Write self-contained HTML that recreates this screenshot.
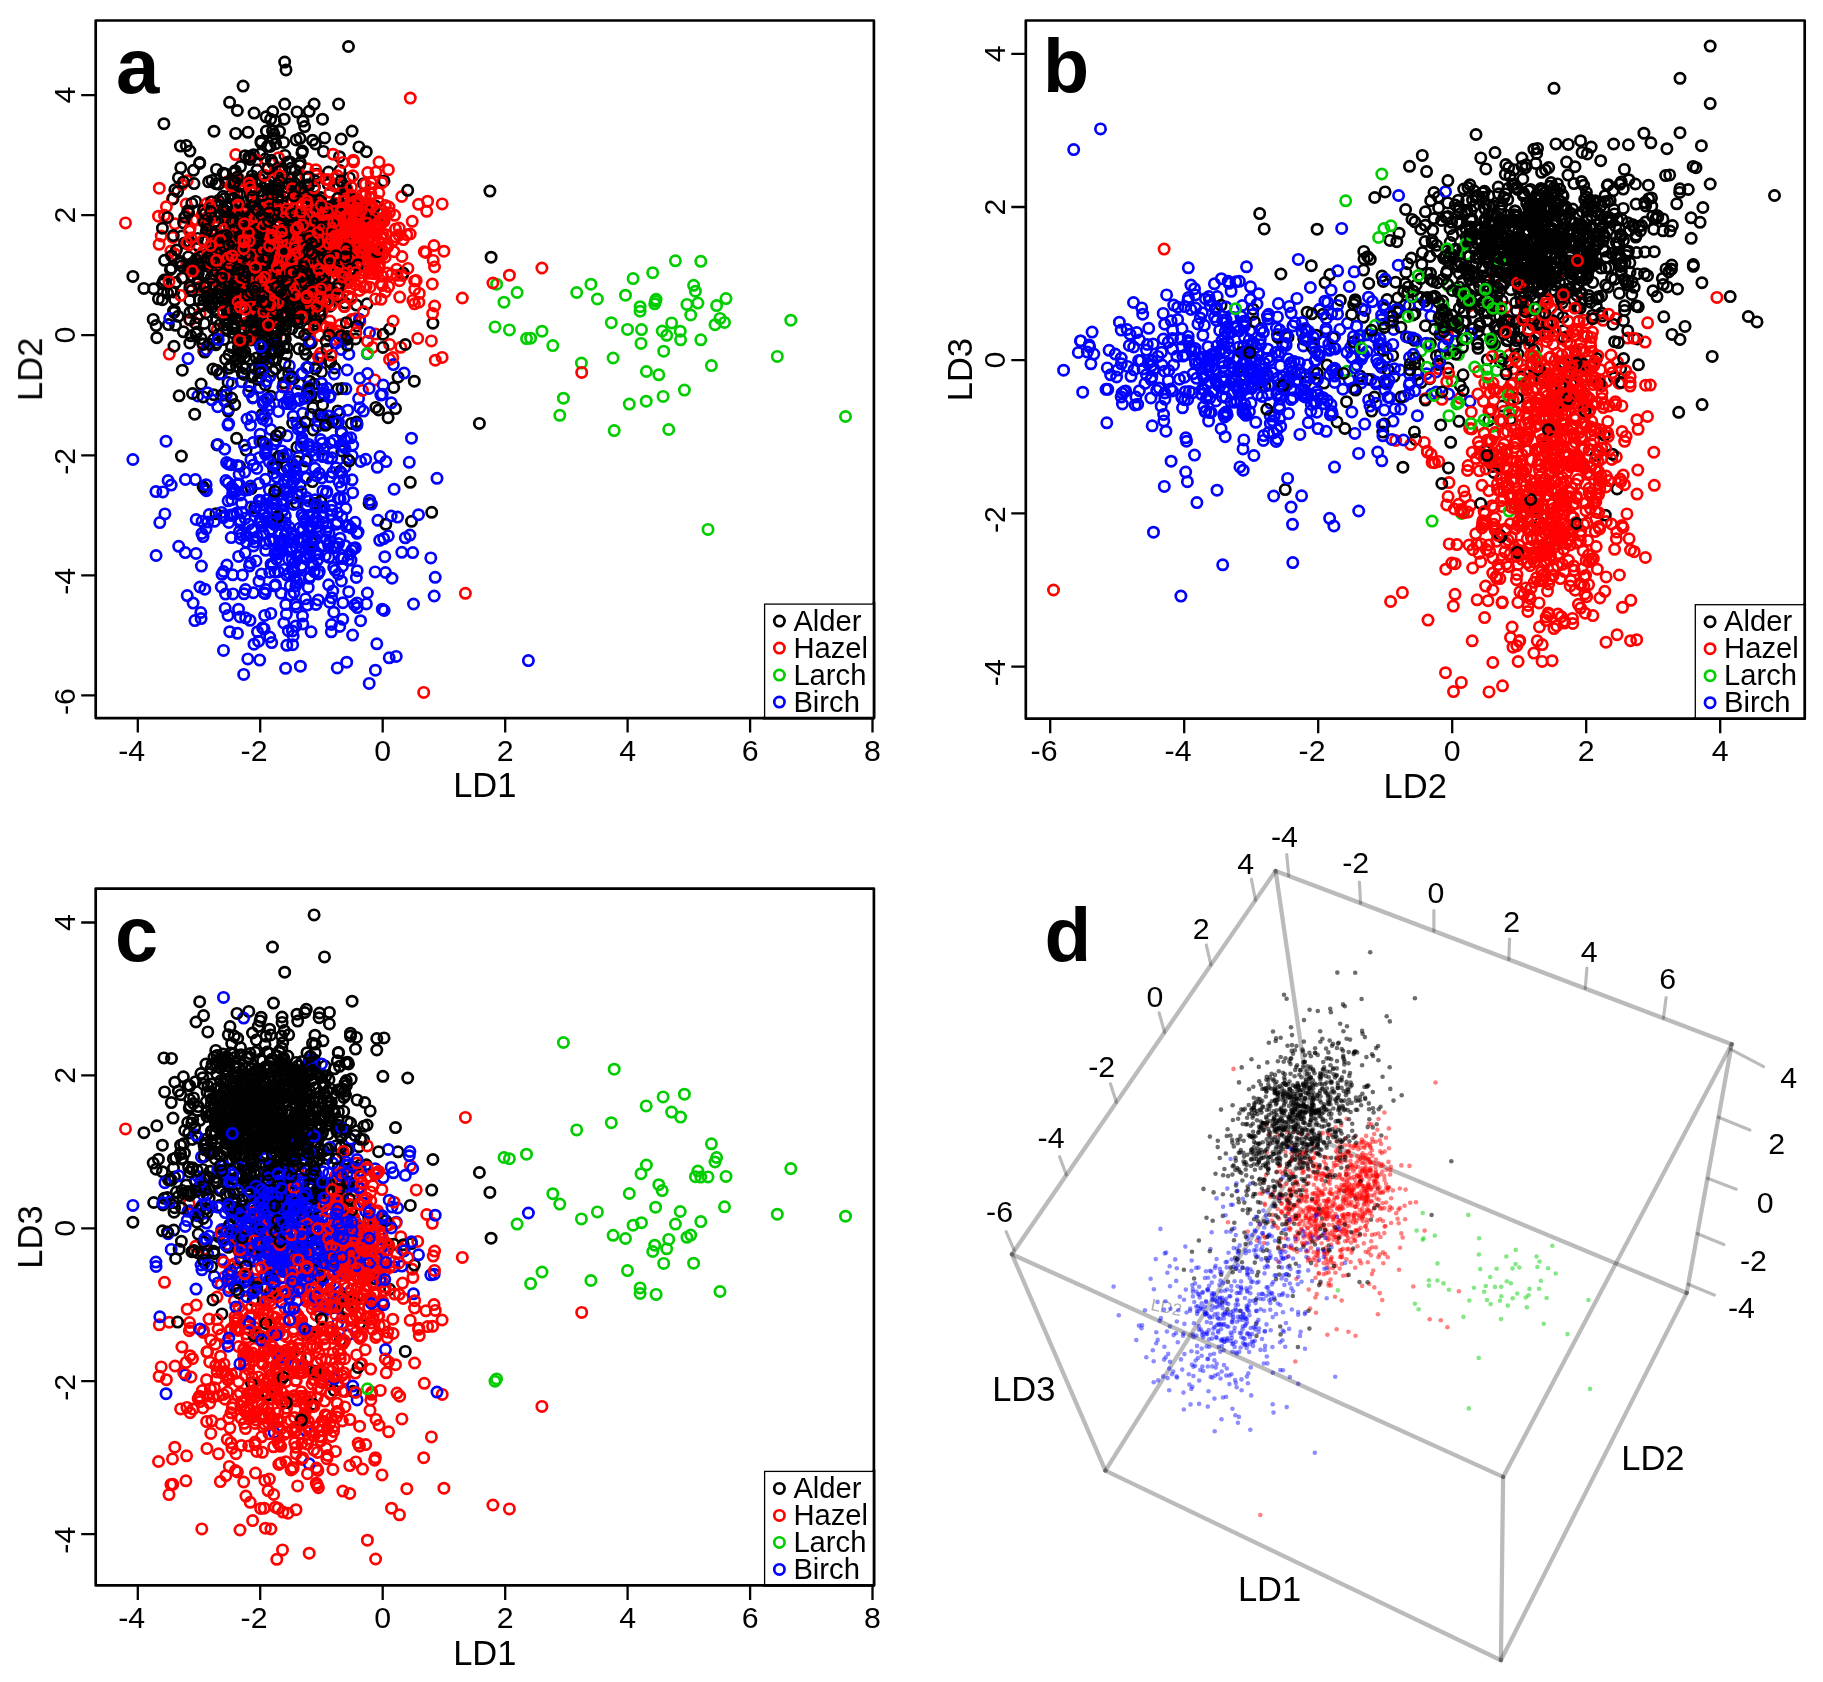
<!DOCTYPE html><html><head><meta charset="utf-8"><title>LDA</title><style>
html,body{margin:0;padding:0;background:#fff}svg{display:block}
text{font-family:"Liberation Sans",sans-serif;fill:#000}
.t{font-size:30.3px;text-anchor:middle}.l{font-size:34.5px;text-anchor:middle}.g{font-size:29.2px}.p{font-size:79px;font-weight:bold}
.d{font-size:30.3px;text-anchor:middle}
path[class^=m]{fill:none;stroke:none}
.m0{marker-start:url(#k0);marker-mid:url(#k0);marker-end:url(#k0)}
.s0{marker-start:url(#d0);marker-mid:url(#d0);marker-end:url(#d0)}
.m1{marker-start:url(#k1);marker-mid:url(#k1);marker-end:url(#k1)}
.s1{marker-start:url(#d1);marker-mid:url(#d1);marker-end:url(#d1)}
.m2{marker-start:url(#k2);marker-mid:url(#k2);marker-end:url(#k2)}
.s2{marker-start:url(#d2);marker-mid:url(#d2);marker-end:url(#d2)}
.m3{marker-start:url(#k3);marker-mid:url(#k3);marker-end:url(#k3)}
.s3{marker-start:url(#d3);marker-mid:url(#d3);marker-end:url(#d3)}
</style></head><body>
<svg width="1823" height="1682" viewBox="0 0 1823 1682">
<defs>
<marker id="k0" markerUnits="userSpaceOnUse" markerWidth="16" markerHeight="16" refX="8" refY="8" viewBox="0 0 16 16" overflow="visible"><circle cx="8" cy="8" r="5.15" fill="none" stroke="#000000" stroke-width="2.7"/></marker>
<marker id="d0" markerUnits="userSpaceOnUse" markerWidth="8" markerHeight="8" refX="4" refY="4" viewBox="0 0 8 8" overflow="visible"><circle cx="4" cy="4" r="2.3" fill="#000000" fill-opacity="0.58"/></marker>
<marker id="k1" markerUnits="userSpaceOnUse" markerWidth="16" markerHeight="16" refX="8" refY="8" viewBox="0 0 16 16" overflow="visible"><circle cx="8" cy="8" r="5.15" fill="none" stroke="#ff0000" stroke-width="2.7"/></marker>
<marker id="d1" markerUnits="userSpaceOnUse" markerWidth="8" markerHeight="8" refX="4" refY="4" viewBox="0 0 8 8" overflow="visible"><circle cx="4" cy="4" r="2.3" fill="#ff0000" fill-opacity="0.5"/></marker>
<marker id="k2" markerUnits="userSpaceOnUse" markerWidth="16" markerHeight="16" refX="8" refY="8" viewBox="0 0 16 16" overflow="visible"><circle cx="8" cy="8" r="5.15" fill="none" stroke="#00cd00" stroke-width="2.7"/></marker>
<marker id="d2" markerUnits="userSpaceOnUse" markerWidth="8" markerHeight="8" refX="4" refY="4" viewBox="0 0 8 8" overflow="visible"><circle cx="4" cy="4" r="2.3" fill="#00cd00" fill-opacity="0.48"/></marker>
<marker id="k3" markerUnits="userSpaceOnUse" markerWidth="16" markerHeight="16" refX="8" refY="8" viewBox="0 0 16 16" overflow="visible"><circle cx="8" cy="8" r="5.15" fill="none" stroke="#0000ff" stroke-width="2.7"/></marker>
<marker id="d3" markerUnits="userSpaceOnUse" markerWidth="8" markerHeight="8" refX="4" refY="4" viewBox="0 0 8 8" overflow="visible"><circle cx="4" cy="4" r="2.3" fill="#0000ff" fill-opacity="0.45"/></marker>
</defs>
<rect width="1823" height="1682" fill="#fff"/>
<g opacity="0.999">
<g><path class="m0" d="M206.2 231.5L242.3 247.6L205.6 222L238.5 355.3L287.1 187.5L339.9 471.4L207.8 260.3L254.9 209.3L259.6 222.8L272.7 111.5L225.9 391L248.9 391.4L270.1 258.8L247.8 294.9L290.9 168.3L241.8 300.8L249.2 303.7L237.3 193.5L228.2 259.2L262 414.6L313.4 264.5L230.3 245.8L179.1 395.8L250.2 239.8L251.8 258.9L263.9 301.3L242.8 220.9L267 284.1L228.2 203.9L218.1 252.1L327.2 300.8"/><path class="m1" d="M242.7 278.1L215.3 269.8L327.7 269.3L225.9 220.2L170.9 251L228.9 224.7L266.5 271.4L264.9 271L317.6 271.4L342.3 272.3L330.9 228.1L337.9 331L278.5 299.4L375.7 269.1L250.1 246.2L240.7 233.5L294 220.1L175 223.7L295.4 278.3L305.9 176.7L325.7 246.1L284.9 313.1L303.4 258.2L276.2 206.6L229.3 265.3"/><path class="m0" d="M299.1 383.8L263.3 250.1L266.9 256.1L232.2 327.8L252 217.6L190 312.3L289.9 275.8L303 211.6L270.7 291L304.2 285.3L269.4 199.3L288.7 373.5L411.5 521.3L321.5 371.9L272.5 131.1L261.8 275.3L388.1 417.7L363.6 183.7L304.7 306.6L257.5 257.8L329.8 306.2L195.6 201.4L323.8 449.2L215.5 286.7L251.4 228.8L339.5 156.7L217 444.9L280 210.7L306.8 298.9L242.8 366L248.8 157.2"/><path class="m0" d="M264.4 327L234.9 172.6L254.8 209.6L209.2 304.1L267.9 244L313.9 199.8L272.4 352.7L258 261.6L261.9 309L260 218.9L410.3 482.3L315.4 229.8L369.1 503.4L317.7 212L299.7 226.8L296 246.9L261.1 142.9L309.2 111.3L234.8 248L293.7 274.1L304.6 349.3L272.1 290.5L306.3 220.3L304.3 240.9L227.3 318.2L266 254.9L325 288.9L248.6 243L322.8 325.7L398 377.2L343.8 185.4"/><path class="m1" d="M244.5 212.6L324.8 256.5L186.6 264.6L185.9 216.1L329.8 321.1L370.8 256.9L277.3 207L207.6 224.4L276.1 338L285.3 385.9L257.7 237.1L221.7 271.1L224.6 239.1L278.8 214.7L328.7 242.8L232.3 285.1L264.2 175.4L336.6 252.9L228.6 252.2L238.7 298.8L207.2 227.7L424.3 251.7L318.1 224.6L240.9 264L236.3 286.9"/><path class="m3" d="M311.1 631.8L285.6 522.8L275.5 584.8L255.1 510.7L365.7 459.3L248.7 524.2L257.2 536.8L291.5 404.1L253.1 538.4L289.4 365.8L245.6 617.8L316.8 366.4L274.1 540.8L301.6 373.5L338.6 543.5L348.3 525.4"/><path class="m0" d="M343.5 263.8L358.9 146.9L227 330.4L328.1 290.4L283.8 259.8L247.1 326L302.4 151L297.8 213.8L260.6 206.6L239.4 267.2L238.5 348L253.2 336.8L223.7 242.6L274.7 465.2L268.4 287.4L272.9 303L280.4 261.7L270.1 181.8L253.5 154.7L234.2 259.6L246.9 223.4L334.3 256.2L255.4 327.9L268.4 290.6L292.5 315.6L162.4 299.7L265.3 159.1L264 224.6L235.5 263.1L277.7 208.5L173.5 311"/><path class="m1" d="M352 320.1L286.6 213.7L301.8 245.1L277.4 225.9L302.3 217.8L320.2 305.8L301.1 308.1L247.3 183.1L262.3 206.8L278.1 317.3L262.4 213L276.8 197.1L189.5 290.4L252.1 255.3L376 172.1L351.7 239.9L378.6 266.5L330.4 328L274 215.4L340.5 252.8L351.5 319.6L281.8 297.9L330.2 247L331.3 244.5L218.5 217.3"/><path class="m3" d="M312.5 537.8L367.3 353.7L293.6 569.3L273.7 473.2L331.6 597.7L276.6 488.7L311.7 564L281.1 593.2L360.6 461.4L263 514.7L396.2 656.4L306.4 508L308.2 546.9L254.2 529.7L284.3 481.3L265.9 448.3"/><path class="m0" d="M216.4 319.4L286 69.9L255.5 258.7L258.2 309.6L260.9 363.3L338.4 270.4L243.1 86.1L296.3 309L263.5 218.7L189.7 300.5L296.2 287.5L212.1 239.5L267.1 305.6L236.7 325.9L202.7 343.7L241.1 301.1L316.8 174.3L263.8 345.8L253.5 229.9L231.3 273.6L156.1 325.6L367.1 303.8L314.7 285.6L360.2 204.3L273.5 313.9L276.5 212.8L210.3 207.8L292.7 423L174.7 299.8L260.3 235.6L344.5 269.6"/><path class="m1" d="M308.3 234.9L293.8 280.4L373 207.6L255.5 221.2L254.3 288.9L284.1 243.2L292.9 312.9L276.8 302.2L359.6 290.5L338.2 228.2L303.2 290L304.6 249.5L325.2 286.1L227.3 255.2L308.4 244.8L406.8 234.7L282.9 254.6L198.1 265.2L295.8 277.7L370.8 187.8L229.9 215.2L200.1 286.8L195.6 262.7L317.5 255.8L380.3 224.5"/><path class="m0" d="M255.8 208.3L309.6 222.3L252.5 287.2L261 219.7L250.9 339.9L314.1 104.1L284.9 155.4L153.7 288.7L254.5 265.3L342 388.5L230.4 225.1L252.3 337.4L234.4 250.6L256.6 252L265.6 183.3L227.7 222.4L273.9 134L315.7 307.9L269 225.1L206.8 297.1L255.6 217.1L294.2 282.6L299.7 165.5L295.3 271L389.6 329.1L293.6 263.7L262.3 220.5L300.1 246.5L203.5 210.5L259.2 281.4L344.8 271.2"/><path class="m1" d="M320.7 353.2L238.6 178.7L325.1 279.6L310.4 227L284.9 246.2L272.4 291.1L375.4 298.9L315.8 169.7L401.9 256.5L265.7 251.8L159.1 244.3L210.8 265.5L174.8 253.9L288 277.3L308.1 297.4L264.7 267.2L292.9 275L292 265.1L235.4 299.8L442.2 203.9L255.1 253.9L235.2 272.6L267.1 215.1L396.6 269.3L324.4 251.8"/><path class="m3" d="M355.1 522.3L237.3 484.3L223.8 515.8L266.6 448.2L358.1 532.1L319.3 571.6L273.2 466.6L528.4 660.6L238.5 609.2L300.9 446.8L296.7 607.1L344.1 498.3L318.9 533L239.8 522.2L345.2 545.7L323.3 393.3"/><path class="m3" d="M287.8 481.1L297.1 391L252.1 529.7L273.9 443.8L350.8 437.8L260.3 520.1L233 593.9L250.5 486.1L329.6 602.2L299.5 528.3L347.5 459L303.1 529L295.8 585.9L271.8 507.7L335.2 570.3L282.6 543.6"/><path class="m0" d="M262.7 362.6L289.6 285L286.5 354.5L299.4 278.1L266.7 223.2L272.9 371.2L249.3 255.8L311.3 342.9L239.6 466.3L271.2 256.8L248.3 289.8L338.2 185L281.1 337.7L341.8 450.9L262.8 176L235.7 133.4L275.4 263.4L192.7 262.9L265.6 271.3L351.2 244L282 286.3L233.6 217.4L244.6 357.6L284.4 248.7L295.6 270.3L384 180.9L197.5 273.5L220.8 283L216.6 320.1L234.4 329.1L215.9 513.7"/><path class="m1" d="M227 182L277.9 239.3L302.7 245.6L283.4 288.2L305 242.8L294 268.6L310.6 260.4L384 251.9L234.7 239L190.1 320.1L231.5 259.8L423.7 692.4L312.1 243.1L276.5 267.2L278.5 157.7L298.2 272.9L209 287.3L253 189.7L271.7 253.6L419.3 293.4L410.3 98.1L373.1 212.5L272 267.9L327 301.1L206.6 283.2"/><path class="m0" d="M292.5 282.7L278.1 201.1L143.9 288.4L311.1 542.3L256.7 226.8L324.7 137.9L248 322.2L264.1 243.7L226.8 274.5L206.9 297.2L271.2 304.1L164.2 280.1L252.5 200L267.2 305.5L279.9 456.3L319.4 396.7L263.6 206.6L266.8 265.9L271.3 268.2L273.7 285.4L251.4 292.7L215.6 205.9L309.2 278.3L234.3 284.6L307.3 397L249.3 385.9L306.8 315.8L345.1 303L230 272.8L174.8 189.8L254.5 236.6"/><path class="m0" d="M283.1 294.3L174.5 310.7L308.3 261.1L258.9 248.2L271.8 289.1L308.3 289.8L260.6 377.4L285.9 302L228.1 382.4L298.9 318.8L314 198.2L221.6 395.3L340.2 297.9L267.7 194.7L243.1 270.2L289.9 161.9L282.7 286.4L291.8 294.9L217 292.9L223.2 173.2L244 374.5L359.7 206.4L237.9 288.9L308.5 266L275.7 359.8L258.5 363.1L230.6 195.6L237.5 215.6L231.8 308.4L253.9 280.2L234.5 218"/><path class="m3" d="M322.9 389.2L329 532.7L335.7 422.4L327.7 527L256.8 468.5L259.9 441.2L330.2 442.7L318 554L303.9 557.9L272.6 565L329.9 541.4L352.7 492.7L221.6 512.4L224.9 401.3L337.6 512.9L268.1 398.4"/><path class="m1" d="M220.5 212.4L247.7 275.8L412.2 221.3L333.9 208.7L337.6 274.9L343.7 340.2L273.2 247.8L244.4 323.5L282.9 210.9L301.7 274.5L306.7 226.2L265.4 245.7L230.9 254.1L277 189L206.5 262.8L340.3 324.8L316.9 211.7L265 246.9L196.2 219.9L316.2 227.8L284.2 284.8L291 276.4L249.8 301.4L199.5 255.5L263.2 272.7"/><path class="m0" d="M221.9 251L199.7 163.5L356.4 305.1L297.9 268.6L241.3 343.3L274.7 308.4L229.8 229L273.9 176.2L249 229.1L224.7 324.9L248.4 254.9L271.8 243.4L277.7 330.3L223.8 265L322.5 119.2L203.9 300L246.2 337L263.9 262.7L218.3 334.6L328.2 184.3L341.2 431.4L219.4 373.9L253.5 375L312.6 359.5L283.8 382.8L276.2 216.2L171.4 268.2L244 233.6L183.4 331.8L249.1 278.4L272.7 299.5"/><path class="m3" d="M292.7 644.7L308.7 444.4L430.8 557.9L274.8 571.9L271.7 642.6L331.3 505.7L221.3 587L279.7 551.8L392 578.2L322.8 490.9L434.2 596L226.6 462.6L226.2 395L285.3 515.9L311.8 547.5L260.1 387.7"/><path class="m1" d="M322.4 240.6L221.1 276.6L227.2 301.1L412.9 300.4L288.2 290.6L227.2 274L223.4 242.8L355.3 318.8L280.4 197.5L400.8 347.3L169.3 354.1L365.7 252L319.5 292.9L274.1 257.8L263.9 248.2L410.2 234L367.3 241.4L181.9 184.7L442.1 357.4L238.7 279.8L279.4 197.3L245.5 251L256.7 248.7L301.2 298.9L285.9 271.1"/><path class="m3" d="M359.8 407.7L230.5 515.1L178.7 546.3L320.4 358.1L298 429L326.4 492.9L356.9 425.2L375.4 670.2L377.9 520.3L296.8 581.9L327 388.3L264.2 628.9L301.7 427.4L313.6 565.4L207.7 522.1L343.9 338.5"/><path class="m0" d="M348.5 46.5L281 321.7L246.1 244.5L254.1 113.1L312.4 481.6L283.4 290.7L332 258L233.2 184.4L244 280.2L206.9 274.1L281.4 214.1L267.4 146.3L225 293.6L256.3 322.8L259.4 368.6L321.2 305.2L318 298.7L265.2 248.7L239.7 245.5L256.7 302.4L224 252.7L237 210.6L279.1 246.6L227.8 276.6L271.7 260.4L273.7 468.2L294.2 258L323.5 151.4L311 414.4L260.3 257.2L366.3 151.7"/><path class="m3" d="M409.9 535.1L291.4 539.1L329.8 476.8L333.7 567.5L290.7 551.3L239.1 474.3L328.1 422.7L267.8 410.1L306.6 497.6L341.1 486.7L292.1 569.3L299 541.7L231.7 487L343.5 558.1L318.6 414.4L195.4 479.6"/><path class="m1" d="M359.9 321.5L264 267.6L287.5 203.1L322.2 273.6L375.6 334.1L312.2 300.3L282.5 327L237.7 182.1L322.1 267.7L317.8 290.5L277.4 254.3L331.7 304.6L389.5 359.4L333.5 332.5L316 227.9L240.6 258.7L217 232.1L294.1 308.6L331 229.3L164.5 215.3L253.7 210.4L344.6 254.4L349.9 288L273.8 279.2L243.6 260.7"/><path class="m1" d="M331.1 208.3L280.7 240.7L272.4 297.5L298.9 219.2L541.9 268L278.4 245.7L256.8 241.1L393.1 321L318.4 356.9L228.6 215.2L432.3 284L402.5 275.5L286.1 180.8L258.4 296.6L416.2 280.6L298 233L243.6 239.3L210.7 232.4L333 291.2L370.1 270.1L279 220.9L342.5 219.5L381.9 221.6L346.8 188.7L263.7 264.7"/><path class="m0" d="M282.2 169.2L334.5 239.6L246.4 263.5L236.9 206.3L356.5 422.1L278.2 189.9L322.5 233.6L304.6 126.6L246.1 450.1L297.7 296.9L272.5 162.9L240.1 194L198.1 261.4L247.7 292.3L300.6 269.3L275.7 240.8L405.3 344.5L273.1 138.9L298.2 223.3L300.2 484.8L267.9 189.6L403.3 273L204.1 275.9L247.7 285.1L225.6 320.7L241.3 228.5L217.7 250.9L180.3 263.3L273.4 300L271.3 354.7L189.9 151.1"/><path class="m3" d="M344.3 479.5L286.5 454L266 454.2L269.7 637L321.8 478L240 617L275.2 585.8L206 529L202.1 521.4L346.2 526.6L294.3 576.8L274.4 494.7L324.1 395.5L214.4 521.3L262.4 526.2L295 577.3"/><path class="m2" d="M495 326.9L496.6 284.2"/><path class="m3" d="M265.3 454.1L317.1 448.2L276.7 521.9L243.7 674.4L393.4 364.6L302.1 437.9L289.2 492.1L250.9 459.5L287.1 403.6L376.8 643.8L254.9 368.7L278.5 411.4L239.3 531.8L201.9 533.5L187.2 595.6L288.4 399.4"/><path class="m1" d="M256.6 160.2L374.9 251.5L235.9 305.3L323 292.6L392.8 357.5L426.7 211.3L190.1 228.2L336.6 234.4L248.7 255.6L377 229.3L235.5 257.4L360.8 257.5L333.1 154.2L317.3 222.5L284.3 228.2L309.2 290.2L344.4 213.8L200 314.1L301.8 265.7L382.5 276.3L159.3 188.2L292.3 203.6L381.4 283.4L298.8 257.5L358.2 242.8"/><path class="m0" d="M270 248.8L233.8 240.5L241.7 353L234.8 285.7L247.9 260L246.5 223.5L195.5 323.5L303.5 197.8L220.2 285.4L260.1 330.6L235.4 318.8L283.1 338.3L315.4 144L267.2 226.2L174 312.4L270.6 229.4L304.2 215L262.6 351.5L262.5 294.3L314.4 187.1L171.5 256L276.8 248L291.3 179.1L253.3 272.5L227.8 318.7L265.7 324.6L265.3 384.9L281.6 274L284.5 242.7L237.7 279.9L234.5 314.1"/><path class="m3" d="M304.5 522.7L293.2 635.9L294.9 562.3L359.5 319.3L326.9 424.1L348.7 591.7L355.3 547.8L265.4 479.3L283.3 457L320.8 546.3L316.6 475.8L259 581.2L277.2 554.1L282.5 550.9L318.5 521L348 560"/><path class="m0" d="M319.9 300.6L250.7 292.2L248.1 250.9L338.9 186.6L307 279.4L270 302.3L267.5 243.7L334 249.6L313.9 384L201.1 384.1L255.7 189.7L263.6 267.8L236.1 296.6L276.2 342.7L260.1 252.3L292.9 284.3L291.6 266.3L218.7 184.2L301.6 218.9L188.2 268.1L226.9 252.5L270.5 265L273.3 178L329.4 242.3L284.2 325.6L314.2 306.2L210.2 295.1L345.5 236.6L225 256.9L299.1 213.2L335.8 222.2"/><path class="m1" d="M369.1 232.5L363.3 241L231.4 258.8L359.5 238.3L379.3 224.7L348.7 250.3L275.3 169.9L330.3 262.8L284.4 240.9L246.3 217.6L361.6 211.5L268.2 290.2L371.4 249.6L376.3 224.7L394 240.1L360.2 232.1L220.9 263.1L302.1 306.6L325.1 224.3L276.7 224L414.5 303.8L293.2 250.6L316.7 222.6L344.8 214.3L356.1 243.3"/><path class="m2" d="M504 302.2L509.4 329.9"/><path class="m1" d="M340 250.1L379 162.1L387.7 246.8L286.1 259.1L262 282.4L342.2 246.1L265.1 204.2L320.9 298.9L335.4 203.2L385.2 257.2L270 245.4L161.2 236L333.7 185.7L239.2 281.3L356.2 257.8L275.9 226.5L371.7 217.3L360.8 219.3L382 182.6L349.7 202.9L358.5 240.1L326.8 249.8L190.5 286.4L335.7 225.9L375.8 260.2"/><path class="m2" d="M517.1 292.5L526.5 338.6"/><path class="m3" d="M317.6 559.8L401.8 552.3L267.4 517.7L259.3 500.2L305.1 520L345.9 388.8L336.2 524.3L283.5 539.7L296.8 556L290.3 585.8L281.9 450.9L352.3 455.9L300.1 427.5L209.2 514.5L384.2 610.5L287.1 435.8"/><path class="m0" d="M307.9 272.2L235.6 276.5L256.9 282.9L298.3 310.6L216 254.6L223.9 339.4L224.6 285.5L228.2 411.1L343.8 257.8L271.5 337.2L265.5 222.2L173.7 292L178.4 177.8L328.5 172.1L241.6 235.3L237.4 110.5L199.7 162.5L238.1 236.5L326.3 292.5L305.6 460.9L257.6 233.7L197.4 245.1L218.6 213.7L228.3 272.6L211.9 180.4L231.5 398.1L337.8 389L346.4 195.9L284 346.8L393.7 387.5L238.9 250.7"/><path class="m2" d="M530.6 338.2L542 331.2"/><path class="m1" d="M241.4 259.8L305 277.5L261.6 246.5L234.9 259.5L372.5 347.4L316.9 258.5L326.1 327.3L370.9 193.8L334.4 339.4L307.4 206.4L342.5 229.3L375.3 252.2L365 223.8L342.2 279.1L235.7 154.6L462.3 298L232.8 264.4L389 207.1L418.5 204.3L331.9 210.1L351.9 278.3L205 218.5L286.6 304.9L305.4 231.1L370.8 248.1"/><path class="m0" d="M256.7 210L308.6 392.7L294.1 312.1L309.7 343L339.9 170.5L292.4 185.5L174 346.2L255.7 235.9L215.3 303.4L271.8 203.3L244.9 368.5L250.1 159.4L296.8 319.6L198.3 273.3L294.8 248.7L308.9 307.2L239.3 298.6L208.6 181.8L280.2 235.3L325.2 301.7L310.4 276.7L304.8 190.6L251.7 201.4L243.7 246.3L287.2 243.2L334.5 204.8L314.1 220.7L237.8 340.1L273.2 262.1L309.4 254.4L309 228.2"/><path class="m3" d="M263.4 403.4L336.9 547.1L308.9 553.7L309.2 578.3L257.5 631.7L241.4 381.7L334.2 418.9L281.4 471.6L274.3 345.2L221.5 373.7L185.4 479.5L315.7 538.9L211.8 399.8L301.4 565.4L266 357.7L292.4 631"/><path class="m1" d="M367.5 219L349.7 217.8L338.9 236L381 299.3L357.3 241.9L307.5 334.2L187.2 180.8L206.8 203.5L292.2 289.2L304.9 274.8L225.1 229.2L300.7 195L245.5 215.7L261.5 246.4L330.3 232.9L263.3 256.9L218.9 267.4L425.9 252.4L373.9 273.7L382.3 285.5L317.1 215.2L367 241.3L378.7 256L268.1 168.9"/><path class="m0" d="M314.9 180.7L284.9 302.9L243.3 252.9L269.6 219L287 347.6L243.9 306L285.4 338.9L319.5 231.2L226.6 305.4L243.6 229.2L192.2 269.1L334.6 368L245 235L236.5 366.3L250.1 156.4L251.2 488.7L257 170L217.4 239.4L268.2 210.6L285.6 317.1L220.1 266.2L180.8 167.8L212.9 369.1L368.7 262.2L303 121.1L280.9 304.5L266 116.8L240.7 239.6L265.6 353.5L308.8 276.7L284.7 62.1"/><path class="m2" d="M552.8 345.6L559.8 415.3"/><path class="m0" d="M188.4 256.9L280.1 233.1L263.1 221.9L207.5 292.1L214 131.2L237.1 305.1L253.1 321.9L233.6 332.9L231.5 297.8L309.5 256.6L254.1 257L315.6 284.8L254.7 309.9L212 262.4L310.9 316.7L383.1 334.3L274.8 238.6L288.7 184.3L360.6 251.2L213.6 394.7L281.4 279.1L198.3 263.7L351.8 205.8L376.8 219.3L204.3 323.4L345.5 188.7L251 255.6L215.3 234.3L246.5 271L281.3 239.3L317.3 258.9"/><path class="m3" d="M323 516.9L260.2 434.2L292.1 533.1L308.6 515.7L292.9 498.1L306.7 477.7L323.7 418L318.1 573.9L197.9 396L238.6 556.4L314.9 468.3L193.1 603.1L397.6 517.1L299.3 400.5L251 507.1L171.2 485.1"/><path class="m1" d="M217.2 329.5L361 217.1L374.7 379.9L331.3 222.9L220.1 283L297.2 230.3L328 302.4L340.3 244.5L378 201.3L382.4 255.2L304.2 255.6L316.7 244.1L252.1 333.4L247.1 206.9L379.4 255.9L265.4 295.8L333.6 257L363.6 242.8L395.8 237L322.1 311.2L343.2 224.4L323.7 236.5L395.5 229.1L324.8 246"/><path class="m3" d="M236.7 513.1L285.8 604.6L366.4 603.9L275.9 440.4L203.1 536.6L341.2 558.6L229.7 631.7L286.8 645.3L310.8 526L315.1 499.8L316 518.2L317.3 507.3L234.1 489.8L251.8 416.7L201.4 566.1L225.5 594.1"/><path class="m2" d="M563.4 398.2L576.7 292.5"/><path class="m1" d="M394 251.7L258.3 254.3L278.8 286.9L386.4 215.1L221.1 240.1L317.4 220L287.3 234.6L234.4 195.9L321.1 202.5L347.2 258L327.1 227.9L382.1 210.4L371.6 223.2L382.7 233.9L434.5 267L433.2 260.4L273.1 286.2L240 298.9L255.8 248.4L345.5 229.2L287.1 294.1L363.4 311.6L322.5 242.2L268 234.8"/><path class="m3" d="M341.8 516.4L245.5 589.6L326.1 531.2L288.8 496.4L394.1 489.2L338.3 498.3L319.2 473.3L367.4 593L272.8 465.1L159.8 522.6L224.7 449.2L305.5 478L379.7 540.3L343.4 445.8L297.1 423L302.8 623.9"/><path class="m2" d="M581.4 363.1L590.9 284.2"/><path class="m0" d="M306.1 261.1L250.1 244.7L291.6 201.4L287.7 162.2L253.2 397.4L272.3 194.1L275.2 121.1L285.4 216.5L222.9 250.4L209.6 304.2L260.1 154.1L281.5 248.8L364.7 215.6L249.6 359.2L370.2 212.7L311.3 273.6L164.6 260.3L311.5 213.7L296.9 447.3L247.4 285.4L269.5 239.5L270.6 282L338.3 237.8L193.6 309.9L232.7 266L282.4 262.3L277.1 277L300 138.3L320.7 501.3L336.9 206.9L301.9 152.8"/><path class="m0" d="M227.4 267.4L254.7 507.6L214.6 215.1L230.8 365.3L255.4 339.9L319.6 310.7L270.6 119.3L305.7 259.6L323 255.1L246 268.6L216.7 298.3L249.9 278.1L337.8 410.9L299.8 239.8L254.9 232.7L280.2 255.7L239.3 222.3L226.1 255.2L298.8 332.4L294.2 192.1L341.2 139L268.6 362.5L339.5 296.5L395.5 408.6L305.9 300.5L284.7 266.3L249.5 304.5L308.5 328.8L242.5 186L246.7 296.7L235.7 223.1"/><path class="m1" d="M283.7 210.9L183.8 277.7L201.8 254.6L325.6 265.5L269 240.9L372.7 256.9L254.6 266L246.7 255.8L358.5 200L256.4 307.2L319.6 335.6L374.3 216.6L296 252.2L353.3 160.2L379.4 265.3L355.4 284.7L203.6 351L189.1 245L313.3 242.1L388.4 169.7L308 231L352.5 207.8L371.4 255.3L302.3 270.6"/><path class="m3" d="M273.1 500.4L332.9 546.1L320.3 506.8L265.9 589.6L255 511.2L223.5 571.5L303.4 540L279.4 524.4L297.9 554.8L352.6 635.1L303 443.1L276.4 503.4L269.3 530.4L271.1 564.2L269.4 490L310.3 556.9"/><path class="m2" d="M597.4 299L611.3 322.7"/><path class="m3" d="M312.9 521.7L349.8 554.1L237.5 633.3L302.7 413.3L313.1 546.9L344.9 447.9L359.7 378.3L294.3 475.7L276.8 477.1L288.3 630.7L244.4 445.3L309.2 341.2L254.6 542L380.8 395.1L335.2 547.6L339.7 626.5"/><path class="m1" d="M269.3 275.3L293.5 244.4L372 230.5L342.2 274.2L342.8 227.1L337.1 232.9L286 279.8L345.5 210.9L350.6 202.5L347.2 250.7L334.2 293.4L306.6 285.6L280.4 309.7L344.9 265.7L303.3 234.9L358.3 249L262 275L229.2 262.5L252.4 308.5L431.4 340.9L275.6 249.5L272.9 270.7L284.7 230.9L287.5 302.4"/><path class="m2" d="M613.1 358L614.2 430.6"/><path class="m0" d="M309.6 271L283.9 315.7L244.9 266L281.8 176.9L313.1 219.2L265.4 205.7L249.7 180.8L255.1 203.5L234.3 278.6L231.7 231.5L293.8 378.5L212.1 299.2L229.1 368.2L331.4 291.2L274.3 340.3L282.7 240.5L184.7 217.2L163.9 123.7L236.2 359.2L297.8 221.7L258.7 334.8L272.5 268.5L225.5 319L248 132.3L309.5 381.2L177.6 191.7L181.4 456.1L298 312.3L344.6 253L243.1 353.3L201.3 338.6"/><path class="m0" d="M167.5 293.1L296.3 502.9L297.4 252.4L259 254.9L261.5 280.8L319 243L132.9 276.4L294.1 315.7L315 225.2L227.4 314L204.8 241.4L231.2 277.7L272.9 275.6L282.1 254.4L329.4 362L269.7 311.4L272.9 246.7L320 251.8L352.8 223.7L205.9 312.7L211.3 277.7L264.6 218.6L342.2 258.5L246.6 244.7L192.5 393.5L282.4 375.1L278.1 457.1L244.9 351.5L162.5 284L217.1 293.9L251.2 322.2"/><path class="m1" d="M389.4 212.7L329.7 216.4L324.7 247.1L172.5 198.5L278.1 215.7L298.1 279.3L260.1 307.7L357.1 266.1L353.8 220.3L394.6 215.3L370 287.2L251.1 301.6L293.5 208.7L229.8 233.7L236.2 282L342.8 201.9L357.9 226.3L343.6 218L359.3 273.2L363.2 265.1L202.3 214.4L254.7 224.7L294.7 276.4L336.5 251.3"/><path class="m2" d="M625.5 295.2L627.5 329.4"/><path class="m3" d="M201.1 618.6L342.7 619.3L311.5 540L333.9 440.6L168.1 480.5L409.3 462.3L270.9 429.5L250 620.3L358.6 398.6L347.8 410.2L244.9 490.1L278.4 571.7L217.7 406.7L265.9 543.7L264.5 415.9"/><path class="m0" d="M279.8 324.6L289.9 299.5L242.1 286.7L273.3 327.2L263.9 305.3L297.4 257.6L277.3 328.7L347.2 339.2L197.7 238.4L375.8 407.4L216.5 169.4L299.3 280.7L318.6 247.3L168.4 324.6L250.3 239.8L223.9 250.5L252.1 175.9L357.1 326.1L308.4 187L173 198.9L327 246L249 256.1L240.5 272L251.4 198L251.2 329.6L267.1 250.1L286.4 466.6L204.7 352.1L258.7 258.6L220.5 256.5L275.7 143.7"/><path class="m1" d="M362.5 248.7L403.2 239.6L378.8 192.9L355.2 199.9L296.1 252.6L244.1 253.1L336.6 222.8L387.3 273L273 305.7L309.7 302.5L373.7 253.4L230.8 228.7L353.6 161.9L308.8 294.6L328.8 209.6L353.6 243.7L387.8 245.4L352.6 269.2L249.3 233.1L252 235.8L385.9 248.3L350.4 280.7L242.5 280.7L268.1 263.2"/><path class="m2" d="M629.3 404.1L633.1 278.6"/><path class="m1" d="M193 220.4L434.6 306L341.7 210.5L348.6 226.3L335.5 270.8L245.4 266.2L218.1 273.9L397 275.3L305.2 229.5L370.5 260.1L221.2 235.9L268.7 216.4L306.5 255L254.6 282.2L348.3 251.4L285.6 237.3L343.1 191.8L303.3 242.7L335.7 237.5L257.4 310.5L314.3 316.9L253.7 255L338.5 257.4L317 212.6"/><path class="m3" d="M413.5 604L383.2 385L316 523.2L348.6 525.8L307.3 459.1L305.5 598.8L261.5 370.3L222 574.3L292.4 482.8L380 456.5L256.8 505.9L295.6 478.7L291.8 547.4L228.2 482.7L242 512.4"/><path class="m0" d="M288.2 229.9L293.4 252.3L268 341.3L233.7 198.5L184.5 242.9L235.9 220L350.5 255.8L279.6 131.3L262.8 357.8L343.7 262L278.7 255.7L291.8 263L264.6 257.6L198.2 278.9L240.1 256.9L254.7 270.9L240.5 166.6L305.8 265.4L252.8 266.7L307.7 290.7L258.2 281.5L352.1 131.1L248.8 256.7L385.8 524.3L284.1 291.6L261.1 217.7L320.7 197.6L153.2 319.4L225.5 321.6L226.8 328.8L267.4 329.8"/><path class="m3" d="M330.2 395.3L244 593.8L281.6 500.5L271.9 529.2L317.4 426.3L286.4 530.1L288.5 469.6L253.1 442.6L274.5 524.6L240.4 538.4L284.8 492.4L294.9 470.2L289 573.2L283.9 623L340.1 538.2"/><path class="m1" d="M271.7 261.3L274.7 306.6L291.9 237.9L357.3 219.9L252.6 229.1L348.4 259.5L276.9 258.6L360 245.1L338.8 337.9L237.4 222.1L245.7 282.7L383.3 219.1L180.6 295.4L366 245L297.6 266.5L384.3 217.6L371.5 256L351.1 252L343.6 221.2L335.1 178L257.4 203L300.5 226.3L265.3 268L308.4 240.2"/><path class="m2" d="M640.1 306.7L640.1 311.2"/><path class="m2" d="M641 343.4L641.5 329.6"/><path class="m3" d="M297.7 539.2L259.3 457.7L323 522.6L245.2 552.8L269.8 540.9L322.6 456.6L206.4 490.7L196 553.5L388.3 535.9L260.1 509.5L369.5 332.4L412.7 552.6L348.8 354.2L391.2 516L287 488.9"/><path class="m0" d="M479.4 423.4L245.9 230L315.4 369.1L295.2 257.8L259.9 179.2L315.3 281.2L295.3 170.4L204.1 222.1L273.2 359.3L209.3 252.6L432.9 323.2L267.9 249L288.5 162.1L266 317.2L258.3 379.4L269.6 202.2L181.8 236L266.2 258.8L199.4 299.7L243.2 285.2L271.7 188.2L260.8 291.3L218.4 200.6L346.4 276.4L189.3 241.4L194 183.6L234.6 311.9L224.6 198.6L313.2 429.9L312.5 140.3L245.4 340.8"/><path class="m1" d="M337.3 175.8L337.9 236.7L311.4 281.6L382.1 236.9L321.3 281.7L359.1 225.2L277.5 275.4L324.3 271.7L391.5 274.6L293.1 303.1L298.6 197.3L249.6 217.1L356.4 214.8L263.9 269.4L313.5 244L313 246.2L330 192.3L338.3 260.4L349.6 209.6L339 265L345.8 259.2L370.3 227.9L261.6 219L318.9 298.7"/><path class="m0" d="M284.9 210L265.5 241.9L313.2 291.5L375.7 206.1L235.4 310.7L294.8 183.3L296.1 139.9L254 338.6L491.1 257.2L211.2 211.9L298.1 177.5L265 283.4L306.2 254.1L215.7 344.8L324.9 277L238.7 201.9L322.6 404.9L278.8 271.3L283.3 229.3L274.4 329.8L271.4 300.8L216.7 370.2L287.8 278.1L175.6 325.3L272.9 285.7L200.6 263.8L271.9 266.7L231.6 347.4L214.6 274.5L188.7 265.3L260.5 316.5"/><path class="m3" d="M320.6 439.6L296.3 547.4L367.5 373.5L318.2 420.7L337.4 521.9L303.4 517.2L357.3 607.6L273.8 503.8L308.2 587.4L247 419L322.9 416.4L200.8 612.5L329.5 397.2L315.1 538.5L223.5 650.4"/><path class="m2" d="M646.2 401.2L646.4 371.5"/><path class="m0" d="M183.6 223L252.1 302.6L232.6 221.5L489.9 191.1L318.5 261.9L305.9 354.3L231.7 293.1L205.9 286.2L225.8 307.8L320.4 289.2L245.1 155.7L329 206.7L274.5 193.6L248.5 217.5L314.7 278L234.8 296.2L256.3 358.1L350.5 269.4L259.1 239L340.3 260.9L315 309.7L262.9 294.8L236.6 438.3L354.3 198.7L260.6 372.7L266.4 131.1L289.2 305L277.6 239.6L252 256.6L221.7 296.8L277 188"/><path class="m1" d="M374 232.2L294.5 262.8L278 317.6L213 249.5L399.2 228.1L399.5 280.7L352.6 225.7L465.4 593.3L296.6 196.7L331.3 269.7L333.9 211.4L296 197.4L293.7 266.9L340.4 253.9L363.2 237.1L294.5 254L373.3 257L290.7 260.9L305.5 226.3L375.8 235.2L277.3 243.1L342.1 251.7L355.8 258.7L230.9 185.4"/><path class="m2" d="M652.7 272.7L654.7 303.8"/><path class="m3" d="M228.1 500.8L217.9 444.4L239.9 520L269.8 376.3L231.2 515.5L253.5 464.9L247.8 658.9L344.9 467.2L301.2 491.7L206.5 349.7L375.1 571.9L294 592.6L341.2 349.5L357.2 570.7L269.9 540.2"/><path class="m1" d="M203.2 251.6L186.9 242.8L303.3 227.2L253.3 234.6L317.4 267.5L248.7 295.4L277.7 257.1L368.7 238.1L332.9 290.3L251.5 296.6L311.2 310.8L336.1 286.9L364.5 195.9L309.6 236.3L322.1 215.6L321 276.1L366.1 286.4L389.6 344.4L271.8 263.7L308.8 263.3L264.7 243.9L316.5 175.2L367.4 341.2L186.1 204"/><path class="m2" d="M655.6 301.1L656.1 299.3"/><path class="m3" d="M237.5 465.6L357.1 602.9L164.9 513.9L225.2 608.4L383.7 538.6L293.9 470.8L345 439.9L331.4 624.5L169.7 318.3L310.1 576.5L256 560.9L285.6 668.3L297.2 495.4L289.3 527.4L308 536.4"/><path class="m0" d="M292.8 304.2L163 282.5L252.1 179.6L378.6 410L283.6 299L284.7 104.1L297.7 273.8L158.4 298.8L241.9 289.4L224.8 238.3L237.6 264.7L214.1 328L238.1 214.4L191.9 290.4L308.5 281.2L241.1 355.1L282.1 214.2L280.1 259.1L209.9 255.5L229 354.7L283 260.9L259.9 264.2L297.2 461.4L187.7 210.8L311.6 201.9L270.8 396.2L219.8 324.8L235 229.5L189.7 319.4L284.9 316.7"/><path class="m1" d="M215.8 240.3L342.3 249.6L351.4 271.9L252.1 192.5L341.5 230.6L239 235L252.6 262L344.1 245.2L443.9 251.2L278.7 268.7L385.4 205.6L273.6 247.8L367.2 246.7L313 318.1L348.2 235.6L363.3 245.9L377.4 271.8L262.7 253.9L307.6 168.7L268.8 245.6L268 258.1L342.9 221.2L189.3 231.1L248.2 250.3"/><path class="m3" d="M274.7 585.8L293.6 536.1L309 447L267.2 521.3L266.4 381.3L309.3 548.3L132.9 459.5L254 644.2L328.1 458L235.8 491.6L354.5 605L307 505.5L265.7 550.3L340.7 445L288.5 559.1"/><path class="m2" d="M658.8 374.8L662.2 331"/><path class="m0" d="M225.7 211.4L268.6 210.4L281.1 274.8L235.5 313.6L298.7 348.8L303 229.1L272.8 283.3L221.6 288.3L337.3 214.9L182.3 370.2L251.9 377L347.3 336.6L283 205.8L259.2 262.9L209.1 344.1L277.4 244L288.8 321.3L288.4 299.3L171.3 291.4L175.7 282.6L235.5 277.1L285.5 329.4L236.2 282.4L259.6 264.1L319.1 262L328.6 256.6L340.8 181.1L304.6 335L259.9 343.7L178.2 316.3"/><path class="m0" d="M245 236.7L288.7 250.8L326 341.1L227.3 297.1L291.8 376.7L202.8 305.6L281.5 315.5L248.6 242.6L431.7 512.3L282.7 287.6L316 320.7L314.4 324.3L216.8 342.9L349.2 460.9L303.5 317.5L286.6 295L282 258.8L314.8 503.6L224.4 282.7L273.4 313.8L305.3 315.2L297.4 219.3L284.1 192.5L162.4 228.2L355.1 243.5L286.3 292.9L275.1 231.4L251.2 243.4L264.7 302.2L255.7 304.6"/><path class="m2" d="M663.1 396.4L663.7 351.2"/><path class="m1" d="M581.7 372.4L327.4 301.3L202.9 240.6L261.2 216.8L250.1 254.9L492.9 283L354.2 268.7L296.3 204L358.2 244.8L282.2 230.6L378.5 240.9L270.9 276.1L225 245.1L352.3 231.2L263.5 230.9L256.2 218.9L268 310.8L381.3 238.4L361.7 276.8L277.9 210.7L268.7 201.2L191 238.1L318.6 224.4L358.6 244"/><path class="m0" d="M252.7 313.3L310.3 244L182.1 278L295.7 265.8L207.2 225.6L327 349.2L279.3 348.5L248.5 282.6L342.1 214.3L278.4 233.2L347.5 265.7L267.1 254.4L235 257.5L271.2 216.4L241.9 256.1L232.8 251L237 177.3L328.4 287.5L280.5 247L271.7 350.1L282.4 326L225.6 359.2L351.4 423.4L328.4 240L203.6 210.6L243.6 209.2L269.1 319.4L268.8 221.3L317.4 227.5L249 256.5"/><path class="m3" d="M273.3 539.6L363.4 411.1L341.4 581L156.1 555.5L284.2 569.4L300.4 666.2L341.6 473.1L228 615.4L269.4 405.1L298.8 496L228.4 408.9L295.7 626.1L285.3 535L270.8 613.4L233.5 514.7"/><path class="m2" d="M666.7 335.3L668.7 429.5"/><path class="m1" d="M272.6 251.4L261.4 218L270.7 258.6L172.8 237.4L324.2 271.6L427.6 201.2L211.8 263.5L255 277.1L327.2 244.6L365.6 194.6L241.4 241.1L358.4 249.6L370.7 247.3L284.1 269.9L251.3 296.3L348.5 282.7L369.3 241L248.7 284.4L358 201L509.4 275.2L303.8 217.9L369.6 273.3L280.6 266.5L353.9 218.7"/><path class="m1" d="M367.1 250.3L362 223.3L263.8 235.1L350.2 239.1L255.2 216.9L362 239.8L358.7 252.4L374.3 228.5L356.3 243.8L249.1 338.9L262.4 236L344.4 199.2L351 231.1L320.3 231.7L375.1 233.3L339.6 224.5L277.6 207.4L336.2 254.6L364.7 243.6L344.9 229.5L269.4 267.5L348.2 296.1L271.7 263.2L245.9 244.1"/><path class="m3" d="M371.4 504.1L315.8 505L286.9 575.1L289.8 378.8L295.6 604.3L308.5 386.7L253.3 592.7L240.5 522.4L223.3 517.6L307.4 605.1L196.2 519.5L308.1 526.5L264.7 615.4L273.4 509.7L336.1 467.7"/><path class="m2" d="M671.6 322.9L675.4 260.8"/><path class="m0" d="M231.4 236.8L236.5 262.5L298.2 307.5L176.4 250L203.2 396.9L180.6 261.4L347.3 345.3L282.2 305.5L245.7 317.1L279.5 171.1L376.8 251.6L256.7 229.6L292.1 188L241 247.6L285.6 234.9L297.7 275.7L320.4 414.9L210.3 304L233.1 277.6L382.9 347.4L313 223.2L304.5 192.4L319.3 275.4L203.8 286.9L260.3 191L235.5 278.9L190 287.2L200.9 257.1L188.6 212.5L317.5 238"/><path class="m1" d="M323.9 260.8L254.3 242.4L241.1 277.5L230 244.4L269.9 273.8L301.6 317.2L313.3 238.7L279.3 274L294.7 254.2L217.1 203.2L325.9 179.4L361.1 251.7L345.1 282.9L244.2 260.3L350.2 217.5L361.2 236.7L283.8 251.2L298.7 234.7L326.3 223.5L317.1 250.4L280.7 292.5L158.5 216.2L344.5 306.6L386.2 234.7"/><path class="m3" d="M269.3 461.8L288.1 476L274.9 553.2L385.5 572.5L261.5 574L303.6 541.4L339.7 413.6L328.6 545.3L231.7 499.7L204.7 488.9L356.9 424.1L290.4 595.1L331.3 631.8L278.8 545.9L286.6 489.8"/><path class="m0" d="M311 395.9L213.8 339.4L236 250.5L223.5 209.1L196 333.9L216.6 271.6L252.7 279.2L308.5 273.9L313.8 204.5L306.7 246.8L327.3 241.4L234.8 404.6L293.2 289.4L274.7 351.1L324.5 244L263.4 205.3L272.5 138.5L262.8 441.9L248.3 273.3L302.1 229.8L263.5 224.5L338.6 104.1L275.6 336.4L312.8 292.6L214.9 221.4L245.7 244L308.6 177.3L309.3 388.8L211.5 201.7L273.6 332.6"/><path class="m3" d="M266.7 499.7L261.1 501.2L377.3 467.3L342.4 566.2L265.4 443.8L326.3 539.7L283.2 510.1L228 425.1L326.9 491.6L252.6 397.9L295 467.1L331.8 457.8L302.3 373.6L276.1 440.6L328.9 557.3"/><path class="m1" d="M401.7 196.5L292 261.8L370.4 246.9L272 291.9L355.7 249.5L363.3 252.6L324.7 234.7L289.8 287.1L432.6 313.6L346.4 238.7L293.9 272L341.7 234.6L314 188.1L435.3 360.2L359.1 279.2L306.8 204.6L273.7 257.1L279.9 175.7L417.7 338.4L351.2 298.6L237.1 207L376.6 229.1L206.9 255.8L313.7 261.7"/><path class="m2" d="M680.2 331.2L680.6 339.8"/><path class="m0" d="M284.2 119.2L292 328.7L289.7 225.7L330.8 361.9L300.6 273.9L212.2 302.3L261.9 215.4L258.8 319.2L346.3 322.7L255.3 240.8L211.6 231.1L217.5 312.4L191.8 203.4L324.2 257.4L262.4 341.5L194.7 414.2L227.3 257.5L270.2 146.5L196 259.5L223.4 300L337.8 198.4L220.4 237.1L279.9 224.3L265.2 236.6L190.8 335.8L325.6 241.1L233.7 326.1L286.6 324.1L356 250.5L229.6 102.3"/><circle cx="684.4" cy="390.1" r="5.15" fill="none" stroke="#00cd00" stroke-width="2.7"/><path class="m3" d="M248 489.8L352.7 445.1L437 478.3L328.4 416.1L302.2 440.4L321.5 383.2L315.2 455.4L316.6 553.1L298.2 398.4L323.1 455.6L259.7 660.1L199.9 587L351 560.2L302 440.6L282.5 511.2"/><path class="m1" d="M356.6 265.1L292.3 188.7L290.8 212.3L317.9 236.5L209.7 220.3L326.2 228.8L333.1 252.7L295.4 288.8L223.5 312.1L351.7 224.1L337.1 233.7L333.8 252.1L346.9 218.3L301.4 316.7L333 229L236 259.8L335.4 221L362.2 257.6L166.4 206.7L300.5 278.4L282.2 240.7L350.6 241.5L363.7 248.1L269 206.2"/><path class="m3" d="M228.7 464.1L405.3 537.8L239.1 484L280.9 521.2L265.9 451.2L293.2 416.2L188 358.6L218.2 339.4L333.8 612.2L284.6 489.1L272.8 565.3L245.2 518.3L314.2 571.7L266.5 399L283.9 403.5"/><circle cx="686.9" cy="304.4" r="5.15" fill="none" stroke="#00cd00" stroke-width="2.7"/><path class="m0" d="M257.7 236.3L301.3 276.9L312.9 407.5L266.1 239.2L283.5 238.8L285 363.4L254 294.6L181.6 266L264.8 262.2L167.5 217.5L266.4 263.5L349.4 177.9L277.3 321L347.5 243.6L264.1 275.8L337.8 288.4L223.4 245.9L414.3 381.2L268.5 252.3L300.5 188.3L221.5 275.3L225.7 248.4L244.3 211.3L279.1 347L261.8 329.6L283.6 215L296.2 261.5L355.5 339L407.7 190.3L277.6 204.9"/><path class="m1" d="M343.2 230.1L169 281.5L273.4 301.7L367.7 172.5L347 262.5L399.7 297.1L344.7 242.8L366.5 266.9L346.6 215.6L307.8 248.3L335.4 243.8L228 258.1L311.1 236.9L297.7 206.3L371.1 182.9L385.3 291.9L349.9 260.3L270.4 290.8L285.8 270.7L334 244.9L339.3 222.3L282 241.1L414.7 289.3L280.8 237.3"/><path class="m0" d="M246.6 254.9L293.7 196L271.3 160.2L232.3 212.1L298.2 295.8L277 184.7L205.3 213.9L275.6 368.9L189.8 343L338.7 284.1L223.2 235.9L245.9 276.9L324.9 209.5L207.1 299.8L290.9 220.5L256.6 209.4L236.4 202.4L263.6 305.9L242 225.4L307.8 184.8L217.5 243.9L277.8 197.1L239.4 186.3L256.2 330.2L262.3 195.6L323 279.8L288.2 303.2L238.8 345.5L312.1 253.6L301.8 271.4"/><path class="m3" d="M389.2 657.8L299.9 579.6L360.6 620.7L282.3 504.3L324 507.3L289.2 396.9L248.8 391.8L231.3 464.7L262.5 627.8L280.9 395.9L249.5 566.1L246.3 535.1L308.6 501L339 482.1L241.7 503.3"/><circle cx="690.7" cy="315" r="5.15" fill="none" stroke="#00cd00" stroke-width="2.7"/><path class="m1" d="M321.1 288.9L264.9 175.5L264.8 249.2L268.4 325L290.7 212.5L272.2 230.7L377.5 211.4L250.2 187.5L286.7 208.9L263.3 226.6L371.2 205.5L366.7 207.5L336.8 227.3L327.7 212.4L370.6 208.4L339.9 224.3L245.4 309.3L349.5 245.4L214.4 259.2L268.1 213L277.5 243.1L318.3 242.7L349.8 241.6L263.6 311.7"/><path class="m0" d="M193.5 170.3L211.4 254L225.6 174.1L211.6 307.7L253.2 234.2L286.7 280.7L300 227L345.8 249.1L277.7 272.6L308.6 237.3L284.3 232.7L262.7 264.3L180.4 146.1L214.1 262.3L320.1 259.8L262.9 296.3L303.5 278.6L279.3 351L197.2 317.6L305.8 298.8L293 226L308.1 367.5L276.3 435.5L211.3 260.6L274 282.9L358 264.8L238 269.2L258.2 210.8L350.5 268.9L308.1 224.2"/><circle cx="693.6" cy="285.3" r="5.15" fill="none" stroke="#00cd00" stroke-width="2.7"/><path class="m3" d="M411.5 438.2L265.1 593.6L166 441.2L331.7 510.3L384.8 556.7L298.7 457L369.6 500.2L332.7 472.5L353.5 548.2L404.1 373.1L317.6 526.6L288 542.1L194.9 620.6L301.4 567.8L418.5 514.7"/><path class="m1" d="M245.2 297.6L434 245.5L209.7 206.1L297.6 227.4L374.5 228.4L300.7 279.3L318.9 269.3L298.2 252.6L224 276L363.8 287.3L365.5 249.9L270.7 286.7L344.2 306.5L351.8 224.6L365.2 184.2L316.3 209.1L351.4 187.2L257.1 278.6L310.4 236.4L227.4 235.3L334.3 247.1L315.1 220.8L260.6 259.1L344.3 273.2"/><path class="m0" d="M283.6 142.4L363.8 216.4L215.8 183.7L242.7 339.1L242.5 342.9L229.4 266.3L332.3 421.7L226.5 235.5L173.3 235.6L300.2 162.6L295 213.7L325.3 425.3L234.3 183.1L286.7 314L329 335.2L279.7 181.6L305 283.8L326.8 226.8L254.8 290.9L239.7 236.6L251 292.7L203.1 486.8L311.7 243.6L257.9 236.8L332.9 225.5L329.9 259.2L274.7 491.3L341.1 335.7L269.7 272.6L305.3 422.1"/><circle cx="695.4" cy="291.2" r="5.15" fill="none" stroke="#00cd00" stroke-width="2.7"/><path class="m3" d="M347.1 437.9L325.2 555.8L356.3 577.5L305.9 557.2L276.4 559.1L295.4 469.6L391.3 402.8L304.7 398.3L302 514.5L262.9 419.1L382.3 609.2L303.6 467L226.9 565.1L269.8 572.2L289.7 401.9"/><path class="m1" d="M384.1 221.5L407.9 268.4L294.6 294.7L378.7 249.4L381.7 248.7L331.4 239.1L220.3 240.5L281.4 231.6L264.5 277.3L366.5 223L398.9 235.1L340.7 211.5L277.9 302.5L275.5 236.1L368.4 263L306.9 201.2L357.1 235.7L261.2 280.5L255.4 287.8L239.8 340.2L237.9 205.1L248.5 233.1L238.1 301.8L418.9 302.2"/><circle cx="697.9" cy="303.1" r="5.15" fill="none" stroke="#00cd00" stroke-width="2.7"/><path class="m0" d="M328.4 255.2L207 229.3L270.8 306.1L197.1 332.1L284.8 294.2L244.4 329.1L255.1 242.4L203.2 344.4L191.9 275.5L156.8 337.7L252.6 196.8L255.3 287.6L234.8 181.9L235.2 170.7L267.3 257.5L253.9 270.2L267.8 168.5L228.8 245.2L208 257.7L183.4 181.9L315.6 241.7L186.3 145.6L265.8 304L266.2 238.1L280.1 432.5L243.8 270.8L301.5 276.5L319.2 200L276.5 287.3L320.2 314.9"/><path class="m3" d="M346.7 662.2L232.7 574.8L328.6 584.8L263.8 592.7L280.2 541.3L207.4 392.7L292.7 464L241.1 534.7L316 604.4L357.1 533.3L351.8 550.4L260.6 346.5L239.9 495.1L312.2 450.4L292.2 558.8"/><path class="m1" d="M296 229.5L359.2 214.1L306.9 297.8L249.3 240.8L372.8 265.2L343.3 276.8L320.8 296.9L374.7 227.9L210.4 245.6L329.2 244.1L317.1 306.2L327.2 220.3L302.8 225L355.7 272.6L328.6 179.7L270.3 304.9L255.5 267.2L336.3 253.2L295.6 273L372.5 269.1L341.9 208.2L379 267.8L352.9 175.8L300.9 211.8"/><path class="m3" d="M351.3 528.2L246.6 542.2L345.8 508.6L292.5 481.9L271.5 519.7L334.2 374L306.6 367.6L273.7 521L347.1 370L266.7 420.9L332.8 591.1L242.4 575.1L282.9 386.9L261.4 521.9L204.8 589.2"/><path class="m0" d="M260.9 141.3L220.9 289.3L297 111.9L321.1 227.3L307.6 294.6L335.9 255.8L269 212.8L241.5 252.9L268.5 221.3L297.5 323L170.4 269.6L242.2 373.2L223 196.3L263.4 302.2L230 310.5L309.2 238.4L308.7 250.9L221.4 278.3L295.8 320.3L345.6 256.7L268.5 250.6L226.6 207.1L291.6 272.4L261.8 250L303.6 266.8L242.2 219.5L280.6 291.2L277.8 516.7L247.6 295.2L210.7 211.9"/><circle cx="700.8" cy="261.3" r="5.15" fill="none" stroke="#00cd00" stroke-width="2.7"/><circle cx="700.8" cy="339.8" r="5.15" fill="none" stroke="#00cd00" stroke-width="2.7"/><path class="m1" d="M362.5 390.4L360.8 210.8L350.3 281.5L360.1 225.4L337.2 294.5L240.2 306.9L414.6 280.9L244.4 223.8L357.2 241.7L331.9 231.3L329.6 260.8L335 236.1L313 291.9L351.3 195.3L361.9 195.1L355.9 332.7L331 355.3L244.6 240.4L269.6 246L243.7 241.9L295 247.7L321.2 205.2L358.2 202.5L243.7 248.6"/><path class="m1" d="M372.1 242.8L291.4 259.2L375.9 244.7L216.6 260.3L361.6 239.5L192.5 271.1L333.8 222.3L271.5 235.3L271.5 237.9L360.4 251.4L232 255.9L357.2 208.3L336.8 241.3L307.4 295.9L370.5 197.7L277.3 267.2L351.3 210.2L342.9 162.4L317.9 232.4L344.2 201L249.1 183.2L125.5 222.9L314.5 327.5L388.6 286.6"/><path class="m3" d="M250.5 425.1L342.9 602.7L340.1 498.9L278 551.9L228.7 423.6L309.3 393.3L302.5 616.1L206.1 484.7L293.7 504.4L162.8 491.9L263.3 533.2L369.2 683.4L337.3 667.9L318.3 600L231.2 537.6"/><circle cx="708" cy="529.4" r="5.15" fill="none" stroke="#00cd00" stroke-width="2.7"/><path class="m3" d="M338.4 574.2L185.2 552.6L322.4 443.2L225.9 480.6L369.1 388.4L385.9 461.6L352.1 479.8L331 514.8L333.2 452.1L232.2 383.5L341.6 433.1L253.6 546L258.9 483.5L338.4 422.2L286.4 614.1"/><circle cx="711.4" cy="365.6" r="5.15" fill="none" stroke="#00cd00" stroke-width="2.7"/><path class="m3" d="M244.8 472.1L271.6 522.3L302.6 530.6L232.6 493.6L276.6 509.6L258.6 641.2L155.9 491.6L264 400.9L336.3 342.9L228.8 522.5L250.2 563L435.2 577.3L382.3 394.3L281.7 540.8L283.3 455.6"/><circle cx="715" cy="324.7" r="5.15" fill="none" stroke="#00cd00" stroke-width="2.7"/><circle cx="716.6" cy="305.6" r="5.15" fill="none" stroke="#00cd00" stroke-width="2.7"/><circle cx="720" cy="318.4" r="5.15" fill="none" stroke="#00cd00" stroke-width="2.7"/><circle cx="724.5" cy="322.4" r="5.15" fill="none" stroke="#00cd00" stroke-width="2.7"/><circle cx="726" cy="298.6" r="5.15" fill="none" stroke="#00cd00" stroke-width="2.7"/><circle cx="777.3" cy="356.4" r="5.15" fill="none" stroke="#00cd00" stroke-width="2.7"/><circle cx="790.8" cy="320.2" r="5.15" fill="none" stroke="#00cd00" stroke-width="2.7"/><circle cx="845.5" cy="416.5" r="5.15" fill="none" stroke="#00cd00" stroke-width="2.7"/><circle cx="367.4" cy="353.2" r="5.15" fill="none" stroke="#00cd00" stroke-width="2.7"/></g>
<rect x="95.7" y="20.5" width="778.2" height="697.6" fill="none" stroke="#000" stroke-width="2.7" stroke-linejoin="round"/>
<path d="M137.8 718.1v14.5M260.2 718.1v14.5M382.7 718.1v14.5M505.2 718.1v14.5M627.6 718.1v14.5M750.1 718.1v14.5M872.5 718.1v14.5M95.7 695.4h-14.5M95.7 575.3h-14.5M95.7 455.3h-14.5M95.7 335.2h-14.5M95.7 215.1h-14.5M95.7 95.1h-14.5" stroke="#000" stroke-width="2.3" fill="none"/>
<text x="131.7" y="760.5" class="t">-4</text>
<text x="254.1" y="760.5" class="t">-2</text>
<text x="382.7" y="760.5" class="t">0</text>
<text x="505.2" y="760.5" class="t">2</text>
<text x="627.6" y="760.5" class="t">4</text>
<text x="750.1" y="760.5" class="t">6</text>
<text x="872.5" y="760.5" class="t">8</text>
<text transform="translate(74.8 701.5) rotate(-90)" class="t">-6</text>
<text transform="translate(74.8 581.4) rotate(-90)" class="t">-4</text>
<text transform="translate(74.8 461.4) rotate(-90)" class="t">-2</text>
<text transform="translate(74.8 335.2) rotate(-90)" class="t">0</text>
<text transform="translate(74.8 215.1) rotate(-90)" class="t">2</text>
<text transform="translate(74.8 95.1) rotate(-90)" class="t">4</text>
<text x="484.8" y="797.3" class="l">LD1</text>
<text transform="translate(42.1 369.3) rotate(-90)" class="l">LD2</text>
<text x="116" y="92.5" class="p" style="font-size:78px">a</text>
<rect x="764.6" y="604.1" width="109.4" height="114" fill="#fff" stroke="#000" stroke-width="1.3"/>
<circle cx="779.4" cy="621.1" r="5.15" fill="none" stroke="#000000" stroke-width="2.7"/>
<text x="793.4" y="630.6" class="g">Alder</text>
<circle cx="779.4" cy="648.1" r="5.15" fill="none" stroke="#ff0000" stroke-width="2.7"/>
<text x="793.4" y="657.6" class="g">Hazel</text>
<circle cx="779.4" cy="675.1" r="5.15" fill="none" stroke="#00cd00" stroke-width="2.7"/>
<text x="793.4" y="684.6" class="g">Larch</text>
<circle cx="779.4" cy="702.1" r="5.15" fill="none" stroke="#0000ff" stroke-width="2.7"/>
<text x="793.4" y="711.6" class="g">Birch</text>
<path d="M762.6 718.1H874V602.1" fill="none" stroke="#000" stroke-width="2.7" stroke-linejoin="round"/>
<g><path class="m0" d="M1567.9 233.5L1549.9 234.2L1578.5 321.4L1429.7 378.7L1617.1 488.9L1300.1 374L1535.8 163.4L1592.7 253.3L1577.6 227.3L1701.9 282.7L1389.9 240.4L1389.5 321.4L1537.5 222.6L1497.2 455L1638.5 364.8L1490.6 249.3L1487.3 359.7L1610.3 222.2L1537 239.8L1363.6 270.1L1531.1 364.1L1551.9 248.5L1384.5 381.1L1558.7 242.6L1537.3 200.1L1490 238.1L1579.8 232.9L1509.3 265.9L1598.7 231.3L1544.9 192.7L1490.6 232.5"/><path class="m1" d="M1516 443.5L1525.2 476.3L1525.8 587.9L1580.6 608.1L1546.2 617L1575.5 419.4L1523.4 525.8L1523.8 515.8L1523.4 503.2L1522.4 553.3L1571.7 516L1456.9 544.6L1492.2 505.7L1526 469.6L1551.5 542.5L1565.7 392.8L1580.7 531.1L1576.7 498.2L1515.7 411.7L1629.1 538.8L1551.7 491.4L1476.9 544.3L1538.1 497L1595.8 519.3L1530.2 598.7"/><path class="m0" d="M1398 311.2L1547.2 271.1L1540.5 199L1460.5 291.7L1583.5 244.2L1477.7 342.7L1518.5 285.6L1590.2 253.8L1501.5 257.6L1507.9 255.9L1603.9 237.4L1409.5 166.3L1244.5 375.5L1411.3 258L1680 78.3L1519.1 237.6L1360.1 375.9L1621.3 271.3L1484.1 312.6L1538.6 259.2L1484.6 220L1601.5 313L1325 282.6L1506.3 255.1L1570.9 245.8L1651.5 197.9L1329.8 274.6L1591.2 227.8L1492.7 466.4L1417.8 373.9L1650.9 142.8"/><path class="m0" d="M1461.4 329.8L1633.6 226.8L1592.4 315.4L1487 329.9L1554 244.2L1603.3 249.9L1432.6 230.2L1534.3 240.7L1481.4 241.8L1582.1 152.4L1288 337.2L1569.8 219.4L1264.5 377.5L1589.7 266.1L1573.2 244.1L1550.8 239.2L1666.9 148.7L1702.1 404.6L1549.5 227.9L1520.4 297L1436.4 355.8L1502.1 406L1580.5 140.7L1557.5 237.5L1471.2 210.8L1541.9 289.2L1503.9 197.6L1555.1 220.4L1462.8 248.3L1405.3 283.6L1619.4 229.1"/><path class="m1" d="M1589.1 492.8L1540 476.7L1531 588.2L1585.2 613.2L1467.9 512.1L1539.6 434L1595.3 531.5L1575.9 484.3L1449 482.6L1395.7 440.4L1561.7 535.1L1523.7 504.9L1559.5 408.9L1586.7 596.7L1555.3 403.4L1508.1 540.1L1630.5 640.7L1544 549.2L1544.9 550.7L1492.9 383L1572.2 528.2L1545.5 515.5L1575.6 442.7L1531.7 538.4L1506.1 370.8"/><path class="m3" d="M1121.2 358L1242.8 363.9L1173.6 364.9L1256.3 359.6L1313.7 343.1L1241.2 392.6L1227.2 414.8L1375.3 337.4L1225.4 351.5L1418.1 380.3L1136.8 332.6L1417.4 415.7L1222.7 564.8L1409.5 357.6L1219.7 330.4L1239.9 466.9"/><path class="m0" d="M1531.8 261L1662.4 278.5L1457.5 264.5L1502.2 323.2L1536.4 195.1L1462.5 302.6L1657.8 216L1587.7 273.1L1595.8 234.8L1528 286.9L1438 364.5L1450.4 350.5L1555.6 236.8L1307.1 312.2L1505.6 276.9L1488.2 246.9L1534.2 209L1623.5 240.5L1653.7 229.2L1536.5 226.3L1576.9 295.3L1540.4 522.5L1460.4 262.8L1502 253.1L1474.1 287.7L1491.8 303.5L1648.7 198.7L1575.7 353.1L1532.7 207.2L1593.6 206.5L1479.2 299.8"/><path class="m1" d="M1469 305.9L1587.8 540.5L1552.8 575.6L1574.2 570.3L1583.2 466.9L1485 513.9L1482.5 524L1621.9 405.9L1595.5 428.2L1472.2 640.8L1588.6 584.6L1606.3 521.5L1502.2 454.6L1541.4 488.9L1634.2 551.7L1558.6 399.2L1528.9 380.5L1460.2 398.1L1585.9 510.7L1544.2 486.3L1469.6 428.5L1493.8 524.3L1550.6 555.6L1553.4 568.7L1583.8 586.1"/><path class="m3" d="M1226.1 319.6L1431.6 394.3L1190.9 285.1L1298.2 379.9L1159.2 388.1L1280.9 352L1196.9 502.6L1164.3 486.4L1311.3 404.4L1251.9 359.5L1093.8 354.1L1259.3 378.6L1215.9 400.9L1235.1 381L1289.2 378.5L1326 328.7"/><path class="m0" d="M1469.8 279.6L1748.3 316.5L1537.6 223L1480.8 157.9L1420.8 229.2L1524.5 243.4L1730.2 296.6L1481.5 248.3L1582.2 275.6L1490.9 231.2L1505.5 193.9L1559 245.1L1485.3 252.9L1462.5 280.9L1442.7 301.1L1490.3 245.1L1631.8 294.5L1440.3 354.7L1569.7 272.8L1520.9 255.5L1462.9 301L1487.3 256.8L1507.5 277.7L1598.3 296.8L1476 134.5L1588.8 243.4L1594.4 246.3L1354.2 347.3L1491.7 339.6L1563.3 330.7L1525.4 222.9"/><path class="m1" d="M1564.2 571.4L1513.4 461.1L1594.6 317.8L1579.4 432.6L1503.9 411.3L1554.9 409.4L1477.1 599.8L1489 691.9L1502.1 558.5L1571.7 516.5L1502.7 420.9L1547.8 547L1507.1 470L1541.5 571.7L1553.1 427.5L1564.4 621.1L1542.2 644.6L1530.3 530.7L1516.4 579.7L1616.7 532.1L1586.2 560.4L1506.2 530.4L1533.1 378.2L1540.8 507.7L1575.8 522.6"/><path class="m0" d="M1593.8 202.2L1578.2 285.5L1505.8 164.5L1581.1 294L1447 250.7L1710.2 46.1L1652.9 290.8L1504.1 334.4L1530.2 248.8L1392.7 355.5L1575.1 268.6L1449.7 253.5L1546.7 253L1545.1 268.7L1621.7 236L1578.1 272.5L1676.7 203.8L1482.6 267.2L1575.1 222.9L1494.7 326.4L1584 227.7L1510.9 271.3L1641.6 225.5L1523.9 297.2L1459 421.3L1532 227.2L1580.2 243.7L1551.2 257.2L1591.4 215.8L1512.3 238.5L1523.6 264.8"/><path class="m1" d="M1432.1 462.4L1626.9 513.9L1514.3 547.1L1573 529.4L1551.5 403.2L1501.4 448.6L1492.8 590L1636.9 419.7L1540 551.2L1545.3 369.1L1553.6 508.5L1530 565.7L1542.9 579.5L1516.8 645.7L1494.3 277L1528.1 405.9L1519.3 504.9L1530.4 480.6L1491.7 461.7L1598.7 526.6L1542.9 555.8L1522.1 454.8L1586.2 426.5L1525.7 385.4L1545.3 554.1"/><path class="m3" d="M1243.3 370.1L1285.8 343.5L1250.7 362.1L1326.1 431.3L1232.4 394.1L1188.3 342.5L1305.6 397.1L1089.1 344.9L1146.4 374.7L1327.6 302.3L1148.7 328.3L1270.2 416L1231.5 318.1L1243.5 346.5L1217.2 296.6L1387.3 357.5"/><path class="m3" d="M1289.3 306.4L1389.9 397.8L1235.1 377.9L1331 404.5L1337.7 270.8L1245.9 321.6L1163.4 339L1283.7 389.8L1154.2 369.1L1236.6 401.1L1314 371.2L1235.9 386.9L1172.4 349.2L1259.6 364.8L1189.8 348L1219.6 386.5"/><path class="m0" d="M1421.6 297.5L1508.2 269.1L1430.7 200.7L1515.9 271.9L1577.2 214.7L1412 219.4L1540.9 188.5L1443.6 258.1L1305.9 381.9L1539.7 240.2L1502.9 359.3L1619.8 184.3L1449.4 253.5L1323.1 314.2L1629.9 262.8L1677.5 289L1532.4 324.4L1532.9 251.1L1523.5 264L1554 210.7L1506.8 243.7L1583.7 185.3L1427.2 297.5L1548.7 208.7L1524.7 253.6L1624.4 169.4L1521 242.5L1510.4 220.1L1469.1 242.2L1459 286.9L1253 309.2"/><path class="m1" d="M1623.2 475.1L1559.2 527.2L1552.2 460.1L1504.6 466.6L1555.3 528.4L1526.6 418.1L1535.7 326.3L1545.2 392.6L1559.5 395.7L1469 545L1536.4 506.6L1053.5 590L1555 516.2L1528.1 502.1L1650.3 385.1L1521.8 303.5L1505.7 451.2L1614.6 549.3L1543.3 516.6L1498.9 467.7L1716.9 297.4L1589.1 450.1L1527.3 406.6L1490.3 462.1L1510.2 553.9"/><path class="m0" d="M1510.8 254.8L1601.9 316.1L1504.5 264.4L1221.1 305.3L1573.2 369L1672.4 225.6L1466.7 210.2L1554.3 221.1L1519.9 328L1494.6 344.5L1486.9 253.7L1513.7 330.2L1603.1 241.1L1485.3 221.5L1317.1 229.2L1383.6 324.2L1595.7 241L1529.5 223.9L1526.9 301L1507.7 339.9L1499.6 291.5L1596.6 263.6L1515.7 268.5L1508.7 167.6L1383.3 281.5L1395.6 282.2L1473.9 206.2L1488.1 214.7L1521.9 158.1L1614.5 213.9L1562.2 302.8"/><path class="m0" d="M1497.8 217.3L1479.6 308.9L1534.9 207L1549.3 245.8L1503.6 284.5L1502.9 251.6L1405.1 305.3L1489.3 281.4L1399.5 310L1470.5 220.1L1605.1 195.7L1385.1 191.9L1493.9 472.5L1609.1 267.2L1524.7 259.9L1645.6 205.9L1506.7 319.6L1497.2 268.2L1499.5 220L1633 224.8L1408.3 286.9L1596 455.3L1503.9 250.6L1529.5 205.4L1424.7 301.2L1421 382.5L1608.1 184.7L1585.7 279.3L1482.1 303.1L1513.5 260L1583.1 368.3"/><path class="m3" d="M1391.9 439.4L1231.8 379.8L1354.8 433.4L1238.1 391L1303.4 346L1333.9 347.8L1332.3 414.6L1208 346.7L1203.7 377.9L1195.7 308.1L1222 378.4L1276.4 328L1254.4 361.4L1378.4 363.4L1253.9 455.5L1381.6 367.4"/><path class="m1" d="M1589.2 488.3L1518.5 525.7L1579.3 401.3L1593.4 558.6L1519.5 498.5L1446.7 504.9L1549.7 407.2L1465.2 497L1590.9 427L1519.9 591.8L1573.9 433.5L1552.1 660.7L1542.8 545.1L1615.4 401.7L1533.1 512L1463.8 490.9L1590 410L1550.7 523.2L1580.9 437.1L1572.1 447.2L1508.4 566.7L1517.9 602.4L1490 455.7L1541.1 528.4L1521.9 559.3"/><path class="m0" d="M1546.1 445.9L1643.9 133.2L1485.8 168.9L1526.5 263.4L1443.2 318.8L1482.1 254L1570.7 264L1629.7 230.5L1570.7 222.3L1463.7 189L1541.8 189.7L1554.7 191L1457.7 250L1530.5 189.4L1693.3 264.6L1491.4 308.7L1450.2 242.4L1533.1 214.3L1452.8 235.5L1620.6 265.8L1344.8 428.5L1409 337.4L1407.8 292.3L1425.1 241.5L1399.1 233.2L1585 262.3L1527 312L1565.6 270.7L1456 325.6L1515.6 239.3L1492 251"/><path class="m3" d="M1106.8 422.8L1330.3 349L1203.6 406.8L1188 340.6L1109.1 350.3L1261.9 382L1171.2 320.8L1210.4 382.2L1180.9 339L1278.4 303.5L1161.2 406.2L1310 377.6L1385.5 308.5L1250.5 286.8L1215.3 369.1L1393.6 329.5"/><path class="m1" d="M1557.8 450L1517.6 466.9L1490.3 411.8L1491.1 409.4L1502 506.5L1520.5 507.2L1555.3 526.7L1470.5 505.3L1605.9 487L1438.7 368.6L1431.1 454.3L1545 576.9L1499.4 568.7L1538.5 424.5L1549.3 483.9L1565.1 452.3L1556.8 277.6L1620.1 479.1L1427.4 452.1L1514.1 478.7L1606.1 576.9L1546.2 560.9L1548.7 583.9L1492.7 455L1523.7 594.1"/><path class="m3" d="M1371.2 379.6L1251.5 357.3L1216.5 307.6L1426.6 373.7L1347.5 323.3L1276.2 441.5L1351.8 357.6L1078.3 352.5L1245.6 388.9L1176.8 356.3L1393 421.1L1124.4 391.4L1349.3 286.5L1195.3 348.6L1243.6 386L1448.5 394.1"/><path class="m0" d="M1774.5 195.5L1467.3 273.9L1553.4 214.2L1700.1 222.3L1288.8 377.7L1501.9 252.3L1538.4 324.5L1620.5 234.6L1513.6 219.6L1520.4 248.1L1587.3 277.7L1663 230.8L1498.6 193.8L1466 236.9L1414.9 221.8L1485.6 451.1L1492.9 205.9L1548.7 239.4L1552.3 228.6L1488.8 420.5L1544.3 313.4L1591.2 266.9L1551.1 182.6L1517.6 189.4L1535.7 251.6L1303.8 339.1L1538.4 207.6L1657.3 215.8L1363.8 251.4L1539.2 244.3L1657 296.6"/><path class="m3" d="M1229.1 283.3L1224.6 417L1294.2 361.6L1192.9 373.8L1211 412.4L1296.9 298.4L1354.5 389.4L1368.6 399.9L1271 384.8L1283.1 377.1L1190.9 309.5L1221.7 340.9L1282.7 344.4L1203.4 356.9L1363.7 354.6L1291.1 313.1"/><path class="m1" d="M1467.5 470.5L1527.7 450.7L1599.6 529L1520.9 515L1453.5 691.6L1491.2 440.7L1461.3 682.4L1623.1 527.5L1527.5 562.8L1502 602.8L1542.5 483L1486.3 549.6L1425.2 398.7L1455.2 563.7L1571.9 361.5L1537.6 359.2L1567.2 429.2L1481.9 528L1570.4 492.1L1586.1 414.3L1591.5 492.8L1542.3 490.9L1504.8 551.8L1514.7 428.8L1535.4 487.8"/><path class="m1" d="M1593.8 440.2L1557.7 513.1L1494.3 435.6L1581.7 377.7L1527.2 538.7L1552.1 504.5L1557.2 544.1L1468.1 465.6L1428 620.1L1586.1 376.6L1509.3 355.1L1518.8 415.1L1624.5 484.7L1495.2 518.1L1513.2 321.7L1566.2 481.2L1559.3 533.7L1566.9 472.1L1501.3 500.7L1524.8 370L1579.8 460.7L1581.4 449.4L1579 321.4L1615.7 318.6L1530.9 488.4"/><path class="m0" d="M1637.4 338.9L1558.9 200.4L1532.2 241.4L1596.1 235.1L1355.2 299.7L1614.4 377.8L1565.6 206.6L1685 326.4L1324 383.1L1495 152.6L1644.5 273.7L1609.8 218L1534.6 269.6L1500 253.8L1525.8 339L1557.6 248.5L1441.8 483.5L1671.3 269.5L1577.1 284.1L1285.2 489.6L1614.7 279.2L1521.6 376.6L1518.4 288.3L1508.2 235.7L1468.3 243.3L1571.3 384.3L1546.3 285.7L1532.4 286L1491.5 242.4L1430.4 343.7L1657.7 217.5"/><path class="m3" d="M1291.1 399.6L1319.6 309.3L1319.3 356L1115.3 354.1L1292.9 325.9L1137.7 404.3L1172.5 330L1235.9 281.8L1244.4 337.2L1238.6 371.3L1182.5 407.8L1274.2 416.2L1384.9 390L1244.5 408.6L1239.1 369.3L1182 328.6"/><path class="m2" d="M1461.4 513.4L1509.1 511.1"/><path class="m3" d="M1319.5 309.5L1326.1 331.4L1243.9 352.8L1073.7 149.6L1419.4 304.6L1337.6 313.9L1277.1 429.9L1313.4 348.6L1375.8 382L1107.8 389.3L1414.8 390.8L1367.1 351.5L1232.8 367.1L1230.8 401.8L1161.5 352.3L1380.5 343.2"/><path class="m1" d="M1647.5 416.5L1545.6 373.3L1485.6 586.1L1499.7 420.5L1427.3 451.2L1590.5 346.4L1571.7 487.9L1564.7 382.9L1541 488.2L1570.4 467L1539.1 602.9L1539 403.6L1654.3 485.3L1578 464.3L1571.6 487.9L1502.5 685.8L1587.7 472.7L1475.7 533.8L1529.7 407.3L1518 433.2L1616.3 456.9L1599 478.3L1510 399.4L1538.9 449.9L1555.3 360.1"/><path class="m0" d="M1548.7 198.1L1557.9 212.4L1432.3 242.8L1507.4 215.4L1536.1 261.6L1576.8 235.5L1465.2 213.3L1605.6 285.1L1507.8 199.6L1457.3 221.8L1470.5 227L1448.8 327.5L1665.6 175.6L1573.9 183.6L1477.7 344.1L1570.3 261L1586.4 228.6L1434 192.5L1497.9 237.5L1617.5 219.7L1540.6 190L1549.5 273.5L1626.4 251.8L1522.1 273.6L1470.6 270.2L1464.1 267.4L1396.8 241.7L1520.5 284.9L1555.5 234L1513.9 169.8L1475.7 227.1"/><path class="m3" d="M1243 412.5L1116.6 377L1198.7 363.5L1470 401.3L1353 341.9L1165.9 431.2L1214.9 353.4L1291.4 388.4L1316.3 402.9L1216.6 320.5L1295.3 381.5L1177.7 319.5L1207.9 395.5L1211.5 367.2L1244.8 404.6L1201.3 359.2"/><path class="m0" d="M1490.9 224L1500.1 208L1546.3 255.1L1618 259.2L1514.5 184.3L1488.9 222.8L1554.3 527.5L1547.7 332.8L1397.7 298L1397.6 312.6L1614.6 341.7L1527.5 230.2L1495.3 231.3L1443.8 327.8L1544.8 269.8L1509 276.3L1529.1 214.1L1620.7 368.5L1582 224.9L1527.1 216.7L1544.5 233.9L1530.6 294.8L1627.7 284.9L1555.9 143.9L1463 374.8L1484.5 191.3L1497 303L1562.3 194.6L1539.6 247.3L1588.3 211.1L1578.4 277.8"/><path class="m1" d="M1566.9 341.8L1557.4 406.3L1537.4 412.3L1560.3 578.6L1575.5 457.8L1547 336.9L1636.7 639.7L1533 525.6L1557.5 506.7L1583.4 466L1590.3 495.9L1502.4 483L1547.7 382.1L1575.6 416L1558.4 393.8L1567.2 336.5L1532.6 556.3L1484.1 458.3L1576 350.3L1576.3 496.1L1487.2 440.2L1546.6 463.8L1577.9 479.5L1587.1 323.1L1554.7 381.8"/><path class="m2" d="M1489 289.3L1458.2 290.4"/><path class="m1" d="M1547.2 395.9L1645.4 557.5L1550.8 464.2L1537.1 490.2L1511.2 537L1551.7 407.5L1598.4 471.4L1492.7 573.1L1599.5 379.7L1539.2 419.1L1552.5 531.3L1562.9 499.1L1619.1 383.2L1512.4 410.1L1538.6 398L1573.5 517.6L1583.8 524.5L1581.6 366.5L1622.5 607.3L1599.9 598L1558.3 445.7L1547.5 591.1L1506.7 460L1574.2 434.8L1535.9 426.5"/><path class="m2" d="M1499.8 356L1448.4 285.9"/><path class="m3" d="M1201.6 394.3L1209.9 398.1L1248.5 370.4L1268 318.9L1245.9 415.3L1392.4 322.2L1241.1 368.8L1223.9 371.1L1205.8 411.4L1172.5 391L1323.1 397.7L1317.5 379.7L1349.2 379.8L1252.1 368.1L1145 383.5L1339.9 329.4"/><path class="m0" d="M1522.6 224.9L1517.7 274.1L1510.6 418.9L1479.7 323.4L1542.2 375.5L1447.5 260.6L1507.6 257.9L1367.5 379.2L1538.6 333.1L1450 228.7L1578.3 266.6L1500.4 362L1627.9 222.7L1634.2 287.3L1563.7 337.7L1702.9 207.5L1644.9 252L1562.4 228.6L1499.8 228.7L1311.9 346.7L1565.5 260.3L1552.7 320.5L1587.8 257.7L1522.1 166.4L1625 263.1L1382 276.1L1392.2 321L1607.7 217L1439.3 317.1L1393.9 376.3L1546.6 198.8"/><path class="m2" d="M1448.9 415.7L1456.7 403.9"/><path class="m1" d="M1536.4 577.8L1516.6 461.9L1551.2 517.5L1536.7 448.9L1438.6 461.4L1537.8 530.5L1461 509.5L1610.1 367.1L1447.5 335.1L1595.9 501.7L1570.4 401.9L1544.8 442.8L1576.5 390.6L1514.8 507.7L1653.8 452.2L1493.7 389.3L1531.2 536.7L1595.1 377.8L1598.2 461.4L1591.8 351.3L1515.7 345.2L1582.4 380.8L1486 469L1568.4 353L1549.4 332.5"/><path class="m0" d="M1591.9 228.9L1388.1 369.9L1478 348.3L1443.5 320.3L1636.1 305.8L1619.3 293.3L1439.9 334.4L1563 317.2L1487.7 313L1599.4 224.1L1415 313.6L1648.4 185.2L1469.6 256.1L1521.3 238.3L1548.7 234.4L1483.4 250.9L1493 306.3L1623.5 320.7L1563.7 263L1489.5 247.6L1517.5 188.3L1613.6 144L1601.6 295.9L1551.5 265.1L1554.9 202L1597.8 244.8L1580 228.9L1446.7 315.4L1533.8 229.3L1542.4 222.3L1571.6 463.3"/><path class="m3" d="M1376.1 383.8L1215.7 380.8L1208.4 370.6L1180.9 596.1L1121.2 330.1L1400.2 370L1358.7 511L1299.9 434.4L1441 332.7L1409.2 305.8L1291.1 507.1L1224.9 322.9L1380.1 338.9L1195.3 294.9L1427.1 305.4L1122.1 393.2"/><path class="m1" d="M1581.9 301.3L1583.3 406.5L1562.9 401.4L1492.3 356.4L1556.4 429.2L1453.3 606.1L1624.6 441.3L1599.2 483.9L1503.5 498.3L1519.7 550.5L1570.5 531.4L1608.7 480.6L1585.5 484.4L1551.3 473.5L1566.4 526.3L1539.6 496.5L1527.9 528L1544.6 442.8L1520.9 425.3L1507.6 389.3L1586.1 405.7L1557 396.9L1540.6 447.6L1637.8 470"/><path class="m0" d="M1624.6 310.4L1488.3 263.1L1544 298.1L1581.9 225.7L1438.3 197.1L1484.7 230.4L1448.1 216.5L1568.2 144.4L1485.5 236.2L1570.5 229.1L1525.9 271.1L1415.6 439.4L1564.1 363L1417.5 296.3L1651.8 206.2L1280.9 274L1636.6 252.6L1559.1 252L1591.2 260.7L1472.4 312.1L1529.2 286.8L1639.1 226.3L1414.4 431.9L1533.7 350.2L1691.1 217.8L1486.5 242.1L1696 167.7L1558.9 237.9L1431.8 297.4L1517.5 264.7L1757 321.9"/><path class="m2" d="M1440.6 325.6L1362.8 335.9"/><path class="m0" d="M1539.6 323.2L1566.2 209L1578.7 235.2L1500.3 308.3L1679.9 188.8L1485.8 278.2L1467.1 272.9L1454.8 325.5L1493.9 235L1540 195.1L1539.5 313.8L1508.5 241.8L1480.4 306.1L1533.5 273.5L1472.8 246L1453.2 350.7L1560 402.6L1620.6 266.5L1545.9 271L1385.8 383.2L1514.8 210.9L1532.1 366L1596.6 298.9L1581.6 181.6L1465.4 321.4L1615.7 226.6L1541 273.7L1564.8 290.8L1523.9 317.5L1559.2 215.5L1537.3 284.3"/><path class="m3" d="M1249.4 411.4L1341.7 228.4L1231.3 383.3L1250.7 374.1L1270.3 423.4L1293.1 397.8L1359.8 335.3L1185.8 437.8L1384.4 308.3L1205.3 298.7L1303.7 396.1L1153.2 344L1249.2 339.9L1379.4 349.7L1260.3 339.3L1284.9 381.4"/><path class="m1" d="M1458.6 504.3L1584 320.2L1402.4 592.6L1577.6 395.9L1510.5 498.1L1569.3 400L1488.8 410.9L1553.4 431L1601.6 448L1541.4 371L1541.1 537.1L1553.8 389.8L1454.3 509L1595.4 469.8L1540.7 406L1496.2 461.4L1539.5 470.5L1555.3 331.2L1561.8 355L1479 553.3L1575.8 335.2L1562.4 388.8L1570.6 496.8L1551.7 427.5"/><path class="m3" d="M1253.6 342.8L1151.5 365.8L1152.3 361L1334.7 382.5L1227.4 326.8L1202.9 335.3L1121.3 363.8L1106 389.3L1239.2 330.8L1268.5 432.6L1248 385.7L1260.1 375.9L1279.6 418.6L1361.2 383L1194.5 288.7L1163.2 313.4"/><path class="m2" d="M1381.8 174L1499.8 261.6"/><path class="m1" d="M1545.4 334.1L1542.5 509.1L1506.1 453.8L1586.3 375.4L1558.4 416.5L1580.8 584.7L1564.5 424.8L1607.6 432.8L1600.3 369.7L1538.4 407.6L1572 390.7L1591.5 435L1577.2 455L1565.3 413.9L1528.3 402.4L1535.6 388.1L1506.8 467.7L1492.8 662.5L1549.1 552.3L1570.6 395.5L1498.1 564.7L1478.5 371.6L1556 459L1564.3 623.1"/><path class="m3" d="M1249.9 330.5L1168.3 342.1L1233.4 317.5L1272.3 372.8L1280.3 398.7L1270.2 402.9L1298.1 369.4L1164.5 371.2L1307.3 395.2L1243 448.9L1324.9 301.2L1292.8 562.6L1223.3 366.6L1328.8 344.2L1354.2 271.8L1130 334.2"/><path class="m2" d="M1421 350.8L1509.1 412.5"/><path class="m0" d="M1534.9 223.6L1553.2 275.9L1601.5 228.4L1645.3 202.8L1382.8 432.1L1609.7 218.8L1691.2 238.3L1584.7 199.3L1546.8 196.7L1486.8 320.7L1654.3 251.7L1548.7 167.6L1585.7 234.2L1425.4 211.8L1589 242.6L1521 251.5L1535.8 223.6L1587.8 203.4L1327.1 365L1507.8 188.7L1559.1 250.5L1511.6 255.5L1561 299.2L1480.5 229.5L1529.4 219.6L1533.6 270.8L1517.2 237.3L1672 334.4L1266.8 409.3L1595.3 263.3L1655.8 218.7"/><path class="m0" d="M1527.8 248.9L1259.7 213.6L1586.3 247.8L1418.6 362.6L1447 270.8L1479.5 286.1L1693.2 166.4L1536.5 218L1541.6 172.3L1526.5 309.8L1493.4 205.7L1515.9 216.6L1367.7 256.7L1558.6 232.3L1566.6 239.5L1540.9 224.6L1578.2 307.1L1541.5 212.6L1455.3 205L1611.9 253.3L1671.2 268.9L1421.8 264.3L1495.4 233.3L1370.3 259.3L1490.9 269.6L1529 221.5L1486.4 290.2L1459.3 207.3L1618.7 243.2L1495.2 315.7L1577.3 260.5"/><path class="m1" d="M1590.9 467L1516.3 505.2L1542.1 661.4L1530 506.6L1557.5 566L1539.6 376.4L1529.4 547.8L1540.8 538.9L1603.1 320.3L1483.4 401.3L1451.8 563.1L1584.5 393.6L1544.8 533.1L1647.6 322.8L1530.2 404.6L1508.6 391.6L1434.5 462.7L1552.8 335.5L1556.1 436.6L1637 494.1L1568.5 560.3L1594.4 363.5L1541.3 526.5L1524.3 500.3"/><path class="m3" d="M1267.9 349.2L1216.9 383.2L1260.6 344.8L1168.3 380.3L1255.8 422.3L1188.4 297.5L1223.7 414.3L1241.1 401L1207.1 384.1L1117.5 370.1L1331.7 411.5L1264.5 380L1234.4 402.3L1196.6 378.3L1279.5 384.6L1204.7 368.1"/><path class="m2" d="M1492.6 343.8L1466.2 254.4"/><path class="m3" d="M1244 388.2L1207.9 357L1119.4 322.2L1365 310.4L1216 310L1326.4 318.4L1404.1 396.5L1295.4 373.9L1293.9 390.3L1122.4 404L1329.3 350.3L1445.5 191.7L1221.4 278.7L1385.4 380.6L1215.2 308.5L1127.1 329.5"/><path class="m1" d="M1519.1 545.2L1553.6 528.4L1569.1 399.5L1520.3 284.7L1572.8 623.5L1566.4 543.6L1514.1 482.3L1590.9 443.9L1600.3 432.9L1546.6 341.5L1498.8 392.1L1507.5 431.4L1480.7 561.7L1529.7 345.2L1564.2 463.4L1548.4 375.4L1519.4 494.6L1533.4 509.8L1482 485.3L1445.8 569.2L1547.9 449.5L1524.2 551.5L1568.6 453.9L1488.8 490.7"/><path class="m2" d="M1426.8 367.2L1345.7 200.8"/><path class="m0" d="M1523.9 249.5L1474 190.8L1529.4 278.3L1628.9 179.7L1581.6 293L1596.8 244.4L1624.5 305.8L1599.2 234.5L1515.4 250L1568 175.1L1403.8 291.6L1492.4 230.4L1415.4 358.1L1501.3 234L1446.5 273.1L1557.9 314.1L1583.8 262.2L1688.3 189.5L1425.4 400.1L1578.9 246.1L1452.6 254.9L1526.7 203.4L1470.3 230.4L1678.7 412.3L1400.9 327.3L1612.4 454.2L1317.2 373.2L1477.7 276.6L1543.9 300.8L1432 240L1448.4 318.9"/><path class="m0" d="M1499.1 329.3L1265 385.9L1544.6 225.4L1541.8 379.2L1512.9 248.5L1555.1 291.5L1517.9 354.1L1474 249L1575 166.7L1475.8 197.5L1556.9 271.3L1516.4 340.6L1518.7 244.2L1542.3 191.1L1422.3 155.4L1478.8 257.6L1550.9 246.7L1545.2 280.1L1576.6 523.5L1477.3 195.6L1516.4 273.7L1582.3 212L1537.8 307.8L1553.2 241.5L1387.1 299.5L1407.6 263.7L1316.2 335.2L1434 218.5L1509.3 362.7L1498.3 187L1466.7 200.4"/><path class="m1" d="M1588.9 356.5L1584.8 423.2L1550.5 426.7L1604.8 591.3L1585.6 575.4L1514.6 447.6L1482.9 520.7L1529.4 373.6L1580.4 349.2L1586 426.2L1505.7 542.7L1489.7 439.9L1593.4 384.6L1565.5 397.6L1511.6 460.7L1601 476.2L1573.8 418.1L1583.1 398.3L1521.4 364.4L1530.4 427.5L1587 522.8L1575.5 459.7L1517.9 564.7L1545.8 418.8"/><path class="m2" d="M1496.8 370.4L1458.7 402.6"/><path class="m3" d="M1135.9 397L1135.1 405L1223.6 344.1L1334.6 368.2L1290 365.6L1310.4 287.5L1346.9 352.3L1134 369.8L1381.5 319.5L1368.5 297.2L1279.3 405.9L1188.2 336.4L1372.4 301.6L1219.5 351.5L1362.2 355.9"/><path class="m0" d="M1464 299.1L1492.1 309.9L1506.3 259.6L1461.2 263.9L1485.5 218.5L1538.8 226.5L1459.5 223.8L1447.8 368.1L1560.2 384.6L1371.6 411.1L1637.3 273.9L1513 257.9L1550.3 229.8L1464.1 311.6L1558.7 248.2L1546.7 222.5L1630 272.2L1462.3 231.5L1617.6 255.4L1604.3 249.7L1551.7 290.4L1540.4 211.6L1522.8 179L1605.3 515.2L1458.5 292L1547.2 276.9L1305.6 329.9L1433.3 281.3L1537.7 265.1L1540 212.4L1666 268.9"/><path class="m1" d="M1548.8 368.9L1558.8 430.5L1611 355L1603.2 407.6L1544.4 563L1543.9 480.4L1577.7 329.6L1521.6 470L1485.1 523.7L1488.7 383.9L1543.5 416.6L1571.1 461.2L1645.6 385.2L1497.5 489.6L1592.4 332L1554.3 386.6L1552.4 382.1L1525.8 450.1L1566.2 384.3L1563.1 447.4L1549.1 357.9L1513 383L1513 369L1532.6 540"/><path class="m2" d="M1375.3 325.3L1515.4 357.1"/><path class="m1" d="M1580.4 541.3L1484.8 383.1L1591.4 337.4L1573.7 364.9L1524.1 315.3L1529.2 422.5L1520.6 461.1L1519 525.3L1570.2 544.9L1536 403.6L1563 364.8L1584.8 351.5L1541.7 490.6L1511.4 480.4L1545.7 425.3L1561.5 422.9L1612.3 372.7L1555.4 531.1L1561.3 446.8L1479.8 453.9L1472.7 568L1541.7 515.2L1539 398.6L1589.1 398.3"/><path class="m3" d="M1152.2 425.8L1396.6 309.4L1242.3 305.5L1239.4 281.3L1313.9 401.8L1158 356.4L1413 338.1L1185.3 391.7L1287.4 384.7L1316.8 412.2L1261.6 328.4L1292.1 371.5L1215.4 354.9L1287.6 478.4L1254.4 383.6"/><path class="m0" d="M1569.7 257.1L1544.7 200.8L1445.3 312L1604.8 236.3L1555.2 285L1580.8 274.5L1540.9 254.8L1679.7 192.4L1427 273.2L1533.9 243.1L1540.9 236.2L1532.8 262.9L1538.9 249.5L1515.1 347.7L1539.6 217.4L1524 284.3L1640.4 231L1530.1 270.7L1528.6 249L1501.9 204.5L1512.1 221.7L1680 132.7L1539.8 267.6L1241.2 352.5L1500.8 283.9L1583.3 237.5L1605.8 267.8L1469.8 294.9L1467.3 274.6L1459.4 273.4L1458.2 327.3"/><path class="m3" d="M1385.1 279.1L1163.6 414.4L1267.7 358.2L1235.7 328.1L1350.5 347.7L1234.6 327L1302.2 322.6L1332.3 370.4L1240.9 316.2L1225.4 412.5L1276.8 393.9L1301.6 495.8L1186.5 441.2L1131 376.3L1225.7 397.3"/><path class="m1" d="M1534.7 380.3L1484.1 522.2L1560.8 494.9L1580.9 388.5L1570.7 344.8L1536.6 388.1L1537.7 503.7L1552.8 410.1L1449.2 543.9L1578.4 604.3L1510.8 496.9L1581.7 399.1L1496.6 541.2L1552.9 408.4L1528.9 424.1L1583.4 422.5L1540.6 399L1545.1 438.6L1579.4 363.1L1627.7 338.1L1599.7 488.4L1573.7 566.1L1527.2 433.6L1558.3 553.6"/><path class="m2" d="M1484 419.9L1479 425.6"/><path class="m2" d="M1443.1 305.5L1458.4 354.6"/><path class="m3" d="M1224.5 337.1L1315.4 360.3L1243.1 410.3L1209.4 412.6L1222.7 377.3L1316.7 391.9L1278.6 355L1208.6 421.1L1228.2 281.3L1257.7 373.6L1455.4 341.2L1209.6 300.3L1431 316.1L1250.4 299.2L1280.7 426.3"/><path class="m0" d="M1353.7 304.3L1569.6 229.7L1414.4 340.3L1538.5 292.1L1626.4 255.6L1512.4 184.3L1636.1 204.1L1578.4 277.1L1425.3 225.2L1544.4 283.6L1465.6 291.3L1548.4 279.9L1645.4 222L1472.2 233.3L1402.9 467.2L1600.7 160.7L1562.9 290.3L1537.5 278.4L1491.8 342.1L1508 246.3L1616.3 257.7L1501.2 222.1L1602.4 227.1L1517.8 282.1L1556.9 240L1621.4 382.5L1478.2 331.3L1604.6 201.7L1346.5 401.7L1669.7 174.9L1445.9 217.3"/><path class="m1" d="M1630.1 386.1L1562.1 339L1512 420.1L1561.9 367.9L1511.9 507.3L1574.9 403L1518.9 551.6L1523.1 437.7L1519.8 640.6L1488 600.7L1606.2 476.1L1584 448.7L1586.6 396.3L1525.7 511.6L1554 512L1551.6 432.1L1611.7 459.5L1535.7 482.6L1592.4 405.1L1530.5 314.9L1537 348.6L1572 428.8L1581.9 569.1L1492.9 558.1"/><path class="m0" d="M1591.9 226.5L1556.4 247.5L1501 536.6L1596.3 305.8L1479.5 282.2L1621.7 263.7L1670.2 231.1L1448.4 467.9L1539.3 370.2L1589.8 199.9L1628.2 281L1510 176.1L1542.7 239.8L1441.5 220.5L1517.2 216.1L1600.9 268.1L1374.4 397L1523.5 219L1570.4 229.7L1458.2 200.3L1490.6 243.5L1413.1 314.9L1516 187.6L1463.2 390.5L1507.4 223.3L1531.9 340L1528.7 190.9L1438.6 302.2L1520 236.6L1530.3 264.8L1473 232.5"/><path class="m3" d="M1335.7 370.2L1215.3 352.5L1409.5 374L1356.8 365L1243.8 439.9L1249.1 374.7L1148.1 363.5L1264 378L1170.7 389.1L1358.6 453.4L1361.6 358.8L1142.7 314.2L1382.9 435.8L1225.3 331.5L1100.5 128.9"/><path class="m2" d="M1378.6 237.5L1411.7 296.7"/><path class="m0" d="M1577.5 275.5L1488.6 234.9L1579.1 215.5L1613 324.2L1534 319.6L1430.8 279.6L1499.2 271.8L1506.8 340.7L1482.8 192.7L1503.5 258.8L1652.6 216.4L1595.6 211.3L1610.2 200.5L1583.6 254.6L1516 278.8L1495.7 234.7L1426.6 171.6L1525.6 167.7L1559.5 281.9L1535.1 266.7L1480.7 503.5L1497.3 326.8L1337.1 421.9L1604.5 435.2L1410.3 363.8L1680 339.5L1485.9 244.1L1559 251.3L1539.9 259.1L1495 253.5L1616.4 242.5"/><path class="m1" d="M1567.2 437.1L1533 390.7L1471.8 429L1547.8 529.4L1571.8 426.4L1513 647.2L1574.4 459.7L1164.1 249.1L1606.8 432.5L1525.3 437.3L1590.4 508.6L1606 642.2L1528.4 495L1542.9 315.2L1561.7 363.8L1542.9 549.8L1539.5 405.2L1535.2 552.8L1573.7 384.4L1563.8 394.6L1554.9 530.4L1545.4 304.1L1537.6 464.5L1619.4 575"/><path class="m2" d="M1521.9 383.4L1487.3 377.1"/><path class="m3" d="M1267.4 316L1330.3 414.9L1246 351.7L1406.3 336.7L1251 403.1L1307.4 339.4L1090.9 363.8L1304.9 393.2L1277.5 316.9L1436.1 371.9L1188 300.4L1164.9 399.2L1436.2 392L1189.4 391.4L1223.4 363"/><path class="m1" d="M1545.5 464.6L1555.4 539.7L1572.8 504.7L1564.4 523L1527.8 437.3L1496.7 578.3L1539.4 464.7L1560.6 439.2L1502.3 601.9L1495.3 530.7L1479.4 470.8L1506.1 307.2L1607.7 421.5L1562.5 564.3L1585.7 503.2L1518.1 521.5L1506.7 450.2L1441.9 399.3L1532 459.9L1532.5 558.8L1554.1 480.8L1630.8 600.3L1445.5 672.7L1598.6 494.6"/><path class="m2" d="M1490.3 339.1L1492.3 426.5"/><path class="m3" d="M1306.7 340.4L1153.5 532.2L1252.7 314.5L1147.3 344.5L1225.2 436.7L1300.9 389.8L1335.3 348.9L1129.3 345.5L1471.1 333.7L1182.9 356.1L1200.3 318L1080.4 340.9L1273.4 432.9L1237.6 357.8L1227.7 334.3"/><path class="m0" d="M1486.7 280.7L1511.1 336.9L1625.9 282.5L1368.8 283.5L1492.6 271.5L1710.2 103.6L1520.7 248L1492.9 290.9L1503.3 248.7L1560.4 253.2L1530.9 204L1460.2 385.6L1587.1 251.9L1502.2 300.9L1512.5 272.8L1430 256.4L1587.3 153.9L1537.2 207.6L1541.2 225.1L1430.5 273.3L1535.2 509.5L1531.5 239.7L1311.3 265.7L1591 254.2L1601 205.7L1384.2 424.1L1463.8 322.2L1570.1 288.6L1469.9 303.9L1472.8 272.1"/><path class="m1" d="M1558.1 497.6L1547.7 523.4L1522.9 390.3L1611.5 524L1568.9 362.7L1564 439.3L1533.9 653.1L1552.7 378.1L1546 620.6L1526.5 553.9L1596.8 402.6L1549.8 579.2L1551 308.2L1471.3 412.1L1563.4 385.9L1551.9 403.2L1523 304.9L1542.9 525.4L1638.1 429.3L1552.2 395.1L1538.2 499.7L1579.4 364.7L1568.4 462.8L1547 548.4"/><path class="m3" d="M1172.5 338.4L1228 342.1L1327.4 400.6L1244.5 326.6L1400.8 409.1L1214.4 283.8L1313.5 337.2L1107.3 367.9L1315.1 361.1L1277.6 438.9L1151.1 379.6L1262.1 396.5L1212.1 391.4L1329.6 374.9L1202.3 312.8"/><path class="m2" d="M1408 316.6L1456.9 322.4"/><path class="m0" d="M1590.4 203.3L1591.5 208.9L1519.7 338.4L1476.3 258L1437 251.3L1570.7 374.8L1510.2 245.4L1504.5 227.5L1586.4 192.4L1413.2 291L1405.6 209.5L1450.7 442.3L1596.6 358.6L1532.9 202.3L1442.3 309.5L1554 207.6L1467.7 302.5L1492.2 215.8L1501.1 234.2L1510.9 289.7L1517.1 254.4L1458.7 210.5L1511.2 273.9L1531.5 275.9L1533.9 149.2L1540 256.8L1624.2 279.2L1452.5 290.4L1442.7 279.4L1473.2 328.5"/><path class="m0" d="M1562.2 242.5L1546.4 252.9L1445.6 257.7L1494.7 254.8L1405.9 272.5L1485.2 209.3L1474.1 277.9L1555.5 241.6L1254.5 321.9L1505.3 174.3L1468.4 239.2L1464.3 301.6L1443.6 313L1311.9 313.8L1472 218.8L1497.1 295.7L1537.5 148.4L1264.2 228.9L1510.8 247.9L1476.1 297.8L1474.6 275.9L1581.6 255.6L1611.5 219.5L1571.6 276.9L1554.6 267.1L1499.4 534.8L1568.1 289.3L1554.6 262.4L1489 237.6L1486.4 204.2"/><path class="m2" d="M1383.9 228.5L1434.3 395.4"/><path class="m1" d="M1410.7 444.5L1490 393L1557.7 540.2L1584.4 468.3L1541.8 448.5L1510.5 637.5L1526.4 440.6L1598.6 512.7L1553.1 575.6L1569 403.2L1557.5 375.2L1518.1 661.5L1552.7 503.7L1568.3 376.8L1568.6 540.2L1582 465.2L1479.4 446.5L1560.2 363.8L1517.4 362L1591.2 559.3L1601.8 481.8L1560.6 509.2L1575.9 503.4L1554 468.5"/><path class="m0" d="M1476.6 243.1L1554 187.8L1516 322.2L1529.6 214.9L1574.6 243.3L1436.6 245.3L1437.4 282.7L1510.9 327.8L1587.1 220.3L1566 264.7L1529.8 253.5L1542.4 244.2L1538.9 199.8L1584.8 410.7L1540.5 209.2L1546.2 206.5L1628.4 144.8L1505.4 238.7L1550.6 253.9L1435.6 297.5L1462.5 347.3L1425.4 325.7L1353.7 342.1L1558.4 233L1591.2 147.1L1592.8 248.6L1469.9 184.8L1579.3 252.7L1572.4 273.9L1540 237.7"/><path class="m3" d="M1224.1 388.7L1367.5 334.8L1177.8 307.2L1206.3 398.5L1190.8 350.1L1082.7 392.2L1298.3 259.4L1139.5 340L1374.1 336.3L1272.8 420.8L1370 406.1L1127.5 366.4L1229.2 363.1L1141.7 307.9L1251.8 373"/><path class="m2" d="M1452.1 380.7L1346.9 371.3"/><path class="m1" d="M1545.7 478.7L1583.1 550.7L1537.7 507.1L1561.3 616.7L1523.2 471L1601.8 458.7L1532.2 553.1L1517 574.5L1553.3 548L1609.2 406.1L1557.2 534.1L1547.7 410.9L1550.3 323.7L1525.1 423.4L1495.6 527.6L1510.8 384.6L1557.4 353L1508.9 485.7L1601.9 385.8L1519.2 641.3L1583.2 463.7L1521.3 378.8L1528.9 595.3L1582.3 439.1"/><path class="m1" d="M1546.9 299.3L1577.1 374.7L1563.9 484L1559.5 395.4L1584.2 576.9L1558.7 430.7L1544.6 444.8L1571.3 394.8L1554.2 448.3L1448.1 496.5L1563 496L1603.9 404.1L1568.4 370.5L1567.7 405.6L1566 306L1575.8 329.3L1594.8 361.3L1542.2 439.4L1554.4 421.2L1570.2 539.1L1527.8 611.5L1495.8 390L1532.6 363.6L1553.9 628.6"/><path class="m3" d="M1263.7 435.6L1262.7 369.3L1184.4 399.7L1403.5 440L1151.8 377.1L1394.8 408.9L1164.8 393L1243.2 389.6L1248.6 372.5L1150.9 398L1246.5 266.8L1238.7 369.6L1139.4 390.7L1257.4 353.3L1304.4 377.3"/><path class="m2" d="M1465.9 243.8L1535.2 356"/><path class="m0" d="M1562 219.4L1533.4 287.1L1483.1 197.3L1547.3 323.8L1383.3 350.3L1534.5 277L1440.9 314.9L1485.3 258L1472.5 200.1L1635.4 184L1545.5 170L1570 270.8L1616.5 254.1L1550 186.2L1564.2 228L1518.6 231.3L1363.3 317.3L1487.1 285.4L1516.5 310.7L1438.6 207.9L1577.2 307.4L1611.6 278.1L1518.9 328.6L1506.1 373.9L1613.1 190.8L1515 243.2L1505.7 237.8L1539.4 205.1L1589.2 299L1560.7 261.2"/><path class="m1" d="M1535.3 337.5L1555.8 372.9L1516.6 550.5L1553.5 463.3L1520.7 433.2L1472.3 452.2L1559.9 466.6L1520.5 464.3L1542.7 575L1599.5 451.7L1626.1 436.4L1545.4 315.2L1510.5 523.7L1535.8 555.6L1583.6 336.4L1562.1 414.9L1546 451.5L1564.4 505.3L1576.8 362.8L1546.8 494.9L1499.9 578.6L1585 593.9L1484.1 511.4L1564.3 505"/><path class="m3" d="M1310.9 411.1L1295.1 322.5L1208.9 296.6L1187.4 481.7L1185.7 472.1L1222.1 362.2L1364.7 424.1L1217.7 384.9L1268.6 314.3L1280.6 395.1L1353 387.9L1162.2 365L1121.2 397.1L1217 490.2L1279.6 329.8"/><path class="m0" d="M1384.4 327.5L1447.5 284L1546.8 247.1L1593 264L1453.6 323.2L1523.2 195.6L1514.7 220.7L1520.7 226.2L1598.1 233.8L1550.9 279.7L1556.9 223.2L1374.7 197.5L1503.4 324.6L1434.5 296.2L1554 88.3L1597.2 212.2L1671.7 265L1333.1 337.7L1521.3 301.3L1569.8 212.7L1575.8 243L1710.2 184L1450.8 254.1L1499.7 316.3L1579.2 266.4L1553.9 225.2L1628.4 251.2L1392.4 316.2L1601.2 215.7L1455.1 249.2"/><path class="m3" d="M1268.6 385.2L1266.9 376.4L1304.7 390L1194.4 351.1L1331 290.2L1224 381.6L1257 304L1351.8 412L1277.7 378L1382.2 424.9L1305 339L1315.4 351.8L1409.3 384.8L1334.5 467.1L1204.3 389.8"/><path class="m1" d="M1607 381.2L1534.2 561.7L1550.7 382.4L1500.5 419.8L1547.8 383.7L1544.4 455.9L1564.4 533.3L1505.9 485.9L1476.3 458.4L1559.9 406.4L1522.7 319.5L1564.5 455.9L1616.3 538.7L1424.3 442.4L1514.7 357.9L1597.9 355.8L1539.4 626.9L1630.2 376.8L1448.6 373.3L1493.1 452.7L1595.3 459.5L1570.6 399.6L1540.9 580.8L1534.2 582.3"/><path class="m2" d="M1456.7 343.4L1447.1 248.8"/><path class="m0" d="M1693.3 266.3L1459.4 308.1L1574.4 262.7L1422.4 252.6L1520.6 270.1L1489 195.8L1585.9 207L1470.1 237.6L1466.1 212.2L1557.5 183.9L1568.4 398.5L1477.6 229.6L1599.3 383.7L1539 250.5L1445.2 256.7L1364 258.9L1539 212.7L1662.9 218.9L1536.7 153.5L1491.5 214.9L1604.9 251.1L1561.7 297.1L1575.9 289L1562.3 238L1451.5 324.6L1557.3 208L1462.3 339.6L1464.6 268.3L1546.7 262.6L1712.2 356.4"/><circle cx="1390.9" cy="225.8" r="5.15" fill="none" stroke="#00cd00" stroke-width="2.7"/><path class="m3" d="M1279.6 409L1329.6 518.3L1292.5 524.3L1361.9 378.8L1334.7 376.1L1398.6 195.5L1318.1 428.6L1209 365.7L1381.6 315.1L1317.9 394.7L1089.6 346.8L1171.1 461.2L1201.1 368.6L1334.6 336.7L1255.8 347.3"/><path class="m1" d="M1530.4 487L1615.7 404.6L1589.3 410.2L1562.4 520L1580.5 535.4L1570.9 580.6L1544.3 406.8L1504 444.1L1477.9 394L1576.2 394.2L1565.5 506.7L1545 403.7L1582.7 398.6L1472.8 549.7L1570.7 462.2L1536.4 505.4L1579.7 583.7L1538.8 459.7L1595.7 511.9L1515.6 528.6L1557.7 491.8L1556.8 379L1549.5 426.2L1596.2 546.6"/><path class="m3" d="M1308.3 422.6L1226.1 307.1L1286.1 345.3L1244.7 359.3L1322.7 341.9L1361.8 308.7L1426.1 343.2L1447.6 339.1L1143.1 369L1280.4 365.9L1195.3 359.9L1247.8 345.4L1188.3 267.8L1381 364.5L1376 403.2"/><circle cx="1486.5" cy="369.3" r="5.15" fill="none" stroke="#00cd00" stroke-width="2.7"/><path class="m0" d="M1562.5 274.5L1517.3 552.4L1371.5 330.3L1559.3 231.4L1559.8 189.2L1420.7 278.7L1497.5 256.7L1529.4 339.9L1533.6 227.1L1583.5 364L1532.3 268.8L1627.7 330.7L1468 187.6L1554.4 193.8L1518.5 223.3L1504.4 221.6L1551.8 192L1400.9 397.1L1544.8 312.7L1616.2 236.7L1519 238.4L1549 279.4L1590.5 302.2L1439.1 317.9L1458.4 266.4L1586.3 197.1L1534.4 297.8L1447.9 180.6L1613.9 209.6L1597.7 298.6"/><path class="m1" d="M1569.5 373.2L1512.1 627L1489.6 551.4L1633.8 338.2L1533.3 419.6L1494.7 528.4L1555.4 398L1528.4 329.7L1585.7 369.1L1549.2 533.3L1554.2 428.4L1538.2 512L1561.9 538.9L1596.1 497.6L1622.1 431.6L1500.5 491.1L1535.7 450.8L1501.7 455.3L1524.2 513.8L1553 323.3L1578.2 466L1557.2 535.9L1503.5 432.7L1561.5 496.5"/><path class="m0" d="M1541.8 216.5L1607.6 201.5L1647.5 275.7L1589.5 258.5L1496.2 215.8L1620.2 256.5L1587.5 274.9L1414.6 364.1L1443.5 327.2L1509.2 321.2L1563 196.2L1517.3 398.2L1592.5 318.7L1491.8 223.8L1580.2 308.2L1592.7 282.4L1600.4 228.9L1484.9 259.5L1574.7 266.4L1620.1 265.5L1554.2 258.9L1606.3 257.3L1618.4 342.6L1457.8 320.6L1608 287.2L1514 214.7L1487.9 258.5L1440.7 425L1543.3 202.1L1523.5 193.2"/><path class="m3" d="M1092.1 332.1L1179.4 379.2L1133.5 302.5L1263.4 332.3L1260.2 330L1383.4 305.3L1389 380.4L1307.7 364.9L1125.7 390.9L1384.4 410.1L1194.5 455.1L1229.1 355.3L1267.2 374.2L1288.2 358.9L1264.5 363.3"/><circle cx="1474.7" cy="367" r="5.15" fill="none" stroke="#00cd00" stroke-width="2.7"/><path class="m1" d="M1503.9 491.2L1630.5 550L1548.2 612.9L1463.6 512.8L1589.1 411.8L1568.8 464.8L1590.4 342.6L1617.1 634.7L1593.2 503.9L1573.4 445.6L1597 383.2L1594.8 380.8L1572.7 332L1589.3 561.6L1593.8 501.3L1576 355.7L1481.1 543.9L1552.4 401L1537 520.1L1588.6 555L1555 488.6L1555.4 425.1L1556.7 625.9L1478.4 442.1"/><path class="m0" d="M1636.2 235.2L1542.8 262.9L1632 281.9L1482.9 266L1565 217.9L1513 246.2L1573 234.4L1548.3 429.7L1522.1 268.1L1561.5 206.8L1566.6 162.1L1531.3 218.3L1663.2 284.6L1533.6 250L1536.3 250.3L1495.6 271.3L1515.4 211L1434.6 329.2L1471.8 302.1L1492.9 242.8L1574.1 300.2L1416.2 285L1340.3 300.2L1535.5 231.1L1510.6 277L1530.7 499.6L1525.9 275.3L1591.1 253L1526.1 164.8L1576.1 363.1"/><circle cx="1507.9" cy="395.2" r="5.15" fill="none" stroke="#00cd00" stroke-width="2.7"/><path class="m3" d="M1337.3 373.7L1163.8 420.9L1333.9 526L1256.7 380.9L1205 411.6L1316.2 378.4L1268.1 394.5L1299 362.9L1214.5 317.1L1409.9 382.8L1238.6 347.3L1221.3 349.1L1133.7 347L1192.6 392.7L1251.8 386.7"/><path class="m1" d="M1494.1 507.7L1552.3 436.7L1596.3 494.2L1572.5 618.4L1571.4 372.3L1514.6 503.2L1525.8 485.5L1544.3 391.9L1518.3 496L1505.7 331.9L1547.4 383.1L1506.3 476.9L1484.2 433.2L1575.6 380.2L1620.7 481.8L1592.9 615.6L1617.4 362.2L1515.4 440.8L1562.5 477.5L1563.7 524.3L1550.5 357L1579.9 464.4L1537.2 640.8L1521.4 473.5"/><path class="m0" d="M1667.4 286.9L1584.8 258L1621.3 181.9L1447.8 202.9L1443.7 331.7L1529.1 292.2L1355.7 390.1L1563.5 268.1L1563.4 290.6L1644.8 202.6L1587.8 246.9L1351.6 314.5L1622 219.5L1475.9 264.3L1452.2 315.3L1623.6 358.6L1509.6 246.7L1573.2 243.4L1501.6 224L1562.2 230.3L1499.6 230.3L1283 385.4L1554.4 212.3L1562 245.4L1574.7 241.2L1537 249.4L1277.9 337.5L1451.6 222.3L1522 251.3L1355.2 301.8"/><circle cx="1501.3" cy="308.5" r="5.15" fill="none" stroke="#00cd00" stroke-width="2.7"/><path class="m3" d="M1337.6 305.4L1206 365.5L1181.8 397.7L1204.4 325.3L1202.3 389.1L1302.2 332.7L1376.7 359.8L1381.8 460.8L1252.1 345L1358.5 339.4L1146.4 350.1L1305.1 328.4L1195.6 363.5L1187.7 399.5L1377.7 452"/><path class="m1" d="M1579.2 457.4L1526.7 389.7L1497.4 483.8L1548 303.2L1548.7 375.6L1559.4 503.3L1557.9 614L1567.8 532.2L1516.8 556.4L1577.5 405.6L1564 394.9L1590.3 474.2L1488.7 545L1562.8 499.9L1532.8 356L1601.8 398.4L1563.3 294.7L1513.3 399.8L1505.1 528.9L1446.7 381.7L1597.4 449.9L1566.1 501.5L1489.5 462.5L1489 460.4"/><circle cx="1488" cy="302.8" r="5.15" fill="none" stroke="#00cd00" stroke-width="2.7"/><path class="m0" d="M1541.5 281.1L1570.4 243.5L1484.7 232.9L1455.6 354.1L1498 288.1L1459 207.3L1555.8 278.3L1441.9 391.9L1518.9 254.8L1449.4 257.5L1606.7 220L1505.4 220.5L1623.3 189.1L1635.8 237.1L1538.9 251.1L1524.8 258.4L1638.3 306.8L1552.7 276.4L1538.7 217.8L1623.3 208.4L1556.6 204.9L1663.8 316.8L1487 455.5L1560.6 201.6L1343.6 373.4L1524.1 232.1L1517.8 215.7L1603.1 233.7L1505.7 232.3L1474.8 248.4"/><path class="m3" d="M1087.3 352.1L1184.8 306.6L1173.7 305.1L1164.7 324.2L1222.2 396.8L1388 397.2L1308.4 331.2L1229.6 347.8L1151.8 360.4L1231.1 291.3L1212 354.2L1439.6 361.1L1273.7 496L1323.6 403.8L1202.6 373.9"/><path class="m1" d="M1570.2 586L1587.4 335.8L1493.9 400L1557.6 462L1530.4 354.9L1517.4 283.1L1495 432.5L1572 366.4L1552.2 521.2L1553.9 464.7L1484.6 617.6L1580.5 343L1575.2 590.2L1522.1 524.7L1625.7 370.7L1486 521.7L1528.1 605.5L1543.7 380L1521.7 513L1526 383.4L1593.9 430.8L1527.4 388.7L1630.1 382.5L1589.9 366.1"/><path class="m3" d="M1236.8 385.4L1221.1 428.7L1258.7 293.7L1288.5 413.6L1246.3 350.9L1408.9 393.7L1416 339.5L1244.8 413.6L1413.3 354.3L1356.5 326.2L1166.6 294.9L1184.5 377.2L1394.5 368.7L1243.8 321.3L1168.8 370.5"/><path class="m0" d="M1668.6 271.9L1503.4 251.9L1701.4 145.7L1572.6 209.1L1497.5 264.2L1540.9 290.8L1588.8 295.6L1544.1 280L1579.4 252.7L1465.9 228.8L1525.4 311.6L1409.8 369.7L1607.3 185.5L1489.1 205.3L1479.8 325.9L1560.3 239.2L1546.3 247.6L1515.7 302.5L1468.8 256.5L1539.8 261.6L1546.6 266.2L1595.2 200.8L1522.3 273.1L1547.3 235.7L1528.6 207.5L1581.4 252.5L1501.3 210.9L1249.6 352.4L1496.8 243.4L1589.9 237.5"/><circle cx="1534.7" cy="308.9" r="5.15" fill="none" stroke="#00cd00" stroke-width="2.7"/><circle cx="1447.1" cy="353.5" r="5.15" fill="none" stroke="#00cd00" stroke-width="2.7"/><path class="m1" d="M1390.6 601.5L1591.1 380.3L1512.2 392.8L1574.8 308.2L1497.6 535.5L1483.7 525.3L1512.8 495.2L1576.5 543.1L1556.6 400.7L1568.1 321.2L1535.2 359.8L1562.8 419.2L1500.6 478.2L1608.3 436.3L1608.6 314.2L1455 594.3L1429.8 377.9L1558 405.7L1551.8 454.4L1556.3 481.6L1549.9 559.8L1597.3 569.2L1600.3 429.7L1548.9 614.4"/><path class="m1" d="M1555.4 414.4L1537 366.7L1553.2 344.4L1535.8 511.1L1559 468.4L1523.7 490.9L1578.2 389.5L1563.7 549.3L1560.8 482.7L1545.7 496.2L1540.7 580.5L1593.8 365.8L1557 469.5L1496.1 576.5L1605.7 448.3L1528.1 530.5L1591.7 421.3L1645.1 342.1L1566.9 360.5L1602 392.7L1621.9 525.5L1577.5 260.6L1460.8 511.4L1506.4 564.1"/><path class="m3" d="M1351.9 357.2L1153.6 370.2L1269.5 360.6L1210.3 305.5L1353.5 336.5L1387.3 384.1L1138.6 360.6L1285.3 335.9L1263.4 440.4L1277.3 334.6L1231.2 332.4L1063.6 370.2L1080.8 340.9L1156.7 390.3L1226.3 412"/><circle cx="1235.5" cy="308.7" r="5.15" fill="none" stroke="#00cd00" stroke-width="2.7"/><path class="m3" d="M1185.4 355L1209.6 358.3L1331.6 314L1289.9 377.3L1392.8 344.4L1311.2 394.4L1290.8 362.5L1251.7 388.4L1321.7 397.6L1398.3 265.2L1342.9 389.2L1217 345.9L1286.6 334.4L1355.1 368L1140.9 360.5"/><circle cx="1418.2" cy="275.6" r="5.15" fill="none" stroke="#00cd00" stroke-width="2.7"/><path class="m3" d="M1299.4 362.9L1243.4 324.8L1234.1 368.6L1275.4 352.5L1257.6 394.6L1110.6 374.8L1277.7 394.1L1378.9 344.6L1443.6 345.9L1243.2 470.2L1197.9 323.9L1182 347.1L1386.3 347.7L1222.8 320.3L1317.8 354.3"/><circle cx="1463.9" cy="293.8" r="5.15" fill="none" stroke="#00cd00" stroke-width="2.7"/><circle cx="1485.3" cy="289.3" r="5.15" fill="none" stroke="#00cd00" stroke-width="2.7"/><circle cx="1471" cy="423.5" r="5.15" fill="none" stroke="#00cd00" stroke-width="2.7"/><circle cx="1466.4" cy="338.6" r="5.15" fill="none" stroke="#00cd00" stroke-width="2.7"/><circle cx="1493.1" cy="308.2" r="5.15" fill="none" stroke="#00cd00" stroke-width="2.7"/><circle cx="1428.5" cy="346.1" r="5.15" fill="none" stroke="#00cd00" stroke-width="2.7"/><circle cx="1469" cy="300.3" r="5.15" fill="none" stroke="#00cd00" stroke-width="2.7"/><circle cx="1361.5" cy="348.1" r="5.15" fill="none" stroke="#00cd00" stroke-width="2.7"/><circle cx="1432.1" cy="521.1" r="5.15" fill="none" stroke="#00cd00" stroke-width="2.7"/></g>
<rect x="1025.8" y="20.5" width="778.9" height="698.2" fill="none" stroke="#000" stroke-width="2.7" stroke-linejoin="round"/>
<path d="M1050.2 718.7v14.5M1184.2 718.7v14.5M1318.2 718.7v14.5M1452.2 718.7v14.5M1586.2 718.7v14.5M1720.2 718.7v14.5M1025.8 666.6h-14.5M1025.8 513.4h-14.5M1025.8 360.2h-14.5M1025.8 207h-14.5M1025.8 53.8h-14.5" stroke="#000" stroke-width="2.3" fill="none"/>
<text x="1044.1" y="761.1" class="t">-6</text>
<text x="1178.1" y="761.1" class="t">-4</text>
<text x="1312.1" y="761.1" class="t">-2</text>
<text x="1452.2" y="761.1" class="t">0</text>
<text x="1586.2" y="761.1" class="t">2</text>
<text x="1720.2" y="761.1" class="t">4</text>
<text transform="translate(1004.9 672.7) rotate(-90)" class="t">-4</text>
<text transform="translate(1004.9 519.5) rotate(-90)" class="t">-2</text>
<text transform="translate(1004.9 360.2) rotate(-90)" class="t">0</text>
<text transform="translate(1004.9 207) rotate(-90)" class="t">2</text>
<text transform="translate(1004.9 53.8) rotate(-90)" class="t">4</text>
<text x="1415.2" y="797.9" class="l">LD2</text>
<text transform="translate(972.2 369.6) rotate(-90)" class="l">LD3</text>
<text x="1043.1" y="91.9" class="p" style="font-size:75.5px">b</text>
<rect x="1695.3" y="604.7" width="109.4" height="114" fill="#fff" stroke="#000" stroke-width="1.3"/>
<circle cx="1710.1" cy="621.7" r="5.15" fill="none" stroke="#000000" stroke-width="2.7"/>
<text x="1724.1" y="631.2" class="g">Alder</text>
<circle cx="1710.1" cy="648.7" r="5.15" fill="none" stroke="#ff0000" stroke-width="2.7"/>
<text x="1724.1" y="658.2" class="g">Hazel</text>
<circle cx="1710.1" cy="675.7" r="5.15" fill="none" stroke="#00cd00" stroke-width="2.7"/>
<text x="1724.1" y="685.2" class="g">Larch</text>
<circle cx="1710.1" cy="702.7" r="5.15" fill="none" stroke="#0000ff" stroke-width="2.7"/>
<text x="1724.1" y="712.2" class="g">Birch</text>
<path d="M1693.3 718.7H1804.7V602.7" fill="none" stroke="#000" stroke-width="2.7" stroke-linejoin="round"/>
<g><path class="m0" d="M206.2 1101.8L242.3 1102.5L205.6 1189.6L238.5 1246.8L287.1 1356.7L339.9 1242L207.8 1031.9L254.9 1121.6L259.6 1095.6L272.7 1150.9L225.9 1108.7L248.9 1189.6L270.1 1090.9L247.8 1322.9L290.9 1232.9L241.8 1117.6L249.2 1227.8L237.3 1090.5L228.2 1108.1L262 1138.4L313.4 1232.2L230.3 1116.9L179.1 1249.2L250.2 1110.9L251.8 1068.5L263.9 1106.5L242.8 1101.3L267 1134.2L228.2 1099.6L218.1 1061.2L327.2 1100.8"/><path class="m1" d="M242.7 1311.5L215.3 1344.2L327.7 1455.5L225.9 1475.7L170.9 1484.6L228.9 1287.4L266.5 1393.6L264.9 1383.6L317.6 1371L342.3 1421L330.9 1383.8L337.9 1412.3L278.5 1373.5L375.7 1337.4L250.1 1410.3L240.7 1260.9L294 1398.9L175 1366L295.4 1279.7L305.9 1406.6L325.7 1359.3L284.9 1412L303.4 1364.8L276.2 1387.1L229.3 1466.4"/><path class="m0" d="M299.1 1179.4L263.3 1139.4L266.9 1067.4L232.2 1159.9L252 1112.5L190 1210.8L289.9 1153.8L303 1122.1L270.7 1125.9L304.2 1124.2L269.4 1105.7L288.7 1034.8L411.5 1243.6L321.5 1126.3L272.5 947L261.8 1105.9L388.1 1244L363.6 1139.6L304.7 1180.8L257.5 1127.5L329.8 1088.4L195.6 1181.2L323.8 1150.9L215.5 1123.4L251.4 1114.1L339.5 1066.3L217 1142.8L280 1096.1L306.8 1334.3L242.8 1241.9L248.8 1011.4"/><path class="m0" d="M264.4 1198L234.9 1095.2L254.8 1183.6L209.2 1198.1L267.9 1112.6L313.9 1118.2L272.4 1098.5L258 1109.1L261.9 1110.2L260 1020.9L410.3 1205.4L315.4 1087.7L369.1 1245.6L317.7 1134.4L299.7 1112.4L296 1107.6L261.1 1017.2L309.2 1272.6L234.8 1096.3L293.7 1165.3L304.6 1223.9L272.1 1274L306.3 1009.3L304.3 1105.8L227.3 1079.2L266 1157.5L325 1066L248.6 1088.7L322.8 1116.7L398 1151.8L343.8 1097.4"/><path class="m1" d="M244.5 1360.7L324.8 1344.5L186.6 1455.8L185.9 1480.8L329.8 1379.9L370.8 1301.9L277.3 1399.2L207.6 1352.1L276.1 1350.5L285.3 1308.4L257.7 1402.9L221.7 1372.7L224.6 1276.9L278.8 1464.4L328.7 1271.5L232.3 1407.8L264.2 1508.2L336.6 1416.9L228.6 1418.5L238.7 1251.1L207.2 1396L424.3 1383.3L318.1 1310.7L240.9 1406.1L236.3 1238.9"/><path class="m3" d="M311.1 1226.1L285.6 1232L275.5 1233L255.1 1227.7L365.7 1211.2L248.7 1260.6L257.2 1282.8L291.5 1205.5L253.1 1219.6L289.4 1248.4L245.6 1200.8L316.8 1283.7L274.1 1432.5L301.6 1225.7L338.6 1198.6L348.3 1334.8"/><path class="m0" d="M343.5 1129.3L358.9 1146.7L227 1132.8L328.1 1191.4L283.8 1063.5L247.1 1170.8L302.4 1084.4L297.8 1141.4L260.6 1103.1L239.4 1155.2L238.5 1232.6L253.2 1218.6L223.7 1105.1L274.7 1180.4L268.4 1145.1L272.9 1115.2L280.4 1077.4L270.1 1108.8L253.5 1097.6L234.2 1094.7L246.9 1163.5L334.3 1390.3L255.4 1131.1L268.4 1121.4L292.5 1155.9L162.4 1171.7L265.3 1067.1L264 1221.2L235.5 1075.6L277.7 1074.9L173.5 1168"/><path class="m1" d="M352 1174.1L286.6 1408.3L301.8 1443.2L277.4 1438L302.3 1334.8L320.2 1381.7L301.1 1391.8L247.3 1273.9L262.3 1296.2L278.1 1508.3L262.4 1452.3L276.8 1389.3L189.5 1322.5L252.1 1356.8L376 1419.4L351.7 1267.2L378.6 1248.5L330.4 1266.1L274 1378.5L340.5 1354.1L351.5 1296.5L281.8 1392.1L330.2 1423.3L331.3 1436.4L218.5 1453.8"/><path class="m3" d="M312.5 1187.8L367.3 1262.4L293.6 1153.4L273.7 1248L331.6 1256.2L276.6 1220.1L311.7 1370.4L281.1 1354.2L360.6 1272.5L263 1227.6L396.2 1222.2L306.4 1246.7L308.2 1268.9L254.2 1249L284.3 1246.6L265.9 1196.9"/><path class="m0" d="M216.4 1147.8L286 1184.7L255.5 1091.4L258.2 1026.4L260.9 1097.6L338.4 1111.7L243.1 1164.8L296.3 1116.6L263.5 1143.8L189.7 1099.5L296.2 1062.4L212.1 1113.4L267.1 1121.3L236.7 1149.2L202.7 1169.4L241.1 1113.4L316.8 1162.8L263.8 1222.8L253.5 1141.1L231.3 1123.8L156.1 1169.2L367.1 1125.1L314.7 1146L360.2 1165L273.5 1003.1L276.5 1111.7L210.3 1114.6L292.7 1215.5L174.7 1207.7L260.3 1198.9L344.5 1091.3"/><path class="m1" d="M308.3 1439.1L293.8 1329L373 1185.9L255.5 1300.6L254.3 1279.3L284.1 1277.4L292.9 1467.4L276.8 1559.3L359.6 1426.2L338.2 1384.3L303.2 1288.8L304.6 1414.7L325.2 1337.8L227.3 1439.4L308.4 1295.4L406.8 1488.7L282.9 1512.1L198.1 1398.5L295.8 1447.3L370.8 1399.9L229.9 1428.1L200.1 1398.1L195.6 1246.3L317.5 1375.5L380.3 1390.4"/><path class="m0" d="M255.8 1070.6L309.6 1153.8L252.5 1033L261 1162.3L250.9 1119L314.1 914.9L284.9 1159L153.7 1202.5L254.5 1117.1L342 1223.6L230.4 1136.9L252.3 1121.8L234.4 1121.4L256.6 1136.9L265.6 1104.4L227.7 1140.7L273.9 1072.2L315.7 1135.5L269 1091.3L206.8 1194.6L255.6 1096L294.2 1139.6L299.7 1093.8L295.3 1165.4L389.6 1289.3L293.6 1095.5L262.3 1112L300.1 1125.5L203.5 1084.2L259.2 1106.8L344.8 1133"/><path class="m1" d="M320.7 1330.3L238.6 1381.7L325.1 1414.8L310.4 1397.2L284.9 1271.2L272.4 1316.5L375.4 1457.7L315.8 1287.7L401.9 1418.9L265.7 1237.2L159.1 1376.3L210.8 1433.4L174.8 1447.2L288 1513.2L308.1 1145.2L264.7 1273.9L292.9 1372.7L292 1348.5L235.4 1329.6L442.2 1394.4L255.1 1423.5L235.2 1322.7L267.1 1294.5L396.6 1253.4L324.4 1421.8"/><path class="m3" d="M355.1 1238.2L237.3 1211.6L223.8 1230.2L266.6 1299.2L358.1 1262.1L319.3 1210.6L273.2 1265.1L528.4 1213L238.5 1242.8L300.9 1170.6L296.7 1196.4L344.1 1284L318.9 1186.3L239.8 1214.6L345.2 1164.8L323.3 1225.6"/><path class="m3" d="M287.8 1174.6L297.1 1265.8L252.1 1246L273.9 1272.5L350.8 1139.1L260.3 1189.7L233 1207.1L250.5 1257.9L329.6 1237.2L299.5 1269.1L347.5 1239.3L303.1 1254.9L295.8 1217.3L271.8 1232.9L335.2 1216.1L282.6 1254.5"/><path class="m0" d="M262.7 1165.8L289.6 1137.3L286.5 1069.1L299.4 1140.1L266.7 1083.1L272.9 1087.7L249.3 1056.9L311.3 1126.4L239.6 1250L271.2 1108.5L248.3 1227.4L338.2 1052.7L281.1 1121.8L341.8 1182.4L262.8 1131.1L235.7 1157.2L275.4 1192.5L192.7 1119.4L265.6 1132.3L351.2 1079.1L282 1112L233.6 1053.7L244.6 1165.7L284.4 1077.1L295.6 1121.9L384 1037.9L197.5 1110.8L220.8 1088.5L216.6 1110.6L234.4 1155.2L215.9 1177.4"/><path class="m1" d="M227 1343L277.9 1394.9L302.7 1328L283.4 1334.5L305 1396.1L294 1286.1L310.6 1194.5L384 1260.7L234.7 1263.7L190.1 1412.7L231.5 1374.4L423.7 1457.7L312.1 1384L276.5 1369.9L278.5 1253.1L298.2 1171.7L209 1319.1L253 1417L271.7 1384.4L419.3 1335.6L410.3 1165.6L373.1 1318L272 1274.6L327 1330L206.6 1421.6"/><path class="m0" d="M292.5 1123.1L278.1 1184.2L143.9 1132.7L311.1 1173.5L256.7 1237.1L324.7 1093.9L248 1078.6L264.1 1089.4L226.8 1196.2L206.9 1212.6L271.2 1122.1L164.2 1198.3L252.5 1109.4L267.2 1089.9L279.9 1097.6L319.4 1192.4L263.6 1109.4L266.8 1092.3L271.3 1169.3L273.7 1208.1L251.4 1159.8L215.6 1131.9L309.2 1136.8L234.3 1036.1L307.3 1149.7L249.3 1150.5L306.8 1074.6L345.1 1083.1L230 1026.6L174.8 1082.2L254.5 1171"/><path class="m0" d="M283.1 1085.7L174.5 1177.1L308.3 1075.4L258.9 1114.1L271.8 1152.8L308.3 1119.9L260.6 1173.5L285.9 1149.6L228.1 1178.2L298.9 1088.4L314 1064.1L221.6 1060.3L340.2 1340.4L267.7 1135.4L243.1 1128.2L289.9 1074.3L282.7 1187.7L291.8 1136.5L217 1088.4L223.2 1093.1L244 1155.1L359.7 1323.2L237.9 1118.9L308.5 1073.8L275.7 1169.5L258.5 1250.6L230.6 1053.1L237.5 1147.5L231.8 1171.3L253.9 1128.3L234.5 1236.4"/><path class="m3" d="M322.9 1307.4L329 1247.8L335.7 1301.3L327.7 1259L256.8 1214.2L259.9 1216L330.2 1282.6L318 1214.9L303.9 1246L272.6 1176.3L329.9 1246.5L352.7 1196.2L221.6 1229.5L224.9 1231.5L337.6 1323.4L268.1 1235.4"/><path class="m1" d="M220.5 1356.2L247.7 1393.5L412.2 1269.3L333.9 1426.3L337.6 1366.3L343.7 1372.7L273.2 1275.2L244.4 1364.9L282.9 1294.9L301.7 1459.4L306.7 1301.5L265.4 1528.2L230.9 1412.8L277 1269.7L206.5 1379.8L340.3 1358.7L316.9 1278L265 1391L196.2 1305.1L316.2 1315.2L284.2 1434.4L291 1470L249.8 1323.6L199.5 1396.2L263.2 1427"/><path class="m0" d="M221.9 1313.9L199.7 1001.7L356.4 1037.4L297.9 1131.7L241.3 1187L274.7 1122.3L229.8 1132.3L273.9 1098.9L249 1090.7L224.7 1057.5L248.4 1058.2L271.8 1059.4L277.7 1118.3L223.8 1057.9L322.5 1132.9L203.9 1176.9L246.2 1110.8L263.9 1082.7L218.3 1103.8L328.2 1134.1L341.2 1296.4L219.4 1205.6L253.5 1160.5L312.6 1109.8L283.8 1101.6L276.2 1130.6L171.4 1180.2L244 1139L183.4 1193.7L249.1 1107.6L272.7 1119.3"/><path class="m3" d="M292.7 1290.8L308.7 1217.1L430.8 1274.8L274.8 1208.8L271.7 1218.4L331.3 1250.1L221.3 1189L279.7 1250.2L392 1207.1L322.8 1171.8L434.2 1274.2L226.6 1245.7L226.2 1176.7L285.3 1155.1L311.8 1237.2L260.1 1197.6"/><path class="m1" d="M322.4 1318L221.1 1334.8L227.2 1279.8L412.9 1277.4L288.2 1374.3L227.2 1375.1L223.4 1394.5L355.3 1373.1L280.4 1354.8L400.8 1236.7L169.3 1322.2L365.7 1444.6L319.5 1436.4L274.1 1292.4L263.9 1351.7L410.2 1320.3L367.3 1145.9L181.9 1347L442.1 1320L238.7 1346.6L279.4 1444.5L245.5 1428.6L256.7 1451.5L301.2 1323L285.9 1461.7"/><path class="m3" d="M359.8 1247.7L230.5 1225.5L178.7 1175.8L320.4 1241.8L298 1191.5L326.4 1309.4L356.9 1225.7L375.4 1220.7L377.9 1256.9L296.8 1224.4L327 1289.1L264.2 1259.4L301.7 1154.7L313.6 1216.7L207.7 1254L343.9 1262.1"/><path class="m0" d="M348.5 1063.9L281 1142.2L246.1 1082.6L254.1 1090.7L312.4 1245.7L283.4 1120.7L332 1192.6L233.2 1103L244 1088L206.9 1116.4L281.4 1146L267.4 1099.2L225 1062.2L256.3 1105.3L259.4 1090.1L321.2 1319.1L318 1074.3L265.2 1107.7L239.7 1096.9L256.7 1288.4L224 1181.6L237 1135.1L279.1 1051.1L227.8 1057.8L271.7 1119.9L273.7 1207.3L294.2 1076L323.5 1084.2L311 1119.7L260.3 1112.6L366.3 1164.8"/><path class="m3" d="M409.9 1151.5L291.4 1285L329.8 1229.7L333.7 1241.9L290.7 1280.4L239.1 1166.6L328.1 1257.4L267.8 1267.9L306.6 1252.9L341.1 1245.1L292.1 1177.7L299 1209.1L231.7 1212.6L343.5 1225L318.6 1222.7L195.4 1181.2"/><path class="m1" d="M359.9 1338.4L264 1318.6L287.5 1396.8L322.2 1382.7L375.6 1559L312.2 1308.6L282.5 1549.9L237.7 1395.3L322.1 1430.5L317.8 1470.4L277.4 1350.9L331.7 1417.3L389.5 1266.7L333.5 1431.4L316 1229.6L240.6 1227.3L217 1297.1L294.1 1395.8L331 1360L164.5 1282.3L253.7 1360.6L344.6 1358.7L349.9 1419.6L273.8 1296.8L243.6 1355.7"/><path class="m1" d="M331.1 1308.2L280.7 1380.9L272.4 1303.5L298.9 1245.7L541.9 1406.4L278.4 1372.3L256.8 1411.8L393.1 1333.5L318.4 1487.7L228.6 1244.6L432.3 1223.3L402.5 1283.1L286.1 1352.5L258.4 1385.9L416.2 1189.9L298 1349L243.6 1401.4L210.7 1340L333 1368.5L370.1 1238L279 1328.6L342.5 1317.3L381.9 1189.6L346.8 1186.8L263.7 1356.2"/><path class="m0" d="M282.2 1207L334.5 1068.8L246.4 1109.8L236.9 1103.5L356.5 1167.9L278.2 1245.9L322.5 1075L304.6 1194.6L246.1 1251.2L297.7 1021.1L272.5 1142L240.1 1086.4L198.1 1137.9L247.7 1122.1L300.6 1207.2L275.7 1116.8L405.3 1351.4L273.1 1137.8L298.2 1152.3L300.2 1357.4L267.9 1147.4L403.3 1244.7L204.1 1156.6L247.7 1104L225.6 1111.6L241.3 1252.3L217.7 1153.9L180.3 1154.2L273.4 1110.8L271.3 1211.9L189.9 1085.9"/><path class="m3" d="M344.3 1267.6L286.5 1177.5L266 1224.1L269.7 1222.2L321.8 1194L240 1272.3L275.2 1198.1L206 1150.1L202.1 1205.3L346.2 1239.3L294.3 1275.8L274.4 1284.2L324.1 1258L214.4 1276.6L262.4 1237.4L295 1196.8"/><path class="m2" d="M495 1381.2L496.6 1378.9"/><path class="m3" d="M265.3 1177.7L317.1 1199.5L276.7 1220.9L243.7 1018.1L393.4 1172.8L302.1 1182.1L289.2 1297.8L250.9 1216.7L287.1 1250.1L376.8 1257.3L254.9 1258.8L278.5 1219.6L239.3 1235.2L201.9 1269.8L187.2 1220.4L288.4 1211.3"/><path class="m1" d="M256.6 1284.5L374.9 1241.3L235.9 1453.7L323 1288.5L392.8 1319.2L426.7 1214.5L190.1 1355.7L336.6 1250.9L248.7 1356.1L377 1334.9L235.5 1470.5L360.8 1271.6L333.1 1353.2L317.3 1332.2L284.3 1355.8L309.2 1553.2L344.4 1340.6L200 1401.6L301.8 1275.3L382.5 1301.2L159.3 1324.8L292.3 1346.2L381.4 1267.4L298.8 1317.8L358.2 1228.2"/><path class="m0" d="M270 1066.5L233.8 1080.8L241.7 1111.1L234.8 1083.7L247.9 1129.9L246.5 1103.8L195.5 1081.7L303.5 1153.3L220.2 1068L260.1 1090.2L235.4 1095.4L283.1 1195.6L315.4 1044.1L267.2 1052.1L174 1212.2L270.6 1129.3L304.2 1096.9L262.6 1060.9L262.5 1105.8L314.4 1088.1L171.5 1058.4L276.8 1141.8L291.3 1120.1L253.3 1141.9L227.8 1138.4L265.7 1135.7L265.3 1110L281.6 1153.1L284.5 1102.4L237.7 1038.3L234.5 1095.5"/><path class="m3" d="M304.5 1280.5L293.2 1245L294.9 1231.6L359.5 1269.3L326.9 1210L348.7 1299.2L355.3 1221.5L265.4 1256.4L283.3 1270.9L320.8 1188.7L316.6 1249.5L259 1187.6L277.2 1263.6L282.5 1235.3L318.5 1272.7L348 1227.3"/><path class="m0" d="M319.9 1092.4L250.7 1076.4L248.1 1123.4L338.9 1127.5L307 1052.7L270 1091.1L267.5 1395.3L334 1200.9L313.9 1166.2L201.1 1180.8L255.7 1209.9L263.6 1098.6L236.1 1099.6L276.2 1196L260.1 1138.1L292.9 1144.6L291.6 1082.5L218.7 1236.6L301.6 1093.2L188.2 1085.1L226.9 1102.2L270.5 1163L273.3 1153.2L329.4 1012.4L284.2 1242.9L314.2 1059.7L210.2 1171.2L345.5 1063L225 1115.6L299.1 1079.5L335.8 1146.1"/><path class="m1" d="M369.1 1210L363.3 1274.3L231.4 1280.3L359.5 1446.2L379.3 1325.7L348.7 1205L275.3 1507.2L330.3 1393.4L284.4 1374.5L246.3 1333.9L361.6 1363.7L268.2 1350.8L371.4 1250.2L376.3 1284L394 1261.8L360.2 1204.7L220.9 1424L302.1 1326.3L325.1 1218.5L276.7 1363.9L414.5 1308.1L293.2 1331.7L316.7 1347.4L344.8 1191.3L356.1 1249.8"/><path class="m2" d="M504 1157.5L509.4 1158.7"/><path class="m1" d="M340 1263.9L379 1425.2L387.7 1332.1L286.1 1358.1L262 1404.8L342.2 1275.5L265.1 1339.3L320.9 1440.8L335.4 1247.8L385.2 1287.1L270 1399.1L161.2 1366.9L333.7 1251.3L239.2 1278.1L356.2 1266.1L275.9 1385.4L371.7 1392.3L360.8 1234.6L382 1474.9L349.7 1465.6L358.5 1313.6L326.8 1458.7L190.5 1327.9L335.7 1302.8L375.8 1294.5"/><path class="m2" d="M517.1 1224.1L526.5 1154.2"/><path class="m3" d="M317.6 1262.4L401.8 1266.1L267.4 1238.5L259.3 1187.1L305.1 1283.3L345.9 1190.4L336.2 1236.9L283.5 1239.2L296.8 1279.4L290.3 1259L281.9 1265.8L352.3 1247.8L300.1 1247.8L209.2 1236.1L384.2 1251.6L287.1 1197.6"/><path class="m0" d="M307.9 1093.3L235.6 1142.4L256.9 1286.9L298.3 1191.5L216 1243.5L223.9 1128.9L224.6 1126.2L228.2 1247.3L343.8 1201.2L271.5 1097L265.5 1134.9L173.7 1230.1L178.4 1091.1L328.5 1155.5L241.6 1205.9L237.4 1075.9L199.7 1120.3L238.1 1096.9L326.3 1097.1L305.6 1214.8L257.6 1128.6L197.4 1188.7L218.6 1126L228.3 1034.8L211.9 1131.4L231.5 1144.4L337.8 1189.2L346.4 1085.4L284 1185.3L393.7 1244.3L238.9 1067.3"/><path class="m2" d="M530.6 1283.6L542 1272"/><path class="m1" d="M241.4 1445.5L305 1329.8L261.6 1385.3L234.9 1316.8L372.5 1329.3L316.9 1398.2L326.1 1377.3L370.9 1235.2L334.4 1203.2L307.4 1369.6L342.5 1269.9L375.3 1310.7L365 1258.6L342.2 1375.5L235.7 1320.1L462.3 1257.4L232.8 1404.4L389 1245.9L418.5 1329.3L331.9 1219.4L351.9 1213.4L205 1248.9L286.6 1336.9L305.4 1221.1L370.8 1200.7"/><path class="m0" d="M256.7 1097.3L308.6 1238L294.1 1216.4L309.7 1188.5L339.9 1174L292.4 1161.5L174 1202.5L255.7 1185.3L215.3 1181.2L271.8 1092.5L244.9 1181.8L250.1 1053.6L296.8 1124.4L198.3 1106.6L294.8 1102.7L308.9 1119.2L239.3 1174.5L208.6 1188.9L280.2 1131.3L325.2 1115.9L310.4 1056.7L304.8 1012.5L251.7 1164.2L243.7 1133.4L287.2 1070.4L334.5 1113.2L314.1 1097.2L237.8 1183.6L273.2 1097.6L309.4 1090.6L309 1331.2"/><path class="m3" d="M263.4 1251.9L336.9 1248.8L308.9 1238.6L309.2 1463.8L257.5 1198.3L241.4 1238.1L334.2 1378.8L281.4 1302.3L274.3 1200.9L221.5 1174L185.4 1374.9L315.7 1191.1L211.8 1207L301.4 1163.1L266 1173.6L292.4 1261.2"/><path class="m1" d="M367.5 1169.5L349.7 1274.5L338.9 1269.4L381 1224.5L357.3 1297.2L307.5 1473.7L187.2 1309.2L206.8 1351.8L292.2 1366.1L304.9 1418.2L225.1 1399.2L300.7 1348.5L245.5 1352.3L261.5 1341.4L330.3 1394.1L263.3 1364.4L218.9 1395.7L425.9 1310.8L373.9 1293.2L382.3 1257.3L317.1 1273.7L367 1265L378.7 1315.6L268.1 1337.9"/><path class="m0" d="M314.9 1178.6L284.9 1131.4L243.3 1166.4L269.6 1094L287 1065.5L243.9 1098.7L285.4 1084.8L319.5 1013L226.6 1104.5L243.6 1097.5L192.2 1139.4L334.6 1307.3L245 1231.1L236.5 1164.5L250.1 1074.6L251.2 1142.3L257 1120.9L217.4 1120.3L268.2 1129L285.6 1180.3L220.1 1155L180.8 1094.7L212.9 1299.9L368.7 1218.4L303 1086.2L280.9 1110.4L266 1036.2L240.7 1106.2L265.6 1165.6L308.8 1133L284.7 1190.1"/><path class="m2" d="M552.8 1193.7L559.8 1204.1"/><path class="m0" d="M188.4 1191.4L280.1 1077.4L263.1 1103.6L207.5 1176.5L214 1057.3L237.1 1146.4L253.1 1141.2L233.6 1193.6L231.5 1103.4L309.5 1063.5L254.1 1182L315.6 1110.1L254.7 1174.4L212 1141.7L310.9 1114.3L383.1 1218.8L274.8 1270.6L288.7 1134.8L360.6 1139.3L213.6 1251.2L281.4 1079.2L198.3 1234.1L351.8 1167.1L376.8 1050L204.3 1189.6L345.5 1095L251 1142L215.3 1159L246.5 1185.7L281.3 1083.9L317.3 1152.5"/><path class="m3" d="M323 1279.4L260.2 1096.8L292.1 1251.4L308.6 1242.2L292.9 1291.3L306.7 1265.9L323.7 1203.5L318.1 1305.7L197.9 1176.5L238.6 1166.9L314.9 1264.1L193.1 1212.1L397.6 1208L299.3 1217.8L251 1207.4L171.2 1249.4"/><path class="m1" d="M217.2 1372.1L361 1188.3L374.7 1460.2L331.3 1263.9L220.1 1366L297.2 1268.1L328 1278.9L340.3 1298.9L378 1316L382.4 1239.1L304.2 1404.9L316.7 1257.8L252.1 1376.8L247.1 1337.7L379.4 1274L265.4 1329.3L333.6 1338.4L363.6 1199.4L395.8 1223.1L322.1 1421L343.2 1203.3L323.7 1256.9L395.5 1364.7L324.8 1295.4"/><path class="m3" d="M236.7 1211L285.8 1233.9L366.4 1229.1L275.9 1250.6L203.1 1195L341.2 1203.4L229.7 1231.9L286.8 1257.4L310.8 1199L315.1 1300.5L316 1253.7L317.3 1244L234.1 1286.6L251.8 1251.1L201.4 1156.9L225.5 1181.6"/><path class="m2" d="M563.4 1042.5L576.7 1129.9"/><path class="m1" d="M394 1202.2L258.3 1376.9L278.8 1321.7L386.4 1243.5L221.1 1284.5L317.4 1452.4L287.3 1292.8L234.4 1300.8L321.1 1237.8L347.2 1275.6L327.1 1258.7L382.1 1303L371.6 1322.9L382.7 1281.9L434.5 1270.4L433.2 1256.1L273.1 1335.6L240 1530L255.8 1420L345.5 1263.5L287.1 1432.4L363.4 1239.6L322.5 1326.9L268 1490.6"/><path class="m3" d="M341.8 1198.7L245.5 1210.2L326.1 1185.6L288.8 1240.8L394.1 1266.7L338.3 1270.9L319.2 1237.5L367.4 1239.3L272.8 1263.2L159.8 1316.8L224.7 1169.4L305.5 1430.3L379.7 1234.7L343.4 1212.4L297.1 1140L302.8 1202.3"/><path class="m2" d="M581.4 1218.9L590.9 1280.5"/><path class="m0" d="M306.1 1092L250.1 1144.2L291.6 1096.8L287.7 1071.2L253.2 1300.1L272.3 1087.2L275.2 1106.6L285.4 1067.7L222.9 1065.1L209.6 1188.9L260.1 1120L281.5 1036.1L364.7 1102.5L249.6 1080.2L370.2 1110.9L311.3 1119.8L164.6 1091.9L311.5 1071.8L296.9 1233.1L247.4 1057.1L269.5 1118.8L270.6 1123.8L338.3 1167.4L193.6 1097.9L232.7 1087.9L282.4 1139L277.1 1105.6L300 1202.6L320.7 1277.3L336.9 1131.6L301.9 1087.1"/><path class="m0" d="M227.4 1117.3L254.7 1082L214.6 1116.1L230.8 1230.7L255.4 1139.1L319.6 1154.4L270.6 1034.9L305.7 1086.4L323 1040.8L246 1178L216.7 1074.1L249.9 1085L337.8 1125L299.8 1100.6L254.9 1107.8L280.2 1093L239.3 1175.3L226.1 1081L298.8 1073.4L294.2 1121.6L341.2 1137.1L268.6 1132.6L339.5 1101.7L395.5 1127.6L305.9 1137.9L284.7 1089.9L249.5 1158.4L308.5 1075.7L242.5 1111.5L246.7 1183.9L235.7 1128.8"/><path class="m1" d="M283.7 1334.9L183.8 1373L201.8 1528.9L325.6 1374.4L269 1433.7L372.7 1244.4L254.6 1415.5L246.7 1406.7L358.5 1188.5L256.4 1269.4L319.6 1430.8L374.3 1261.7L296 1400.9L353.3 1190.9L379.4 1272.6L355.4 1259.7L203.6 1330.6L189.1 1203.7L313.3 1304.5L388.4 1361.9L308 1428L352.5 1231.6L371.4 1394.3L302.3 1368.1"/><path class="m3" d="M273.1 1217.3L332.9 1251.2L320.3 1212.9L265.9 1248.3L255 1290.3L223.5 1165.7L303.4 1282.3L279.4 1269L297.9 1252.1L352.6 1238.2L303 1279.5L276.4 1248.1L269.3 1270.4L271.1 1246.4L269.4 1252.6L310.3 1236.2"/><path class="m2" d="M597.4 1211.9L611.3 1122.7"/><path class="m3" d="M312.9 1256.3L349.8 1225.1L237.5 1190.4L302.7 1178.6L313.1 1178.2L344.9 1186.6L359.7 1264.5L294.3 1241.9L276.8 1258.3L288.3 1272L244.4 1218.4L309.2 1060.1L254.6 1146.9L380.8 1248.7L335.2 1176.7L339.7 1197.7"/><path class="m1" d="M269.3 1413L293.5 1396.2L372 1267.5L342.2 1153L342.8 1491.1L337.1 1411.4L286 1350.2L345.5 1311.8L350.6 1300.9L347.2 1209.7L334.2 1260.1L306.6 1299.3L280.4 1429.4L344.9 1213.3L303.3 1331.3L358.3 1243.4L262 1362.4L229.2 1377.6L252.4 1353.1L431.4 1436.9L275.6 1317.5L272.9 1419.2L284.7 1321.8L287.5 1358.6"/><path class="m2" d="M613.1 1235.3L614.2 1069.2"/><path class="m0" d="M309.6 1117.8L283.9 1059.2L244.9 1146.5L281.8 1048.2L313.1 1161.2L265.4 1112.8L249.7 1174L255.1 1102.9L234.3 1118.3L231.7 1043.5L293.8 1159.9L212.1 1098.7L229.1 1226.2L331.4 1102.4L274.3 1141.4L282.7 1182.3L184.7 1130.5L163.9 1057.9L236.2 1268.1L297.8 1114.4L258.7 1123.2L272.5 1071.8L225.5 1098.8L248 1280.3L309.5 1195.4L177.6 1322.1L181.4 1241.3L298 1144.9L344.6 1169.1L243.1 1108.3L201.3 1187.1"/><path class="m0" d="M167.5 1197.5L296.3 1253.9L297.4 1093.8L259 1247.3L261.5 1116.8L319 1159.8L132.9 1222.2L294.1 1117.4L315 1035.2L227.4 1065.9L204.8 1139.6L231.2 1208.8L272.9 1112.6L282.1 1059.5L329.4 1023.9L269.7 1125.9L272.9 1115L320 1148.3L352.8 1391.3L205.9 1064L211.3 1142L264.6 1080.4L342.2 1176L246.6 1109.9L192.5 1167.7L282.4 1132L278.1 1203.3L244.9 1086.9L162.5 1230.8L217.1 1055.4L251.2 1068.8"/><path class="m1" d="M389.4 1224.6L329.7 1291.2L324.7 1294.7L172.5 1458.9L278.1 1443.1L298.1 1315.6L260.1 1388.5L357.1 1241.6L353.8 1217.3L394.6 1294.1L370 1410.4L251.1 1307.8L293.5 1252.7L229.8 1265.6L236.2 1328.6L342.8 1344L357.9 1286.1L343.6 1266.3L359.3 1232.5L363.2 1295.5L202.3 1390.5L254.7 1327.6L294.7 1432.4L336.5 1286.8"/><path class="m2" d="M625.5 1238.5L627.5 1270.6"/><path class="m3" d="M201.1 1265L342.7 1273L311.5 1212.2L333.9 1236.3L168.1 1233.7L409.3 1155.7L270.9 1220.4L250 1237.9L358.6 1187.7L347.8 1165.4L244.9 1273.9L278.4 1204.6L217.7 1169.8L265.9 1219.6L264.5 1224.1"/><path class="m0" d="M279.8 1167.3L289.9 1178.1L242.1 1127.9L273.3 1132.2L263.9 1086.9L297.4 1094.8L277.3 1092.1L347.2 1236.2L197.7 1252.7L375.8 1279.1L216.5 1142.2L299.3 1126.2L318.6 1098.1L168.4 1179.8L250.3 1116.6L223.9 1090.8L252.1 1140.4L357.1 1099.9L308.4 1123.7L173 1118.1L327 1158.6L249 1080L240.5 1047.5L251.4 1383L251.2 1160.3L267.1 1145.2L286.4 1198.1L204.7 1149.6L258.7 1133.4L220.5 1080.8L275.7 1137.1"/><path class="m1" d="M362.5 1237L403.2 1298.4L378.8 1223.1L355.2 1275.6L296.1 1430.7L244.1 1348.3L336.6 1197.8L387.3 1337.9L273 1391.4L309.7 1251.9L373.7 1284.6L230.8 1329.1L353.6 1253.3L308.8 1357.5L328.8 1200.2L353.6 1254.7L387.8 1250.1L352.6 1318L249.3 1252.3L252 1315.3L385.9 1226L350.4 1251.1L242.5 1237.1L268.1 1407.8"/><path class="m2" d="M629.3 1193.5L633.1 1225.2"/><path class="m1" d="M193 1409.1L434.6 1251.1L341.7 1205.6L348.6 1233L335.5 1183.5L245.4 1290.5L218.1 1329L397 1393.1L305.2 1412.7L370.5 1271.6L221.2 1232.9L268.7 1219.6L306.5 1358.4L254.6 1348.3L348.3 1293.2L285.6 1290.9L343.1 1240.7L303.3 1398.8L335.7 1314.7L257.4 1321.9L314.3 1435.7L253.7 1383L338.5 1266.7L317 1266.3"/><path class="m3" d="M413.5 1293.8L383.2 1177.6L316 1173.7L348.6 1149.6L307.3 1269.8L305.5 1224.5L261.5 1206.2L222 1259.8L292.4 1252.8L380 1280.2L256.8 1196.6L295.6 1239.6L291.8 1223L228.2 1346.2L242 1251.6"/><path class="m0" d="M288.2 1125.4L293.4 1069.2L268 1180.2L233.7 1104.6L184.5 1153.2L235.9 1142.7L350.5 1123.1L279.6 1060.9L262.8 1141.5L343.7 1111.4L278.7 1104.5L291.8 1131.2L264.6 1117.8L198.2 1215.8L240.1 1085.8L254.7 1152.5L240.5 1099.3L305.8 1139L252.8 1117.3L307.7 1072.9L258.2 1090.1L352.1 1001.2L248.8 1135.9L385.8 1220.7L284.1 1152.2L261.1 1105.8L320.7 1136.1L153.2 1163.1L225.5 1142.9L226.8 1141.7L267.4 1195.5"/><path class="m3" d="M330.2 1147.4L244 1282.4L281.6 1226.3L271.9 1196.3L317.4 1215.8L286.4 1195.2L288.5 1190.8L253.1 1238.4L274.5 1184.3L240.4 1280.5L284.8 1261.9L294.9 1363.6L289 1309.1L283.9 1244.3L340.1 1265.3"/><path class="m1" d="M271.7 1248.3L274.7 1390L291.9 1362.7L357.3 1256.6L252.6 1212.9L348.4 1256.1L276.9 1371.5L360 1278.1L338.8 1411.7L237.4 1471.9L245.7 1364.7L383.3 1267.1L180.6 1408.9L366 1276.4L297.6 1292.1L384.3 1290.5L371.5 1267L351.1 1306.5L343.6 1231.2L335.1 1206.2L257.4 1356.3L300.5 1433.8L265.3 1301.5L308.4 1421.3"/><path class="m2" d="M640.1 1287.9L640.1 1293.5"/><path class="m2" d="M641 1173.7L641.5 1222.7"/><path class="m3" d="M297.7 1205.3L259.3 1228.4L323 1278.3L245.2 1280.6L269.8 1245.3L322.6 1259.9L206.4 1223.1L196 1289.1L388.3 1149.5L260.1 1241.7L369.5 1209.3L412.7 1168.5L348.8 1184.3L391.2 1167.4L287 1294.2"/><path class="m0" d="M479.4 1172.5L245.9 1098.1L315.4 1208.4L295.2 1160.3L259.9 1123.9L315.3 1052.8L295.3 1072.5L204.1 1145.4L273.2 1093.5L209.3 1151.9L432.9 1159.5L267.9 1148.2L288.5 1090.3L266 1101.6L258.3 1335.1L269.6 1029.2L181.8 1158.5L266.2 1146.7L199.4 1210.3L243.2 1114.6L271.7 1126L260.8 1090.5L218.4 1095.4L346.4 1150.3L189.3 1108.3L194 1250.6L234.6 1199.5L224.6 1070.2L313.2 1269.8L312.5 1043.3L245.4 1085.6"/><path class="m1" d="M337.3 1254.2L337.9 1207.2L311.4 1288L382.1 1235.9L321.3 1375.2L359.1 1271L277.5 1419.3L324.3 1305.6L391.5 1508.2L293.1 1468.3L298.6 1344L249.6 1316.7L356.4 1264.3L263.9 1379.4L313.5 1379.8L313 1300.1L330 1327.4L338.3 1350.5L349.6 1273.1L339 1183.1L345.8 1216.7L370.3 1296.8L261.6 1436.8L318.9 1425.8"/><path class="m0" d="M284.9 1094.8L265.5 1115.8L313.2 1404.3L375.7 1174L235.4 1150.4L294.8 1132L296.1 1099.5L254 1335.8L491.1 1238.2L211.2 1068.3L298.1 1149.3L265 1044.5L306.2 1108.2L215.7 1088.9L324.9 1084.4L238.7 1136.3L322.6 1265L278.8 1087.4L283.3 1098.1L274.4 1068.7L271.4 1111.8L216.7 1183.1L287.8 1056.1L175.6 1258.5L272.9 1091.7L200.6 1208.1L271.9 1059.3L231.6 1170.4L214.6 1104.9L188.7 1133.1L260.5 1100.9"/><path class="m3" d="M320.6 1238.3L296.3 1220.6L367.5 1242.1L318.2 1233.1L337.4 1307.8L303.4 1242.8L357.3 1231.6L273.8 1246L308.2 1257.1L247 1321.3L322.9 1226.9L200.8 1182.4L329.5 1303.7L315.1 1199.7L223.5 997.4"/><path class="m2" d="M646.2 1105.9L646.4 1165"/><path class="m0" d="M183.6 1143.8L252.1 1103.3L232.6 1083.8L489.9 1192.4L318.5 1187.8L305.9 1147.8L231.7 1140.1L205.9 1208.8L225.8 1061.1L320.4 1127.1L245.1 1084.7L329 1079.7L274.5 1068.9L248.5 1122.9L314.7 1147.1L234.8 1103.1L256.3 1040.1L350.5 1036.2L259.1 1150.2L340.3 1135L315 1371.3L262.9 1194.9L236.6 1289.9L354.3 1303.2L260.6 1231.9L266.4 1207.7L289.2 1112.4L277.6 1119.6L252 1127.4L221.7 1121.8L277 1110.8"/><path class="m1" d="M374 1305L294.5 1258.8L278 1297L213 1397.1L399.2 1294.3L399.5 1514.8L352.6 1327.6L465.4 1117.4L296.6 1300.4L331.3 1305.3L333.9 1376.4L296 1509.7L293.7 1362.8L340.4 1183.4L363.2 1231.9L294.5 1417.6L373.3 1273.2L290.7 1420.5L305.5 1252.5L375.8 1262.7L277.3 1398.1L342.1 1172.3L355.8 1332.4L230.9 1442.7"/><path class="m2" d="M652.7 1251.5L654.7 1245.2"/><path class="m3" d="M228.1 1184.2L217.9 1282.9L239.9 1219.8L269.8 1204.9L231.2 1271.1L253.5 1207.5L247.8 1231.9L344.9 1261.2L301.2 1185L206.5 1240L375.1 1168.7L294 1267.2L341.2 1260L357.2 1259.5L269.9 1231.1"/><path class="m1" d="M203.2 1332.5L186.9 1407.4L303.3 1372.5L253.3 1390.8L317.4 1305.3L248.7 1445.9L277.7 1332.6L368.7 1307.1L332.9 1469.5L251.5 1398.5L311.2 1338.7L336.1 1175.4L364.5 1289.5L309.6 1432L322.1 1371.1L321 1389.2L366.1 1318.1L389.6 1267.3L271.8 1327.8L308.8 1426.5L264.7 1348.7L316.5 1468L367.4 1540.2L186.1 1362.4"/><path class="m2" d="M655.6 1207.2L656.1 1294.4"/><path class="m3" d="M237.5 1208.5L357.1 1399.9L164.9 1182.7L225.2 1212.6L383.7 1304.7L293.9 1257.8L345 1217.1L331.4 1213.6L169.7 1201.9L310.1 1224.2L256 1186.2L285.6 1209L297.2 1300.9L289.3 1225.9L308 1202.5"/><path class="m0" d="M292.8 1148.9L163 1205L252.1 1150.8L378.6 1151.7L283.6 1139.8L284.7 972.2L297.7 1116.3L158.4 1159.2L241.9 1117L224.8 1121.5L237.6 1072.4L214.1 1253.6L238.1 1120.3L191.9 1169.1L308.5 1141.1L241.1 1124.7L282.1 1022.4L280.1 1076L209.9 1093.5L229 1141.6L283 1377.3L259.9 1108L297.2 1134L187.7 1122.5L311.6 1074.1L270.8 1292.1L219.8 1190.4L235 1156.8L189.7 1172.1L284.9 1140.4"/><path class="m1" d="M215.8 1365.4L342.3 1391.2L351.4 1258.3L252.1 1391.8L341.5 1230.8L239 1307.2L252.6 1520.6L344.1 1246.1L443.9 1488.2L278.7 1421.6L385.4 1270.6L273.6 1446.8L367.2 1176.4L313 1280.1L348.2 1253.9L363.3 1271.2L377.4 1173.1L262.7 1393.2L307.6 1297.3L268.8 1263.1L268 1367.6L342.9 1232.8L189.3 1330.7L248.2 1416.1"/><path class="m3" d="M274.7 1206.5L293.6 1210.2L309 1268.6L267.2 1194.8L266.4 1277.1L309.3 1152.1L132.9 1205.4L254 1236L328.1 1229.2L235.8 1306.9L354.5 1247.6L307 1264.6L265.7 1259.5L340.7 1243L288.5 1181"/><path class="m2" d="M658.8 1184.7L662.2 1190.6"/><path class="m0" d="M225.7 1071.7L268.6 1077.3L281.1 1206.6L235.5 1126.3L298.7 1119.6L303 1242.8L272.8 1113.7L221.6 1095.8L337.3 1060.8L182.3 1159.2L251.9 1077.9L347.3 1310.3L283 1226.7L259.2 1070.7L209.1 1177.7L277.4 1076L288.8 1170.7L288.4 1084.2L171.3 1102.6L175.7 1157.9L235.5 1122.8L285.5 1078.9L236.2 1142.2L259.6 1144.2L319.1 1017.7L328.6 1125.1L340.8 1147.4L304.6 1158.6L259.9 1147.7L178.2 1196.7"/><path class="m0" d="M245 1110.9L288.7 1121.2L326 1126L227.3 1123.1L291.8 1140.8L202.8 1077.7L281.5 1146.2L248.6 1109.9L431.7 1190.1L282.7 1042.7L316 1107.6L314.4 1169.8L216.8 1181.2L349.2 1182L303.5 1087.2L286.6 1163.9L282 1017L314.8 1097.3L224.4 1116.3L273.4 1166L305.3 1144.2L297.4 1123.9L284.1 1087.8L162.4 1145.2L355.1 1135.4L286.3 1402.6L275.1 1157.5L251.2 1130.7L264.7 1106L255.7 1072.6"/><path class="m2" d="M663.1 1096.9L663.7 1263.4"/><path class="m1" d="M581.7 1312.4L327.4 1261L202.9 1408L261.2 1336.2L250.1 1316.5L492.9 1505L354.2 1308.5L296.3 1380.5L358.2 1443.2L282.2 1271.3L378.5 1243.2L270.9 1529L225 1371.5L352.3 1244.9L263.5 1408L256.2 1333.1L268 1314.4L381.3 1231.9L361.7 1230.1L277.9 1427L268.7 1349.7L191 1377L318.6 1371.2L358.6 1336.4"/><path class="m0" d="M252.7 1111.4L310.3 1056.3L182.1 1190.4L295.7 1083.3L207.2 1111.6L327 1113.6L279.3 1151L248.5 1195.9L342.1 1088.7L278.4 1133L347.5 1121.8L267.1 1112.5L235 1068.2L271.2 1278.7L241.9 1077.6L232.8 1074.9L237 1013.4L328.4 1107.1L280.5 1122.2L271.7 1165.7L282.4 1215.4L225.6 1193.9L351.4 1210.2L328.4 1101.3L203.6 1015.6L243.6 1116.9L269.1 1053.2L268.8 1121L317.4 1142.2L249 1106.1"/><path class="m3" d="M273.3 1256.8L363.4 1203L341.4 1175.4L156.1 1266.5L284.2 1218.2L300.4 1260.2L341.6 1127.7L228 1208.1L269.4 1204.4L298.8 1288.8L228.4 1274.2L295.7 1234.5L285.3 1231.2L270.8 1176.1L233.5 1241.1"/><path class="m2" d="M666.7 1248.8L668.7 1239.4"/><path class="m1" d="M272.6 1346.5L261.4 1418.4L270.7 1374.9L172.8 1484.3L324.2 1338.9L427.6 1326.6L211.8 1420.8L255 1442.1L327.2 1415.7L365.6 1274.1L241.4 1401.8L358.4 1278.9L370.7 1191.9L284.1 1291.4L251.3 1395.4L348.5 1252.6L369.3 1221.1L248.7 1353.6L358 1253.9L509.4 1508.9L303.8 1331.6L369.6 1246.9L280.6 1463L353.9 1307.1"/><path class="m1" d="M367.1 1167.6L362 1242.8L263.8 1351.8L350.2 1263.4L255.2 1444.6L362 1298.6L358.7 1312.7L374.3 1262.9L356.3 1316.2L249.1 1364.3L262.4 1363.8L344.4 1272.1L351 1238.6L320.3 1273.6L375.1 1174.2L339.6 1197.4L277.6 1229.4L336.2 1307.3L364.7 1289.2L344.9 1406.9L269.4 1479.1L348.2 1258L271.7 1231.7L245.9 1496.1"/><path class="m3" d="M371.4 1303.5L315.8 1237.4L286.9 1267.7L289.8 1308L295.6 1245.1L308.5 1277L253.3 1261L240.5 1257.7L223.3 1240.6L307.4 1266L196.2 1135.1L308.1 1237.6L264.7 1258.8L273.4 1221.4L336.1 1245.4"/><path class="m2" d="M671.6 1112.1L675.4 1224.1"/><path class="m0" d="M231.4 1087.7L236.5 1155.3L298.2 1065.7L176.4 1192L203.2 1218.5L180.6 1145.2L347.3 1183.1L282.2 1126.3L245.7 1068.5L279.5 1052.4L376.8 1038.5L256.7 1139.1L292.1 1122.4L241 1054.7L285.6 1096.3L297.7 1099.7L320.4 1185.4L210.3 1153.7L233.1 1178.9L382.9 1076.3L313 1175.6L304.5 1146.4L319.3 1196.7L203.8 1241.9L260.3 1059.3L235.5 1111.5L190 1106.1L200.9 1073.5L188.6 1167.2L317.5 1129.5"/><path class="m1" d="M323.9 1205.6L254.3 1240.9L241.1 1418.2L230 1331.2L269.9 1301.1L301.6 1320.1L313.3 1334.5L279.3 1332.2L294.7 1442.7L217.1 1319.6L325.9 1304.3L361.1 1183.4L345.1 1391.5L244.2 1423.3L350.2 1204.5L361.2 1282.8L283.8 1319.4L298.7 1373.2L326.3 1230.9L317.1 1362.7L280.7 1446.3L158.5 1461.5L344.5 1379.2L386.2 1372.8"/><path class="m3" d="M269.3 1279.1L288.1 1190.6L274.9 1164.8L385.5 1349.6L261.5 1340L303.6 1230.3L339.7 1292.1L328.6 1252.9L231.7 1182.5L204.7 1263.1L356.9 1255.9L290.4 1233.1L331.3 1265.2L278.8 1358L286.6 1198"/><path class="m0" d="M311 1195.7L213.8 1152.2L236 1115.4L223.5 1132.3L196 1191.4L216.6 1064.1L252.7 1089.1L308.5 1094.6L313.8 1102.1L306.7 1148L327.3 1091.6L234.8 1066L293.2 1192.7L274.7 1164.4L324.5 956.9L263.4 1080.6L272.5 1133.3L262.8 1205.8L248.3 1169.5L302.1 1081.1L263.5 1111.4L338.6 1052.5L275.6 1122.4L312.8 1184.5L214.9 1134.7L245.7 1093.6L308.6 1119.5L309.3 1184.4L211.5 1084.1L273.6 1117.5"/><path class="m3" d="M266.7 1253.3L261.1 1244.5L377.3 1258L342.4 1219.2L265.4 1158.5L326.3 1249.6L283.2 1172.2L228 1280L326.9 1246L252.6 1292.9L295 1207.2L331.8 1220L302.3 1252.9L276.1 1335L328.9 1257.9"/><path class="m1" d="M401.7 1249.2L292 1429.4L370.4 1250.5L272 1287.8L355.7 1251.8L363.3 1323.8L324.7 1401.1L289.8 1353.8L432.6 1326.3L346.4 1274.4L293.9 1187.7L341.7 1323.8L314 1406.4L435.3 1310.4L359.1 1226L306.8 1224L273.7 1494.5L279.9 1244.8L417.7 1241.4L351.2 1320.6L237.1 1327.4L376.6 1267.7L206.9 1448.5L313.7 1449.9"/><path class="m2" d="M680.2 1211.5L680.6 1117.1"/><path class="m0" d="M284.2 1134.6L292 1176.3L289.7 1130.9L330.8 1120.9L300.6 1138.4L212.2 1064.2L261.9 1075.4L258.8 1105.9L346.3 1080.6L255.3 1052.3L211.6 1266.6L217.5 1098L191.8 1251.7L324.2 1118.8L262.4 1125L194.7 1127.2L227.3 1081.1L270.2 1087.2L196 1022L223.4 1083.3L337.8 1119.4L220.4 1165.3L279.9 1157.3L265.2 1106.3L190.8 1192.8L325.6 1076.4L233.7 1207.8L286.6 1136.5L356 1130.9L229.6 1224.5"/><circle cx="684.4" cy="1094.2" r="5.15" fill="none" stroke="#00cd00" stroke-width="2.7"/><path class="m3" d="M248 1277L352.7 1386.1L437 1392.1L328.4 1246.8L302.2 1244.2L321.5 1063.9L315.2 1296.6L316.6 1233.8L298.2 1183.3L323.1 1262.8L259.7 1214.9L199.9 1329.1L351 1236.7L302 1204.8L282.5 1215.4"/><path class="m1" d="M356.6 1354.9L292.3 1272.6L290.8 1278.2L317.9 1387.8L209.7 1403.1L326.2 1448.3L333.1 1274.8L295.4 1312L223.5 1262.1L351.7 1262.3L337.1 1374.5L333.8 1271.7L346.9 1266.6L301.4 1417.5L333 1330.1L236 1373.2L335.4 1451.4L362.2 1327.6L166.4 1379.7L300.5 1396.3L282.2 1359.6L350.6 1247.1L363.7 1294.2L269 1414.4"/><path class="m3" d="M228.7 1290.6L405.3 1175.3L239.1 1213.5L280.9 1227.4L265.9 1210.1L293.2 1176.9L188 1211.3L218.2 1207.2L333.8 1237.1L284.6 1234L272.8 1228L245.2 1213.5L314.2 1136.1L266.5 1232.6L283.9 1271.3"/><circle cx="686.9" cy="1237.3" r="5.15" fill="none" stroke="#00cd00" stroke-width="2.7"/><path class="m0" d="M257.7 1142.8L301.3 1420.1L312.9 1198.5L266.1 1099.7L283.5 1057.6L285 1147L254 1125L181.6 1208L264.8 1095.4L167.5 1232.1L266.4 1137.1L349.4 1198.9L277.3 1056.1L347.5 1062.2L264.1 1091.6L337.8 1090L223.4 1060.4L414.3 1265.1L268.5 1180.9L300.5 1105L221.5 1106.7L225.7 1147.6L244.3 1170.4L279.1 1186.1L261.8 1134.7L283.6 1065.5L296.2 1166L355.5 1049.1L407.7 1078L277.6 1166.8"/><path class="m1" d="M343.2 1241.3L169 1494.6L273.4 1419.1L367.7 1206.3L347 1287.6L399.7 1396.2L344.7 1266.1L366.5 1197.9L346.6 1237.2L307.8 1401.1L335.4 1296.4L228 1379.8L311.1 1406.6L297.7 1365.4L371.1 1299.6L385.3 1358.9L349.9 1318.7L270.4 1323.2L285.8 1381.6L334 1191.4L339.3 1333.9L282 1403.7L414.7 1300.7L280.8 1364.3"/><path class="m0" d="M246.6 1084.9L293.7 1069.9L271.3 1144L232.3 1126.8L298.2 1084.2L277 1124.8L205.3 1143.2L275.6 1232.1L189.8 1195.4L338.7 1189.4L223.2 1064.6L245.9 1266.2L324.9 1186.9L207.1 1092.2L290.9 1176.4L256.6 1150.6L236.4 1097.2L263.6 1127.8L242 1134.6L307.8 1133.8L217.5 1127.2L277.8 1125.6L239.4 1210.7L256.2 1188.8L262.3 1155.4L323 1083.1L288.2 1126.8L238.8 1292.9L312.1 1070.5L301.8 1061.6"/><path class="m3" d="M389.2 1200.2L299.9 1247.2L360.6 1170.7L282.3 1200.5L324 1198.1L289.2 1173.5L248.8 1248.4L231.3 1233L262.5 1259L280.9 1278.1L249.5 1323L246.3 1223.4L308.6 1242.3L339 1227L241.7 1231.4"/><circle cx="690.7" cy="1235.1" r="5.15" fill="none" stroke="#00cd00" stroke-width="2.7"/><path class="m1" d="M321.1 1359.1L264.9 1417.8L264.8 1480.5L268.4 1380.6L290.7 1279.8L272.2 1332.7L377.5 1210.7L250.2 1502.3L286.7 1371.7L263.3 1313.6L371.2 1251.2L366.7 1248.8L336.8 1200.1L327.7 1429.3L370.6 1369.1L339.9 1223.8L245.4 1411.6L349.5 1269L214.4 1387.8L268.1 1422.7L277.5 1356.4L318.3 1293L349.8 1493.5L263.6 1310.1"/><path class="m0" d="M193.5 1103.5L211.4 1131.2L225.6 1150.2L211.6 1134.2L253.2 1086.3L286.7 1114.5L300 1102.7L345.8 1297.6L277.7 1136.4L308.6 1075.2L284.3 1030.6L262.7 1086.7L180.4 1152.8L214.1 1118.3L320.1 1118.6L262.9 1139.6L303.5 1079.4L279.3 1197.4L197.2 1170.3L305.8 1111.1L293 1168.4L308.1 1153.3L276.3 1168.4L211.3 1099.5L274 1145.2L358 1367.4L238 1143.6L258.2 1121.3L350.5 1033.2L308.1 1231.2"/><circle cx="693.6" cy="1263.2" r="5.15" fill="none" stroke="#00cd00" stroke-width="2.7"/><path class="m3" d="M411.5 1241.8L265.1 1288.9L166 1393.7L331.7 1248.9L384.8 1279.6L298.7 1246.5L369.6 1262.6L332.7 1231L353.5 1185.2L404.1 1250.9L317.6 1215.4L288 1217.2L194.9 1215.1L301.4 1260.7L418.5 1254.8"/><path class="m1" d="M245.2 1375.5L434 1304.6L209.7 1362L297.6 1485.9L374.5 1240.4L300.7 1371L318.9 1353.4L298.2 1259.9L224 1363.9L363.8 1200L365.5 1251.2L270.7 1344.8L344.2 1301.2L351.8 1248.2L365.2 1349.7L316.3 1483.2L351.4 1230.3L257.1 1308.7L310.4 1345.4L227.4 1392.1L334.3 1225.1L315.1 1332.2L260.6 1508.4L344.3 1341.4"/><path class="m0" d="M283.6 1155.2L363.8 1126.3L215.8 1050.4L242.7 1071.3L242.5 1199.8L229.4 1160.5L332.3 1258.2L226.5 1136.3L173.3 1158.9L300.2 1071.1L295 1115.2L325.3 1182.7L234.3 1087.9L286.7 1132.6L329 1183.5L279.7 1226.7L305 1115L326.8 1111.7L254.8 1092.4L239.7 1098.6L251 1098.6L203.1 1253.5L311.7 1080.7L257.9 1113.8L332.9 1109.5L329.9 1117.7L274.7 1205.7L341.1 1090.7L269.7 1119.7L305.3 1170"/><circle cx="695.4" cy="1176.7" r="5.15" fill="none" stroke="#00cd00" stroke-width="2.7"/><path class="m3" d="M347.1 1173.6L325.2 1233.6L356.3 1265.8L305.9 1193.5L276.4 1257.2L295.4 1200.9L391.3 1227.9L304.7 1328.7L302 1213.1L262.9 1207.6L382.3 1218.3L303.6 1196.6L226.9 1231.6L269.8 1267.5L289.7 1320"/><path class="m1" d="M384.1 1325.4L407.9 1257.7L294.6 1351.7L378.7 1171.4L381.7 1243.7L331.4 1371.1L220.3 1481.6L281.4 1400L264.5 1424.1L366.5 1273.6L398.9 1262.9L340.7 1342L277.9 1412.7L275.5 1367.8L368.4 1224.1L306.9 1266.4L357.1 1163L261.2 1267.8L255.4 1396.6L239.8 1249.8L237.9 1317.8L248.5 1369.3L238.1 1330.4L418.9 1328.3"/><circle cx="697.9" cy="1171" r="5.15" fill="none" stroke="#00cd00" stroke-width="2.7"/><path class="m0" d="M328.4 1149.3L207 1111.8L270.8 1101.3L197.1 1222.2L284.8 1156.3L244.4 1075.7L255.1 1146.5L203.2 1259.9L191.9 1123.1L156.8 1125.8L252.6 1088.3L255.3 1088.9L234.8 1057.5L235.2 1105.5L267.3 1119.4L253.9 1126.7L267.8 1175L228.8 1144.7L208 1086.2L183.4 1076.8L315.6 1073.3L186.3 1185L265.8 1323.4L266.2 1070L280.1 1241.5L243.8 1100.4L301.5 1084.1L319.2 1102.1L276.5 1100.7L320.2 1116.7"/><path class="m3" d="M346.7 1220.2L232.7 1174.8L328.6 1173.4L263.8 1192.4L280.2 1264.8L207.4 1265.2L292.7 1199.4L241.1 1215.9L316 1228.5L357.1 1159.6L351.8 1222.3L260.6 1229.1L239.9 1363.8L312.2 1271.8L292.2 1241.9"/><path class="m1" d="M296 1453.7L359.2 1204L306.9 1268L249.3 1329.9L372.8 1223L343.3 1151.4L320.8 1300.5L374.7 1234.5L210.4 1389L329.2 1332.6L317.1 1485.2L327.2 1211.1L302.8 1457.8L355.7 1392.5L328.6 1238.7L270.3 1389.4L255.5 1473.1L336.3 1248.1L295.6 1380.8L372.5 1251.4L341.9 1298.8L379 1256.7L352.9 1250.5L300.9 1234.2"/><path class="m3" d="M351.3 1253.5L246.6 1296.7L345.8 1161.9L292.5 1281.6L271.5 1219L334.2 1261.7L306.6 1207.7L273.7 1281.6L347.1 1222.4L266.7 1194.4L332.8 1163.1L242.4 1245.2L282.9 1236.7L261.4 1189.5L204.8 1238.6"/><path class="m0" d="M260.9 1140.1L220.9 1120.2L297 1014.2L321.1 1077.5L307.6 1132.5L335.9 1159L269 1163.8L241.5 1148.3L268.5 1121L297.5 1097.2L170.4 1179.8L242.2 1237.8L223 1054L263.4 1073.7L230 1194.1L309.2 1107.5L308.7 1115.9L221.4 1170.7L295.8 1124.8L345.6 1129.9L268.5 1134.5L226.6 1069.2L291.6 1141.3L261.8 1104L303.6 1075.9L242.2 1120.8L280.6 1079.3L277.8 1220.5L247.6 1111.7L210.7 1105.9"/><circle cx="700.8" cy="1177.1" r="5.15" fill="none" stroke="#00cd00" stroke-width="2.7"/><circle cx="700.8" cy="1221.6" r="5.15" fill="none" stroke="#00cd00" stroke-width="2.7"/><path class="m1" d="M362.5 1469.1L360.8 1248.3L350.3 1260.8L360.1 1176.4L337.2 1403.3L240.2 1393.1L414.6 1363L244.4 1410.8L357.2 1268.7L331.9 1189.4L329.6 1227.9L335 1287.1L313 1346.1L351.3 1304.2L361.9 1182.4L355.9 1461.9L331 1246L244.6 1273.8L269.6 1322.4L243.7 1349.5L295 1427.5L321.2 1436.9L358.2 1297.7L243.7 1482"/><path class="m1" d="M372.1 1282.4L291.4 1234.8L375.9 1212.5L216.6 1378.9L361.6 1336.3L192.5 1358.7L333.8 1257.5L271.5 1417L271.5 1350.6L360.4 1364L232 1448.2L357.2 1233.9L336.8 1337.3L307.4 1444.2L370.5 1316.2L277.3 1398.2L351.3 1289.3L342.9 1210.3L317.9 1228.6L344.2 1260.7L249.1 1393.3L125.5 1128.9L314.5 1379.2L388.6 1431.8"/><path class="m3" d="M250.5 1225.3L342.9 1238.2L340.1 1228.7L278 1173.7L228.7 1204.6L309.3 1252.2L302.5 1228.7L206.1 1204.1L293.7 1308.3L162.8 1202.8L263.3 1200.6L369.2 1238.2L337.3 1209.1L318.3 1258.3L231.2 1280"/><circle cx="708" cy="1176.9" r="5.15" fill="none" stroke="#00cd00" stroke-width="2.7"/><path class="m3" d="M338.4 1223.1L185.2 1226.4L322.4 1182.2L225.9 1245.3L369.1 1212.5L385.9 1262.4L352.1 1230.6L331 1256.4L333.2 1265.6L232.2 1133.5L341.6 1257.2L253.6 1214L258.9 1202.5L338.4 1236.1L286.4 1228.6"/><circle cx="711.4" cy="1143.8" r="5.15" fill="none" stroke="#00cd00" stroke-width="2.7"/><path class="m3" d="M244.8 1231L271.6 1193L302.6 1236.7L232.6 1220.6L276.6 1262.7L258.6 1242.9L155.9 1262.1L264 1212.7L336.3 1214L228.8 1338.1L250.2 1192L435.2 1215.2L382.3 1215.8L281.7 1188.5L283.3 1222.4"/><circle cx="715" cy="1162" r="5.15" fill="none" stroke="#00cd00" stroke-width="2.7"/><circle cx="716.6" cy="1157.5" r="5.15" fill="none" stroke="#00cd00" stroke-width="2.7"/><circle cx="720" cy="1291.5" r="5.15" fill="none" stroke="#00cd00" stroke-width="2.7"/><circle cx="724.5" cy="1206.8" r="5.15" fill="none" stroke="#00cd00" stroke-width="2.7"/><circle cx="726" cy="1176.4" r="5.15" fill="none" stroke="#00cd00" stroke-width="2.7"/><circle cx="777.3" cy="1214.2" r="5.15" fill="none" stroke="#00cd00" stroke-width="2.7"/><circle cx="790.8" cy="1168.6" r="5.15" fill="none" stroke="#00cd00" stroke-width="2.7"/><circle cx="845.5" cy="1216.2" r="5.15" fill="none" stroke="#00cd00" stroke-width="2.7"/><circle cx="367.4" cy="1388.8" r="5.15" fill="none" stroke="#00cd00" stroke-width="2.7"/></g>
<rect x="95.7" y="888.6" width="778.2" height="696.8" fill="none" stroke="#000" stroke-width="2.7" stroke-linejoin="round"/>
<path d="M137.8 1585.4v14.5M260.2 1585.4v14.5M382.7 1585.4v14.5M505.2 1585.4v14.5M627.6 1585.4v14.5M750.1 1585.4v14.5M872.5 1585.4v14.5M95.7 1534.1h-14.5M95.7 1381.2h-14.5M95.7 1228.3h-14.5M95.7 1075.4h-14.5M95.7 922.5h-14.5" stroke="#000" stroke-width="2.3" fill="none"/>
<text x="131.7" y="1627.8" class="t">-4</text>
<text x="254.1" y="1627.8" class="t">-2</text>
<text x="382.7" y="1627.8" class="t">0</text>
<text x="505.2" y="1627.8" class="t">2</text>
<text x="627.6" y="1627.8" class="t">4</text>
<text x="750.1" y="1627.8" class="t">6</text>
<text x="872.5" y="1627.8" class="t">8</text>
<text transform="translate(74.8 1540.2) rotate(-90)" class="t">-4</text>
<text transform="translate(74.8 1387.3) rotate(-90)" class="t">-2</text>
<text transform="translate(74.8 1228.3) rotate(-90)" class="t">0</text>
<text transform="translate(74.8 1075.4) rotate(-90)" class="t">2</text>
<text transform="translate(74.8 922.5) rotate(-90)" class="t">4</text>
<text x="484.8" y="1664.6" class="l">LD1</text>
<text transform="translate(42.1 1237) rotate(-90)" class="l">LD3</text>
<text x="115" y="960.8" class="p" style="font-size:77.6px">c</text>
<rect x="764.6" y="1471.4" width="109.4" height="114" fill="#fff" stroke="#000" stroke-width="1.3"/>
<circle cx="779.4" cy="1488.4" r="5.15" fill="none" stroke="#000000" stroke-width="2.7"/>
<text x="793.4" y="1497.9" class="g">Alder</text>
<circle cx="779.4" cy="1515.4" r="5.15" fill="none" stroke="#ff0000" stroke-width="2.7"/>
<text x="793.4" y="1524.9" class="g">Hazel</text>
<circle cx="779.4" cy="1542.4" r="5.15" fill="none" stroke="#00cd00" stroke-width="2.7"/>
<text x="793.4" y="1551.9" class="g">Larch</text>
<circle cx="779.4" cy="1569.4" r="5.15" fill="none" stroke="#0000ff" stroke-width="2.7"/>
<text x="793.4" y="1578.9" class="g">Birch</text>
<path d="M762.6 1585.4H874V1469.4" fill="none" stroke="#000" stroke-width="2.7" stroke-linejoin="round"/>
<path d="M1105.4 1470.6L1314.4 1137.8" stroke="#000" stroke-opacity="0.27" stroke-linecap="round" fill="none" stroke-width="4.3"/>
<path d="M1314.4 1137.8L1686.7 1292.9" stroke="#000" stroke-opacity="0.27" stroke-linecap="round" fill="none" stroke-width="4.3"/>
<path d="M1314.4 1137.8L1275.6 870.9" stroke="#000" stroke-opacity="0.27" stroke-linecap="round" fill="none" stroke-width="4.3"/>
<text x="1150" y="1310" font-size="17" transform="rotate(11 1150 1310)" style="fill:#b0b0b0">LD2</text>
<g><path class="s1" d="M1290.8 1247.9L1344.8 1215.5L1352 1214.7L1333.9 1216.4L1315.4 1297.5L1325.3 1257L1354.3 1233.6L1335 1296.7L1313.5 1260L1292 1209.7L1318.8 1273.7L1296.4 1278.7L1279 1218.6L1310.2 1308.5L1273.9 1225L1289.4 1190.7L1330.6 1260.1L1317.8 1256.3L1264.1 1243.1L1277 1197.4L1314.3 1241.6L1310.5 1218.6L1301.7 1229.5L1328 1240L1326.3 1273.1L1355.5 1335.7L1315.5 1220.8L1324.3 1253.7L1369.8 1213.2L1360 1235.2L1311.1 1238.8L1345.1 1241.2L1368.4 1252.6L1321.6 1243.2L1322 1191.2L1306.5 1208.2L1338.5 1223.6L1401.3 1233.4L1367.8 1262.3L1303.6 1237.6L1308.7 1289.6L1348.4 1331.8L1318.2 1253L1330.1 1215.1L1275.7 1225.7L1297.8 1238.9L1272.5 1214.9L1310.9 1247.8L1382.2 1300.1L1378.4 1233.5L1379.7 1293.1L1343.2 1208.3L1324.8 1212.9L1288.3 1223.2L1399 1269.8L1347.3 1231.8L1336.8 1216.8L1342.2 1231.2L1316.1 1231.6L1301.1 1228.7L1311.6 1200.9L1356.1 1230.7L1327.1 1212.7L1341.3 1185L1323.4 1249.7L1326 1259.3L1330.7 1189.3L1304.5 1231.8L1324.6 1252.8L1365 1234.8L1298.4 1224.4L1330.9 1285.4" fill="none"/><path class="s1" d="M1333.1 1220.1L1324.8 1233.3L1352.1 1250L1361.9 1218.8L1413.3 1286.5L1357.7 1235.8L1337.5 1208.8L1290 1188.9L1286.3 1224L1331.6 1257.3L1331.6 1206.3L1335.4 1272.7L1318.7 1273L1323.9 1224.4L1404.6 1205.7L1340 1237L1287.9 1256.6L1344.7 1223.9L1440.8 1320.2L1346.3 1231.8L1343.2 1275.7L1326.4 1205.9L1333.5 1239.8L1333.8 1200.2L1324.2 1174.6L1308.4 1222.6L1429.7 1319.3L1305.8 1242.6L1341.3 1250.3L1315.5 1277.7L1346.4 1259.2L1298.2 1190.4L1362.8 1221.3L1279.7 1198.3L1361.5 1190.6L1297.1 1251.8L1291.7 1221.8L1286.7 1218.9L1315.4 1202.5L1288.6 1200.9L1329.6 1176.9L1367 1219.8L1372.1 1247.3L1327 1253.7L1346.2 1230.4L1399.8 1208.1L1298.8 1216L1346.9 1226L1316 1312.8L1316.7 1294L1278.9 1165.9L1312.2 1224.5L1304.5 1225.3L1314.1 1220.6L1314.5 1257.6L1295.5 1181.5L1362.3 1198.2L1355.1 1240.9L1369.3 1249.3L1326.1 1216.4L1334.1 1235.3L1277.9 1228.1L1328.2 1181.7L1334.9 1231.5L1325 1168.2L1294.2 1191.1L1309.4 1218.6L1299.1 1215.6L1340.2 1205.8L1303.1 1197L1371 1255.2L1316.4 1214.4" fill="none"/><path class="s0" d="M1325.7 1181.3L1328.7 1245.5L1320.3 1212.4" fill="none"/><path class="s1" d="M1329.1 1238.7L1310.6 1237.1L1322.9 1209.3L1311.3 1215L1337.1 1197.2L1343.9 1228.5L1318.1 1250.5L1326 1247.8L1327.1 1264.6L1343.5 1196.6L1307.9 1207.5L1345.2 1219.4L1309.7 1238.8L1297.2 1231.7L1309.6 1206.9L1307.6 1227.9L1317.7 1209.5L1290.4 1203.9L1339.5 1188.6L1281.4 1203.7L1319.6 1236.6L1259.7 1224.2L1337.2 1242.2L1328.3 1234.9L1306.3 1217.9L1277.7 1209.1L1302 1198.1L1332.3 1231.3L1297.7 1201.9L1353.2 1237.6L1342.9 1248.9L1315.9 1235.6L1362.2 1285.9L1316.6 1255.3L1296.3 1218.4L1348.6 1238.3L1300.7 1220.6L1262.9 1182.1L1341.7 1207.4L1338.7 1230.3L1289.7 1198.5L1316.8 1239.1L1333 1268.1L1331.6 1210.9L1336.1 1192.5L1329.1 1217.1L1288.8 1162.7L1334 1263.2L1352.1 1233.1L1391.8 1208.2L1341.7 1300.5L1281.4 1186.2L1315.1 1226.8L1360.7 1227.8L1345.7 1222.5L1277 1171.5L1315.6 1203L1312.2 1235.1L1289.7 1230.1L1321.3 1215.1L1256.9 1240.4L1266 1175.1L1287.6 1213.9L1308 1260.8L1325.7 1215.3L1271.8 1220.5L1291.9 1146.5L1354.5 1239.9L1331.2 1244.5" fill="none"/><path class="s0" d="M1371 1219.7L1346.4 1174.4" fill="none"/><path class="s1" d="M1327.1 1212.3L1287.4 1206L1348 1214L1300.4 1168.8L1365.7 1226.3L1347.1 1193.3L1306.4 1251.7L1329.6 1202L1353.2 1222.5L1323.7 1274.3L1336.2 1230L1339.5 1221.1L1317.8 1212L1332.8 1225L1314.5 1215.9L1331.8 1193.5L1333.7 1218.8L1351.6 1252.6L1340.2 1225.7L1305.7 1234.3L1331.4 1262.6L1288.9 1246.8L1340.2 1220.6L1263.2 1235.7L1281.7 1203.2L1315.8 1209.1L1299.1 1163.1L1318.2 1227.7L1287.7 1203.9L1340.1 1250.4L1299.7 1223.8L1308.1 1251L1294.3 1205.6L1356.5 1220.4L1340.1 1190.6L1282.7 1173.4L1303.6 1172.2L1371.9 1274.1L1296.4 1195.4L1355.2 1267.7L1308.9 1210.9L1316 1153.5L1310.9 1225.9L1316.3 1179.2L1292.8 1188.7L1300.1 1232.8L1321.9 1180.1L1387.8 1257.2L1341.6 1232L1312.4 1193.7L1327.4 1208.8L1318.8 1214.6L1293.4 1207.4L1264.6 1203.5L1350.6 1262L1295.4 1237.2L1327.4 1334.8L1348.6 1217.3L1383 1221L1277.6 1135.1L1380.8 1166.3L1325.9 1175.6L1328.9 1268.3L1347.7 1169.3L1351.6 1193.2L1295.3 1205.4L1292.8 1174.1L1308.3 1257.9L1320.4 1283.7L1316.1 1265.3" fill="none"/><path class="s0" d="M1315 1244.5L1329.6 1250.4L1285.8 1139.9L1351.1 1232L1322.1 1218.5" fill="none"/><path class="s1" d="M1295.2 1236L1357.9 1214.5L1346.4 1189.5L1311.2 1209.4L1364.4 1204L1328.6 1285.5L1297.6 1206L1361.7 1216.4L1335.8 1265.8L1343.3 1218.1L1339.6 1177.4L1326.7 1238L1309.7 1221.8L1341.4 1154L1286.5 1208.4L1329 1207.5L1288.6 1212L1285.8 1238.2L1336.7 1329.2L1343.1 1204L1385.3 1226L1329.8 1193.4L1315.4 1178.1L1356.6 1201.7L1357.4 1230.8L1338.4 1207L1325.5 1200.7L1347.1 1235.7L1332.1 1174.8L1328 1133.1L1309.5 1219.3L1318.5 1196.3L1324.2 1207.8L1424.6 1230.6L1343.5 1217.4L1316.2 1213.7L1352 1205.5L1270.3 1197L1405.6 1189.6L1320.7 1225.7L1361.1 1263.2L1298.3 1234.5L1327.7 1201.2L1310.4 1242.5L1371.2 1241.3L1341.2 1257.1L1319.3 1213.9L1350.8 1178.3L1303.3 1244.4L1359 1215.6L1295.7 1241.5L1337.8 1239.1L1314.5 1210.3L1302 1242.7L1325 1228.8L1285.5 1208.4L1281.3 1211.9L1318.3 1168.7L1313.7 1252.2L1303.8 1244.8L1291.1 1174.5L1312.3 1207.5L1333.3 1203.5L1384.4 1208.1L1332 1194.3L1293.6 1131.7L1343.6 1180.1" fill="none"/><path class="s1" d="M1328.7 1171.8L1341.7 1223L1327.1 1201.7L1348.8 1177.4L1357.4 1246.2L1354.1 1215.9L1316.3 1217.8L1318.8 1191.9L1290.4 1228.5L1306 1190.1L1279.8 1165.7L1304.6 1200.7L1306.5 1201.5L1338.9 1235.8L1330.5 1279.5L1378.5 1205.8L1323.8 1200.7L1317.3 1252.1L1300.2 1202L1348.5 1248.9L1294.8 1217L1321.9 1194.7L1388.4 1187.6L1322.5 1226.5L1312.4 1162.7L1377.9 1314.3L1314.2 1172.6L1302.7 1153.6L1328.7 1283.1L1314.7 1198.7L1356.5 1206.9L1322.5 1176.3L1302.5 1195.6L1342.9 1229.5L1305.7 1215.9L1316.4 1195.6L1333 1217.4L1315.2 1234.1L1309.6 1208.8L1319 1175.2L1342.7 1215.7L1328.7 1224.8L1384.7 1226.6L1325.2 1229.9L1323.3 1211.6L1337.4 1197.5L1378.5 1257.3L1265.1 1237.6L1336.7 1229.6L1336.2 1177.8L1325 1219L1281.7 1196.3L1307.2 1236.2L1302.3 1173.1L1280.6 1180L1350.5 1195.7L1335.5 1237.3L1370.8 1189.6L1319.9 1204.6L1348.4 1214.1L1335.4 1214.1L1294 1249.8L1313 1158.5L1318 1200.5L1313.5 1193.6L1347.4 1240.8L1296.9 1181.8L1327.6 1251.9L1400.1 1247.8L1282.5 1249.2L1295.2 1214.7L1316.1 1175.9" fill="none"/><path class="s0" d="M1339.6 1109.5L1360 1234.1L1323.1 1249.2L1344 1191.1L1378.7 1109.2L1289.4 1177.2" fill="none"/><path class="s1" d="M1317.3 1231.5L1391.1 1223L1373.2 1270.5L1366.6 1193.4L1342.8 1200.8L1343.8 1185.5L1291 1207.6L1323.7 1184.7L1365.4 1226.4L1330.2 1179.7L1308.2 1183.8L1366.3 1175.8L1367.8 1195L1345.9 1234.4L1280.9 1238.2L1355.8 1222.6L1344.5 1184.7L1298.7 1213L1285.4 1152.1L1315.2 1166.8L1324 1212.7L1282 1197.8L1353.9 1219.2L1340.1 1257L1313.1 1146.7L1349.6 1189L1338.4 1242.7L1303.4 1221.2L1350.3 1190.4L1317.5 1261.2L1316.2 1219.6L1327.7 1261.6L1337.2 1222.7L1316 1225.5L1262.2 1193.6L1280.9 1193.7L1289.3 1228L1310.2 1234.7L1338.8 1193.4L1458.9 1291.3L1278.3 1247.1L1362.1 1195.8L1335.5 1127.2L1343.1 1198.7L1350.2 1221.4L1332.3 1235.5L1323.6 1263.1L1305.5 1217.9L1344 1214.2L1318.1 1199.6L1323.9 1235.1L1329.7 1183.7L1310.4 1176.5L1358.7 1229.6L1319.3 1173.6L1328.4 1199.4L1316 1229.9L1268.7 1134.2L1360.6 1147.6L1260 1193.5L1354.9 1206.4L1316.8 1188.3L1356.5 1196.6L1287.8 1201.9L1367.3 1159.8" fill="none"/><circle cx="1202.9" cy="1292.1" r="2.3" fill="#0000ff" fill-opacity="0.45"/><path class="s0" d="M1377.7 1188.3L1289.4 1209.2L1376.5 1175.8" fill="none"/><path class="s1" d="M1303.3 1170.3L1334.9 1197.6L1293.7 1185.6L1290 1194.6L1312.6 1200L1349.8 1204.5L1341.7 1263.9L1303.3 1186.5L1348.2 1214.3L1313.5 1208.7L1291.9 1160.1L1306.4 1214.9L1368.7 1210.8L1346 1160.8L1324.2 1156.8L1367.9 1198.4L1271 1195L1316.1 1164.4L1380.2 1208.4L1346.5 1199.9L1365.7 1212.4L1318.7 1189.7L1326.5 1230.7L1281.6 1211.3L1322.6 1193.2L1338.6 1220L1282.5 1213.3L1386 1183.7L1311.2 1217.9L1347.2 1186.8L1328.7 1272.5L1364.1 1189.1L1359.1 1199.2L1364.3 1146.4L1410.2 1202.7L1385.1 1254.1L1306.7 1197L1348.9 1226.4L1361.1 1177.4L1324 1161.5L1388.9 1187.2L1365.7 1251.8L1368.2 1183.4L1322.7 1132.9L1349.1 1183.9L1298.8 1215.9L1382.5 1203.2L1386.1 1202.5L1333.8 1163.1L1378.8 1199.7L1300.1 1155.4L1319 1214.2L1382.8 1192.7L1346.6 1195.9L1416 1202.2L1292.1 1248.2L1376 1173.8L1326 1215.5L1307.6 1228.3L1334.4 1227.5L1328.5 1199.4L1331.1 1258.8L1359.4 1218.2L1291.5 1195.1L1288.4 1213.3L1390.4 1170.1" fill="none"/><path class="s2" d="M1337.9 1290.4L1428.9 1280.3" fill="none"/><circle cx="1266.8" cy="1356.5" r="2.3" fill="#0000ff" fill-opacity="0.45"/><path class="s0" d="M1320.3 1228.9L1336.8 1068.4L1338.8 1238.1L1292.7 1112.4L1296 1218.3L1279.1 1238.3L1325 1157.3L1285.1 1122.5L1287.5 1147" fill="none"/><path class="s1" d="M1302.8 1212.3L1354.6 1196.1L1380.3 1219.1L1342 1178.8L1308.4 1211.7L1373.2 1176.1L1367 1230L1247.8 1231.5L1290.7 1160.5L1363 1217.3L1319 1237.7L1228 1222.3L1370.1 1187.6L1366.6 1176.4L1298.8 1197.6L1365 1213.6L1372 1234.9L1289.3 1219.3L1303.4 1210.6L1340.6 1189.7L1363.7 1204.7L1357.7 1185.7L1377.2 1176.6L1336.5 1141L1366 1202.3L1328.5 1175.7L1321 1209.9L1344.9 1145.3L1306.2 1191.4L1355.1 1212.8L1292.5 1157.9L1346.6 1118.8L1316.6 1223.6L1326.6 1176L1387.8 1188.2L1314.8 1229.1L1330.2 1233.2L1396.2 1213.3L1336.8 1160.1L1357.1 1175.1L1338.9 1190.2L1306.8 1195.3L1382.4 1171.6L1336.8 1159.4L1295.5 1181.9L1362.2 1208.5L1288 1208.1L1349.1 1202.6L1353.7 1217.9L1336.6 1186.8L1316.2 1213L1313.8 1184.7L1371.9 1201.2L1294.4 1219.2L1376.6 1198.5L1370.7 1176.1L1289.8 1171.1L1372 1216" fill="none"/><circle cx="1414.9" cy="1303.7" r="2.3" fill="#00cd00" fill-opacity="0.48"/><path class="s3" d="M1237.9 1422.8L1229.4 1384.1L1198.4 1311.2L1298.2 1314.8" fill="none"/><path class="s0" d="M1325.1 1230.2L1304.9 1112.8L1267.9 1260.9L1355.6 1198.4L1276.7 1142.5L1296 1192L1319.2 1166.7L1359.5 1282.1L1266.1 1116.9L1378.1 1046L1335.7 1132.6" fill="none"/><path class="s1" d="M1334.7 1204.4L1357.9 1204.3L1302.6 1162L1342.6 1187.1L1354.1 1195.2L1291.5 1217.1L1351.1 1164.9L1345.1 1191.2L1296.4 1152.1L1341.7 1254.6L1371.1 1211.5L1351.6 1192.7L1306.9 1197.5L1344.7 1191.4L1337.1 1208.3L1310.7 1232.4L1375.7 1192.4L1300.5 1209.3L1341.5 1208.7L1367.4 1197.5L1287 1132.3L1348.5 1152.8L1364.2 1197L1315.2 1193L1354.3 1214.7L1392.8 1190.4L1382.9 1252.4L1343.6 1234.2L1297.1 1155.3L1349.9 1165.2L1323.6 1194.5L1355.5 1230.2L1325.9 1164.4L1353.5 1185.2L1323.2 1173.7L1375.6 1166.5L1369.8 1162.4L1386.3 1187.9L1341.2 1125.2L1302 1152.7L1315.6 1172.9L1382.9 1165.5L1321.3 1221.8L1369 1184.9L1322.6 1209.3L1366.8 1209.8L1356 1198.6L1386 1137.8L1286.4 1183.9L1391.2 1198.3L1320.7 1192.6L1350.4 1161L1365.5 1200.7L1369.4 1169.3L1300.5 1134.2L1372.8 1141.7L1309.8 1259.8L1398.7 1223.3L1333.9 1166.5L1359.7 1260.4" fill="none"/><circle cx="1300" cy="1335.9" r="2.3" fill="#0000ff" fill-opacity="0.45"/><path class="s0" d="M1303.5 1146.9L1289.5 1202.9L1349 1119.2L1346.6 1084.5L1376.1 1048.1L1244.4 1232.5L1290.8 1178.7L1302.3 1133.8L1265.8 1223.4L1338.3 1121.2L1280.6 1151.6L1300.9 1194.8" fill="none"/><path class="s1" d="M1389.9 1206.8L1349.4 1193.5L1346.3 1174.6L1322.3 1173.3L1366.8 1174.2L1379.5 1187.4L1301.2 1200.6L1367.3 1196.7L1304.6 1180.7L1273.5 1192.3L1379.6 1254.6L1326.7 1219.1L1308.4 1183L1367.3 1190L1292.1 1191.8L1338.2 1148.5L1313.3 1166.2L1306.2 1151.2L1405.1 1219.3L1359.8 1210.1L1367.5 1145L1368.7 1159L1296.5 1219L1381.1 1143.9L1325.9 1204.3L1368.2 1210.1L1351.5 1202.1L1363.1 1169.9L1318.8 1207.1L1364.8 1171L1390.1 1174.5L1374.3 1180.5L1359 1176.9L1367 1222.6L1354.7 1168.8L1380 1193L1317.9 1195.8L1358.3 1184.5L1325.3 1189L1347.2 1181.6L1371.4 1195.5L1369.5 1179L1267 1152.2L1339.7 1268.5L1353.7 1187.9L1371.1 1170.4L1354.8 1179.5L1346.5 1189L1363.8 1192.4L1368.9 1202.4L1336.3 1229.9L1361.5 1194.7L1383.3 1263.3L1298 1184.7L1362.8 1216.4L1366.1 1135.9L1328.6 1213L1366.8 1189.6" fill="none"/><path class="s3" d="M1221.1 1329.2L1259.1 1328.6" fill="none"/><path class="s0" d="M1297.1 1065.2L1328.6 1250.1L1311.5 1143.8L1236 1185.4L1304 1163L1314 1108.4L1346.6 1038.8L1267.3 1148.7L1362.4 1093.7L1226.8 1136L1302 1143.1L1336.3 1157.7L1332.2 1134.7L1256.5 1335.9" fill="none"/><path class="s1" d="M1374 1208L1347 1187.8L1367.1 1193.1L1350.6 1168.5L1339 1160.4L1356 1166.7L1375.9 1159.6L1360.4 1175.2L1365.4 1173.5L1362.7 1153.3L1384.5 1179.9L1352.6 1195.4L1337.4 1152.6L1288.9 1138.9L1326.8 1175.5L1360.5 1183.7L1357.6 1186.8L1374.7 1183.5L1380.2 1174.5L1355.7 1183.2L1363 1186.5L1377.7 1183.9L1365.1 1191.1L1345.8 1171.6L1370.2 1146.3L1339.5 1174.4L1305.2 1152.9L1369.6 1170.4L1359.8 1181.5L1375.9 1247.4L1328.9 1135.3L1286.5 1198.4L1321.4 1179.6L1372.6 1175L1354.7 1145.8L1399.8 1188.5L1376.4 1181.2L1380.5 1237L1350.6 1185.2L1347.6 1189.8L1381.7 1164L1266.6 1190.8L1360 1196.8L1368.3 1187.2L1335.8 1237L1367 1200L1340.4 1144.8L1378.5 1163.1L1370.8 1201.2L1374.1 1163.3L1308.9 1169.7" fill="none"/><path class="s3" d="M1286.1 1279.9L1217.6 1313.8L1247.4 1275L1256.8 1298.4L1335.2 1376.7L1276.2 1275.4L1283.2 1258.6" fill="none"/><path class="s0" d="M1240.8 1150.1L1368.4 1085.5L1263 1165.3L1321.7 1113.5L1342.8 1107.6L1256.5 1257.3L1311.1 1263.1L1297.4 1090.4L1244 1156.6L1315.3 1138.1L1244.4 1202.6L1340.1 1151.8L1255.5 1194L1257.9 1221.3" fill="none"/><path class="s1" d="M1278.4 1261.5L1375 1185.1L1364.4 1200.5L1353.3 1171.2L1359.4 1175.7L1357.1 1193.9L1327.7 1216L1401.3 1165.4L1347 1275.3L1364.8 1168.5L1366.1 1196.8L1375.9 1141.8L1314.4 1221.3L1377.5 1220.4L1367.7 1205.7L1308.1 1159.1L1387.9 1190.5L1317.1 1204.6L1278.6 1183.1L1359.8 1181.6L1384.7 1151.6L1345.5 1138.4L1390.8 1166.9L1320.5 1134.3L1383.5 1191.6L1364.3 1158.4L1362.7 1170.9L1351.8 1189.4L1358 1166.8L1370.5 1168.1L1378.5 1119L1361.1 1180.1L1374.1 1195.2L1372.4 1155.7L1291.5 1153.2L1280.5 1171.6L1358.5 1176.8L1358.9 1184.1L1285.8 1169.1L1370 1153.5L1386.7 1169.6L1346.9 1180.2L1353.7 1176.9L1350.3 1155.5L1343.1 1155L1349.6 1197.5L1374.3 1287.4L1360.3 1158.9L1364.2 1186.3L1307.1 1134.7L1361.8 1168.2L1367.8 1185.6L1266.5 1125.1L1345.9 1203.3L1360.6 1158.4L1370.9 1162.6" fill="none"/><path class="s3" d="M1297.7 1272L1255.5 1255" fill="none"/><path class="s0" d="M1265.9 1258L1255.5 1136.2L1353.2 1248.6L1291.7 1050.9L1283.3 1094.7L1260.8 1149.8L1298.6 1132.7L1266.7 1139.4L1326.6 1058.4L1282.3 1111.2L1239.6 1139.5L1257 1120.2L1285.2 1171.6L1329.8 1174.9L1232.1 1139.7L1353.9 1052.6L1333.5 1091.2L1232.7 1272.3" fill="none"/><path class="s1" d="M1307.3 1164.4L1319.6 1168L1367.5 1187.1L1342.7 1157.4L1333 1205.7L1362.7 1214.1L1361.8 1163L1375.7 1172.8L1326.8 1208.8L1369 1123.8L1377.9 1188.7L1347.6 1205.8L1357.3 1145.3L1389 1148.3L1356.4 1162.8L1360.2 1181.3L1366 1201.1L1397.6 1218.7L1335.9 1151L1374 1181.5L1369.2 1284L1375 1234.3L1375.8 1170.4L1316.1 1201.9L1344.1 1200.5L1357.2 1156.4L1260.3 1515L1339.8 1209.7L1388.9 1128.4L1361.8 1198.4L1345.7 1199.4L1265 1205.1L1348.8 1150.9L1373.2 1186.7L1319.9 1225.8L1365.6 1189.2L1381.9 1208.6L1366.3 1171.7L1362.3 1179.7L1368.5 1185.7L1365.9 1197.3L1377 1177.5L1362.1 1211.7L1375.1 1204.9" fill="none"/><path class="s3" d="M1203.4 1333.3L1298.3 1276.7L1224 1365.1L1164.1 1309.6L1300.6 1249.8L1267.5 1243.6L1250.3 1429.8L1236.7 1387.3L1230.6 1231.6L1339 1229.1" fill="none"/><path class="s0" d="M1376.7 1124.2L1240.5 1135.9L1319.4 1093.2L1269.9 1121.1L1240.2 1152.5L1261.2 1126.4L1281 1179.5L1262 1152.8L1235.8 1160.7L1308.3 1134.5L1259 1160.4L1258.9 1211.9L1278.7 1154.1L1313.1 1113.4L1212.7 1220.8L1253.9 1159.1L1293.9 1205.1L1274.7 1093.3L1328.9 1114.4L1237.7 1143.3L1242.4 1180.5L1244.4 1163.9L1267.5 1222.3L1350 1073L1377.4 1205.2L1250.4 1135.8L1232.1 1229.2L1355.8 1109.8L1346.6 1081.7L1247.1 1124.1" fill="none"/><path class="s1" d="M1353.9 1189.5L1388.5 1161.9L1358.6 1198.3L1384.4 1112.5L1351 1146.4L1346.7 1167.8L1398.5 1209.6L1366 1155L1361.5 1172.2L1375.9 1176.6L1371.3 1188.6L1339.7 1175.1L1362 1142.4L1354.9 1136.8L1359.6 1193.4L1381.8 1153.1L1368 1171.1L1352.3 1190.4L1435.5 1082.5L1364.4 1147.7L1370.5 1147.7L1375.1 1180.8L1384.2 1175.9L1358.2 1149.3" fill="none"/><path class="s3" d="M1237.1 1248.6L1299.1 1266.1L1231.7 1259.5L1242.9 1198.9L1246.3 1288.2L1270.5 1255.4L1264.2 1227.5L1219.8 1268.7L1293.1 1291.3L1215.1 1307.5L1288.7 1256.5L1219.4 1284.9L1323.5 1233.3L1297.8 1284.2L1246.6 1305.9L1269.1 1257.9L1318.3 1237.9L1230.6 1159" fill="none"/><path class="s0" d="M1246 1124.4L1257.2 1217L1260.4 1202.7L1276.5 1146.5L1307 1074.5L1292.8 1296L1299.8 1113.3L1304.9 1128.3L1306 1106.6L1372.9 1108.2L1307.1 1163.2L1303.1 1066.7L1281.5 1128.5L1337 1061.1L1352.2 1130.7L1299.5 1167.8L1313.1 1100.5L1319.7 1165L1357.1 1052.4L1257.8 1098.7L1235.5 1157.9L1257.7 1153.4L1256.8 1159L1254.1 1219.3L1250.1 1209.6L1360.6 1181.4L1344.5 1061.6L1319.9 1083.7L1262.3 1100.7L1285.7 1155.8L1326.4 1109.4L1358.3 1100.5" fill="none"/><path class="s1" d="M1351.4 1156.2L1371.3 1124.6L1352.3 1192.1L1347.2 1249.3L1353.5 1148.1L1348.7 1173.8L1354.8 1144.8L1360.4 1183.9L1370.2 1162.2L1409.5 1165.9L1355.9 1146.2L1349.9 1191.3L1362.1 1185.7L1365.2 1157.9L1352 1166.8L1374.2 1134L1361.9 1139.6L1370.2 1171.4L1342.2 1215L1345.9 1175.8L1335.5 1165.3L1402.7 1237.5L1342.1 1257.3" fill="none"/><path class="s3" d="M1257.8 1256.5L1208.5 1391.3L1280.2 1252.3L1203.2 1371L1164.1 1359.6L1270.3 1303.1L1283.4 1230.3L1331.5 1247.3L1267.3 1363.4L1252.1 1234.9L1306.3 1250.3L1288.1 1239.3L1272.8 1205.9L1264.8 1349.9L1242.5 1329.3L1213.1 1299.1L1250.7 1223.9" fill="none"/><path class="s0" d="M1340.9 1100.3L1393.5 1100.6L1332.3 1088.6L1306.9 1150.3L1344.6 1159.8L1329.1 1124.6L1234 1240.2L1336.7 1075L1344.3 1064.4L1283.7 1112.8L1318.1 1135.8L1344 1059.4L1271.3 1194.9L1223.2 1175.3L1296.6 1137.9L1247.8 1209.2L1263.4 1180.4L1253.3 1086.7L1287.9 1145.1L1302.2 1190.2L1320.4 1096.3L1302.9 1110.9L1289.5 1265.8L1318.8 1110.4L1336.3 1075.8L1303.1 1122.7L1274.3 1203.9L1319.1 1285.1L1306.2 1138.3L1268.2 1169.7L1281.4 1107.7L1256.3 1155.7L1378.4 1060.3L1431.6 1215L1347.4 1166.6L1320.5 1077.5L1264 1221.2L1232.7 1166.3L1311.9 1111.6L1261 1102.8L1266.7 1088.2L1294.8 1050.2" fill="none"/><path class="s1" d="M1352.8 1165.2L1377.4 1129.7L1384.3 1233.1L1309.9 1233.6L1348.9 1145L1369.9 1143.7L1345.6 1184.3L1327.6 1157.7L1379.7 1140.4L1363.3 1162.5L1447.4 1327.2L1233.5 1068.9" fill="none"/><circle cx="1480.2" cy="1269.1" r="2.3" fill="#00cd00" fill-opacity="0.48"/><path class="s3" d="M1264.6 1331.2L1197.9 1358.1L1256.4 1246.1L1319.1 1259.9L1266.6 1287.4L1249.8 1278.3L1241.5 1289.5L1243.5 1317.8L1227.3 1188.6L1247 1322.6L1243.1 1314.2L1167.4 1272.7L1302.8 1231.1L1245.4 1250.4L1282 1294.9L1250.3 1183.8L1293.1 1258.5" fill="none"/><path class="s0" d="M1296.2 1067L1290.9 1194.7L1276.1 1279.1L1340.5 1130.8L1265.8 1165.8L1273.6 1222.8L1289.5 1165.3L1230.5 1135.5L1365.2 1099L1323.8 1225L1281.8 1088.1L1277.8 1142.8L1287.9 1140.7L1325.1 1091.2L1346.2 1092.4L1293.8 1108.7L1278.4 1093L1235.3 1169.9L1233.8 1146.4L1328 1124.9L1232.4 1174.6L1340.3 1160.7L1258.4 1143.8L1246.8 1165.1L1327.6 1168.7L1312.3 1100.4L1238.7 1169.5L1291.1 1127L1225.8 1153.5L1299.4 1098.1L1390.3 1088.9L1251.7 1113.2L1253.7 1147.4L1259.2 1153.5L1249.8 1136.4L1270.5 1137.3L1331.2 1157.8L1295.9 1215.9L1192 1251.8L1382.6 1076.8L1254.9 1169.8L1308 1168.7L1348.7 1274.9" fill="none"/><path class="s1" d="M1345.7 1153.6L1365.7 1167.5L1380.2 1151.4L1355.4 1206.8L1314 1157.5L1377.6 1175.5" fill="none"/><path class="s2" d="M1428.9 1285.6L1512.7 1298.2L1499.9 1300.7" fill="none"/><path class="s3" d="M1285.3 1251.7L1269.3 1251.3L1255.2 1329.4L1217.3 1317.6L1234.3 1228.3L1272.7 1404.3L1219.9 1299.3L1250.3 1287.4L1242.9 1319.9L1233.3 1311L1251.2 1281.9L1271.8 1236.2L1217.7 1297.7L1195.1 1283.4L1247.5 1307.3L1268.6 1291.1L1169.9 1326.5L1202.3 1335.2L1246.7 1319.3L1267.8 1287.3" fill="none"/><path class="s0" d="M1279.1 1158.3L1342.6 1106.1L1222.8 1215.9L1302.9 1162.7L1381.3 1135.5L1268.4 1080L1242.7 1124L1276.7 1115L1325.9 1076.1L1367.7 1127.1L1320.6 1116.5L1230.6 1267.6L1304 1086.5L1331.2 1059.2L1271.3 1113.2L1267.3 1062.4L1258.5 1144L1289.5 1081.5L1227.6 1129.2L1260 1178.7L1296.7 1098.2L1315.6 1119.2L1232.4 1142.8L1261.9 1188.6L1287.1 1140.4L1279.5 1184.4L1341.2 1123L1288.8 1275.2L1239.6 1171.7L1291.1 1096.8L1350.1 1039.6L1274.7 1206.5L1344.6 1100.6L1217.7 1147.1L1451.3 1161.3L1278.3 1128.6L1284.2 1246L1372.8 1127.4L1292.8 1085.2L1251.8 1108.6L1194.1 1278.5L1238.8 1202.3L1284 1090.8L1260.7 1126.4L1300 1090.3L1322.7 1088.9L1271.6 1073.9L1217.8 1140.7L1368.8 1103.4L1238.7 1152.7" fill="none"/><path class="s1" d="M1365.5 1163.7L1389.3 1210.2L1356.9 1175.7L1366.2 1143.2L1363.8 1243.4L1345.9 1156.9" fill="none"/><path class="s2" d="M1501.3 1296.2L1437.4 1280.5" fill="none"/><path class="s3" d="M1259.5 1238.5L1176.8 1268.3L1190.2 1308.6L1260.5 1349.9L1240.9 1288.3L1258.2 1237.4L1262.8 1294.1L1241 1286.7L1286 1274.4L1250.4 1269.2L1285.2 1346.8L1286 1229.2L1323.9 1251.1L1345 1262.9" fill="none"/><path class="s0" d="M1301.6 1142.9L1324.2 1067.4L1272.8 1124.2L1273.7 1154L1271.8 1101.2L1337.9 1088L1280 1185.7L1312.6 1104.3L1281.6 1113L1324.3 1106.8L1221.2 1274.7L1287.5 1045.8L1322.9 1074.1L1291.5 1097.2L1327.2 1176.9L1283.3 1126.2L1243.4 1152.8L1303.6 1116.7L1331 1118.2L1284.2 1110.8L1340.2 1023.8L1303.6 1181L1335.1 1175.3L1337.8 1120.9L1302.5 1129.8L1341.5 1087.7L1301.9 1138.5L1254.8 1262.6L1273.2 1180.7L1349.4 1141.3L1288.1 1084L1246.4 1191.3L1283.2 1129.4L1280.7 1037.8L1265.9 1156.3L1303 1106.9L1317.4 1171.9L1288.9 1119.3L1317.7 1143.9L1285.7 1101.7L1345.1 1156.9L1348.4 1092.2" fill="none"/><path class="s1" d="M1358.3 1160.5L1351.1 1242.6L1348.7 1187L1372.2 1138.9L1341.4 1162.5L1337.5 1165L1371.9 1150.2L1315.3 1152.7" fill="none"/><path class="s3" d="M1201 1307.6L1214.9 1267.9L1268.1 1266.9L1193.9 1323.2L1304.8 1314.1L1178.3 1310.2L1279.3 1295.1L1223.4 1324.9L1215.8 1367.6L1198.8 1326.1L1287.7 1267.1L1278.9 1197.9L1144.9 1310.2L1272.2 1293.6L1289.9 1283.5L1208.8 1330.1L1220.9 1291.3L1236 1260.6L1315.2 1216.4L1301.5 1281.7L1324.4 1268.7L1175.2 1259.4" fill="none"/><path class="s0" d="M1300 1116.1L1326.6 1082.5L1296.4 1086.6L1296.3 1105.8L1297.7 1099.2L1330.7 1081.3L1246.2 1175.4L1280.5 1195.1L1285.8 1194.2L1303.3 1112L1289.5 1097.3L1260.2 1183.7L1344.7 1224.6L1304.8 1106.6L1296.3 1115.3L1291 1027.3L1278.3 1163.7L1261 1109.7L1333.4 1108.5L1268.7 1115L1259.1 1179.8L1336.4 1136.6L1301.9 1167.7L1334 1266.1L1310.9 1056.2L1318 1139.3L1255.1 1113.1L1241.3 1172.9L1256 1323.9L1294.6 1094.1L1313.9 1148.5L1360.1 1096.7L1305 1123.3L1279.4 1200.9L1284.8 1074.2L1347.9 1151.8L1312 1103L1311.9 1149.8L1326.9 1088.5L1330.9 1012.3L1310.1 1068.6L1317.1 1094.9L1221 1109.6L1275.7 1041L1351.5 1102.9L1336.9 1048L1340.4 1079.7" fill="none"/><path class="s1" d="M1363.1 1156.5L1347.1 1151.7L1360.5 1142.8" fill="none"/><path class="s3" d="M1263.4 1210.6L1225.6 1215.3L1263.4 1299.2L1291.8 1309.5L1238.7 1292.8L1231.4 1290.6L1308.2 1270.4L1255.6 1303.1L1271.4 1293L1270.7 1330.2L1208.1 1277.7L1241.3 1332.7L1250.3 1293.3L1239.7 1245.4L1250.6 1243.2L1264.5 1273.4L1196.3 1335.5L1312.5 1237.1L1227.1 1340.7L1238 1304.7L1239.8 1333.1L1265.9 1215.5" fill="none"/><path class="s0" d="M1290.3 1133.8L1254 1107.6L1307.9 1176.2L1380.6 1106.8L1339.8 1139.7L1284.7 1079.7L1304 1122.5L1293.6 1177.2L1286.1 1126.5L1326.1 1048.6L1281.4 1147.8L1337.9 1085.6L1314.9 1052.7L1298.4 1086.4L1319.8 1100.5L1254.1 1141.9L1263 1123.2L1292.9 1120.5L1270.5 1106L1309.7 1088.1L1237.2 1168L1300.6 1127.7L1277.2 1100.4L1303.4 1091.6L1355.3 1051.2L1281 1125.4L1350.7 1082.5L1294.2 1223.7L1347.5 1089.3L1303.4 1246.6L1284 994.8L1311 1089.5L1303.1 1083.6L1304.9 1062L1352.2 1123.8L1268.2 1169.3L1236.7 1191.2L1337.7 1088L1291.4 1110.3L1299 1090.3" fill="none"/><path class="s1" d="M1314.7 1209.9L1368.5 1158.7L1361.5 1155L1332 1170.8" fill="none"/><path class="s2" d="M1543.7 1323.8L1519.3 1267.5L1486.9 1300L1434.8 1235.6" fill="none"/><path class="s3" d="M1291.3 1245.5L1337.2 1216.7L1231.4 1374.2L1184 1299.7L1254.7 1230.6L1237.5 1286.2L1215.6 1265.7L1256.9 1282.7L1289.6 1220.5L1160.4 1228.9L1280.3 1370.1L1252.1 1334.1L1276.1 1314.1L1259.6 1242.6L1229.5 1296.3L1280.3 1305L1279.5 1262.3L1216.7 1325.3L1227.4 1312.7L1274.9 1240.8L1233.3 1343.4L1224.3 1324L1206.6 1313.4L1202.4 1309.3" fill="none"/><path class="s0" d="M1301.5 1119.3L1309.9 1122.3L1339.9 1120.8L1294.9 1128L1327.6 1131.1L1302.5 1049.6L1326.9 1071.5L1341.6 1147.3L1279.9 1194.4L1344.9 1109.3L1298.9 1119.2L1296.9 1117.8L1304.4 1142.1L1309.4 1052.9L1300.7 1159L1303.2 1104.8L1275.3 1186.4L1277 1128.4L1365.1 1097.7L1276.2 1153.3L1276.6 1081.7L1312.1 1105.7L1315.4 1111.1L1278.1 1095.1L1296.5 1109.4L1282.8 1096.7L1283 1072.8L1290.9 1118.1L1320.5 1281.7L1282.7 1195.2L1300.4 1070.4L1328.8 1077.3L1275.3 1083.8L1222.9 1194.2L1308.5 1145.3L1324.2 1108.9L1414.9 998.2L1310.8 1077.5L1364.9 1037.1L1329.6 1142L1258.3 1272L1298.7 1200.5L1286.9 1167L1275.3 1131.6L1288.3 1130.2L1323.6 1069.5L1252 1177.3" fill="none"/><path class="s1" d="M1380.2 1191.9L1360.4 1171.4" fill="none"/><circle cx="1539.1" cy="1288.8" r="2.3" fill="#00cd00" fill-opacity="0.48"/><path class="s3" d="M1244.9 1298L1249.9 1336.9L1266.5 1324.4L1224.6 1301.3L1290.5 1269.1L1206.3 1301.9L1274.7 1275.4L1246 1318.6L1268.7 1235.2L1249.1 1251.1L1222 1346L1283.2 1258.8L1240.4 1292.9L1255.9 1216.8L1247.6 1333L1305.3 1312.4L1233.3 1267L1284.4 1285L1220.3 1272.5L1226.3 1231.8L1228.5 1252.8L1281.2 1255.1" fill="none"/><path class="s0" d="M1315.6 1112L1292.9 1183.7L1333.4 1137.2L1304 1118.9L1293.6 1147.9L1313.2 1097.4L1313.4 1097.6L1337.9 1043.6L1357.3 1109.9L1253 1196.5L1316.3 1084.9L1258.4 1162.6L1320.4 1041.7L1268.8 1042.8L1293.3 1176.6L1256 1101.7L1274.7 1091.1L1260.9 1084.7L1299.5 1155.2L1295.6 1120.5L1337.1 1141.4L1240 1310.8L1298.5 1126.4L1304.6 1088.1L1299.4 1074.8L1265.5 1150.2L1330.5 1065.2L1251.5 1109.8L1336.1 1100.7L1295.2 1069.9L1372 1054.3L1290.5 1064.1L1263.2 1251L1330.4 1104.3L1288.8 1117.3L1286.8 1175L1314.8 1083.6L1247.8 1213.1L1308 1130.3L1268.8 1135.6L1283.9 1105.5L1321.6 1108.5L1346 1095.2L1251.6 1149.5L1311.9 1198.9L1276.1 1038.2L1268.2 1146L1299.7 1152L1255.9 1299.8" fill="none"/><path class="s3" d="M1234.1 1331.3L1260.6 1298.8L1255.5 1231.3L1193.4 1366.8L1281.6 1278.5L1223.7 1350L1287.5 1295.8L1247.5 1290.6L1181 1359.4L1247.2 1238.7L1220.2 1297.8L1237.9 1265.2L1298.2 1312L1238.4 1253.4L1228.3 1304.1L1185.8 1289.6L1247.6 1309.9L1192.9 1296.4L1268.4 1236.4L1237.4 1190.8L1199.7 1297.4L1191.5 1270.8L1218.3 1332.5" fill="none"/><path class="s0" d="M1296.6 1142L1292.1 1115.4L1320.4 1079.5L1268.5 1168.2L1282.9 1100.1L1291.9 1143.1L1291.6 1109.8L1238.4 1198.8L1300.6 1094.8L1258.9 1161.9L1310.7 1077.3L1305.1 1055.2L1300.2 1070L1309.4 1091.9L1294.8 1117.3L1320.1 1090.9L1268.2 1105.9L1215.5 1173.7L1273.3 1080.6L1296.3 1101.4L1282.4 1121L1243.5 1161.5L1360.2 1100.5L1285.8 1224.3L1343.1 1057.4L1309.9 1138.9L1309.6 1009.7L1330.5 1097.1L1341.7 1080.4L1312.8 1080.3L1306.6 1184.1L1348.5 1063.3L1308.7 1094.1L1303.3 1062.6L1301.7 1133.7L1343.4 1031.3L1276 1104.4L1284.4 1103.4L1307.4 1106.6L1295 1128.6L1274.6 1299.6L1294 1096.1L1353.7 1054.1" fill="none"/><path class="s1" d="M1363.6 1141.6L1338.6 1156.5" fill="none"/><path class="s2" d="M1496.6 1268.8L1510.8 1283.3" fill="none"/><path class="s3" d="M1274.1 1297.6L1226.5 1303L1247.1 1291.8L1216.5 1198.4L1326.5 1268.3L1300.7 1331.8L1227 1261.8L1216.4 1301.3L1206.6 1313.9L1268 1192.4L1246.9 1269.6L1283.1 1293.4L1318 1249.1L1173.6 1335.1L1214.4 1327L1232.3 1344.1L1299.2 1271.7L1237.1 1300.7L1206.6 1332.2L1241.6 1390.3L1275.9 1259.1L1282.8 1330.5L1262 1293.9L1212 1338.6L1207.4 1289.6" fill="none"/><path class="s0" d="M1306.7 1147L1255.4 1184.2L1321.4 1149.7L1260.9 1158.4L1335.7 1121.4L1320.2 1137.5L1274.3 1118.3L1301.4 1100.4L1309.4 1087.5L1252 1136.5L1312 1108.9L1322.4 1038.8L1213.6 1192.4L1296.9 1157.1L1299 1086.5L1288.4 1122.9L1255.6 1150.9L1266.5 1124.2L1259.8 1109.8L1297.6 1083.1L1354.5 1052.1L1311.2 1114.7L1285.5 1058.3L1304.1 1105.8L1295.9 1099.1L1260.8 1121.6L1296.4 1168.6L1285.3 1144.5L1238.9 1250.8L1329.3 1101.8L1279.6 1092L1318.8 1208.7L1273.8 1111.4L1247.7 1186.6L1312.3 1143.4L1314.3 1140.7L1273.3 1186.5L1312.6 1129.7L1268.7 1187L1233.7 1165.4L1310.3 1108L1300.8 1095L1291.5 1136.6L1304.5 1061.7L1322.7 1120.4L1275.4 1120.8L1277.9 1061.3L1340.1 1157.6L1281.5 1233" fill="none"/><path class="s1" d="M1329.6 1192.4L1338.3 1157.5" fill="none"/><circle cx="1506.3" cy="1256.5" r="2.3" fill="#00cd00" fill-opacity="0.48"/><path class="s3" d="M1205.1 1312.4L1192.8 1289.1L1232.7 1204.8L1323.7 1256.9L1242.9 1326.5L1260.6 1309.2L1236.7 1293.1L1214.4 1360.2L1192.8 1291.8L1201.7 1348.6L1255.5 1327.1L1326.7 1298.3L1243.3 1313.8L1245.7 1324.4L1271.8 1284.4L1164.8 1253.4L1234.7 1327.8L1237.8 1258.4L1270.2 1309.7L1204.9 1278" fill="none"/><path class="s0" d="M1309 1078.8L1293.9 1099.8L1307.7 1144.4L1285 1129.1L1300 1159.7L1318.7 1153.5L1254.3 1105.1L1290.3 1094.8L1276.1 1129.7L1292 1100.5L1308.9 1089.3L1272.4 1194.4L1258 1202.1L1369.3 1119.2L1257.6 1148.1L1298.1 1107L1355.9 1100.7L1274.5 1187.3L1316.4 1147.6L1310.7 1066.9L1355.6 1135.7L1253.7 1154.6L1299.9 1116.2L1304.2 1143.7L1263.8 1191.4L1314.2 1134.4L1314.5 1118.3L1278.7 1241L1304.5 1106.2L1356.2 1142.8L1306.6 1109.8L1298.3 1114.9L1366.4 1057.1L1328.5 1104.2L1262.7 1123L1301.4 1119L1305.9 1081.8L1209.9 1136.6L1276.5 1103.3L1273.8 1119.5L1313.4 1171.8L1254.5 1103.4L1296.1 1151L1288.4 1117L1317.6 1144.5L1289.8 1116.5" fill="none"/><circle cx="1310.8" cy="1158.1" r="2.3" fill="#ff0000" fill-opacity="0.5"/><path class="s2" d="M1501 1319L1536.6 1256.5" fill="none"/><path class="s3" d="M1264.8 1267.6L1216.6 1259L1249.5 1334.3L1246.7 1308.7L1258.4 1319.9L1226.8 1267.4L1217.9 1330.9L1247.6 1235.8L1217.3 1306.8L1226.8 1326.2L1316.7 1214.5L1253.1 1345.9L1281.6 1258.1L1210.2 1354.7L1222.8 1300.2L1249.5 1315.2L1209.1 1339.2L1256.9 1322.2L1196.4 1291.5L1211.3 1271.6L1196.2 1306.6L1146.3 1357.3L1206 1271.2" fill="none"/><path class="s0" d="M1239 1082.4L1305.2 1098.9L1294.9 1086.2L1289.6 1162.2L1331.8 1082L1319.6 1076.7L1296 1087.4L1285.8 1234.3L1266.6 1118.6L1270.9 1156.9L1260.6 1128L1347 1026.2L1263.7 1130L1348.3 1089.8L1290.2 1089.8L1341.2 1141.6L1322.8 1069.5L1277.7 1096.9L1295.6 1111.6L1343.7 1091.1L1321.9 1084.1L1282.3 1224.4L1300.5 1111.6L1296.7 1183.3L1289.2 1088.7L1277.9 1217.2L1317.7 1142L1295.8 1263.8L1306.1 1085.7L1288.1 1098L1301.9 1149.4L1330.1 1071.7L1257.1 1275.4L1329.7 1040.5L1285.4 1110.6L1265.8 1096.6L1301.1 1106.1L1296.1 1125.1L1244.9 1108.8L1299.9 1163.8L1343.1 1050.8L1272.3 1126.2L1324.9 1084.3L1293.6 1132.1L1353.5 1137.9" fill="none"/><circle cx="1507.8" cy="1305.6" r="2.3" fill="#00cd00" fill-opacity="0.48"/><path class="s3" d="M1225.7 1262.2L1269.5 1294.5L1211.4 1310L1281.5 1251.4L1191.7 1260.5L1210 1270.7L1210.9 1323L1169.3 1368.6L1211.9 1295.9L1238 1316.9L1223.1 1206.7L1286.9 1274L1241.4 1317.2L1265.1 1345.9L1266.2 1295.8L1272.8 1372.8L1212.9 1333.5L1157.5 1301.9L1261.4 1259.4L1231.3 1286L1273.3 1282L1248.9 1311.2L1232.4 1351.8L1230.3 1296.2L1184.4 1354.1L1214.9 1300.1" fill="none"/><path class="s0" d="M1298.7 1233.2L1279.9 1135.6L1232.6 1105.2L1276.9 1131.7L1289 1105.9L1313 1085.3L1367.1 1085.7L1344 1110.3L1263.2 1107.1L1253.8 1194.1L1345.4 1138.5L1267.6 1173.2L1266.9 1110L1335.5 1132.5L1273.9 1117.2L1252.5 1152.1L1242 1262.3L1290.6 1138L1235.8 1269L1292.6 1112L1286.9 1163.9L1341.7 1049.1L1287 1093.9L1290.7 1161.3L1290.5 1073.7L1311.7 1130.9L1274.2 1126.7L1266.4 1090.9L1298.5 1104.5L1283.3 1093.8L1262.8 1142.2L1308.1 1156.4L1325.5 1120.9L1304.4 1097.9L1328.1 1100.3L1303 1166.8L1297.6 1084.6L1349.3 1075.9L1276.3 1123.7L1280.2 1326.5L1301.8 1112.3L1293 1053.7L1248.2 1189.4L1288.4 1126.5L1310.5 1139.2L1347.8 1110.1L1340.1 1147.5L1341.7 1141.7L1245.7 1169.5L1334.3 1092.4L1317.5 1095.8L1292.7 1113.4L1281.5 1145.2" fill="none"/><path class="s2" d="M1529.5 1288.9L1478.9 1254.5" fill="none"/><path class="s3" d="M1254.1 1250.4L1272.5 1226.7L1220.3 1351.8L1303.4 1235.6L1237.7 1252L1280.1 1342.3L1222.3 1340.5L1262 1339L1306.4 1257.1L1190.5 1404.4L1277.8 1303.5L1207.8 1366.5L1283.6 1275.3L1199.3 1294.6L1183.1 1335.8L1247.3 1334.1L1269.3 1300.2" fill="none"/><path class="s0" d="M1277.1 1181.8L1366.8 1086.9L1294.9 1150.1L1284.7 1083.4L1289.2 1135.4L1348.7 1052.1L1329.7 1110.7L1310.4 1087.3L1276.7 1159.2L1310.8 1151.4L1313.4 1070.7L1373.6 1112.4L1305.7 1137.4L1290.7 1093.1L1319.2 1112.3L1343.3 1055.8L1275.9 1090.4L1313.8 1105.1L1265.7 1166.6L1332.3 1129.3L1270.2 1133.2L1389.8 1021.4L1329.2 1129.6L1325.9 1110.2L1289.3 1061.5L1280.7 1057L1272.7 1160.7L1296.4 1124.6L1348.2 1136.3L1281.5 1118.5L1247.3 1154.8L1320.2 1031.3L1306.1 1111.8L1291.2 1058.3L1311.6 1142.1L1331.3 1092.4L1338 1097.9L1269.3 1156.8L1278.8 1099.4L1316.8 1098.6L1292.2 1157.2L1276.5 1172.3L1297.6 1138.7L1319.4 1135.6L1288.8 1164.3L1311.4 1131" fill="none"/><path class="s2" d="M1469.3 1300.5L1528.5 1295.2" fill="none"/><path class="s3" d="M1225.1 1312L1218.4 1323.7L1243 1343L1243.5 1338.1L1203.3 1337.2L1239.3 1351.8L1262.3 1246.9L1224.8 1290.8L1222 1297.7L1236.9 1321.7L1248.2 1273.6L1267.3 1219.9L1222.6 1308.2L1207.5 1358.9L1156.3 1332.2L1232.3 1322.4L1245 1344L1199.2 1286.8L1197.8 1306.2L1176.8 1321.5L1209.9 1317.8L1221.6 1272.3L1176.2 1280.9L1244.6 1338.9" fill="none"/><path class="s0" d="M1264 1088.7L1334.9 1131.2L1319.3 1132.9L1282.9 1149L1296.4 1149.2L1292.1 1148.9L1293.7 1129.3L1343 1004.4L1298 1086.5L1323.5 1106.5L1279.5 1242.2L1280.7 1110.1L1311 1161.9L1249 1089.2L1269.4 1131.5L1303.9 1041.6L1292.4 1091.2L1221.9 1302.5L1322.6 1118.9L1286 1143.8L1317.6 1111L1239.4 1113.3L1275.1 1129.1L1283.2 1143.3L1289.7 1119.1L1319.6 1149.3L1302.6 1131.5L1279.9 1161.1L1309.3 1082.3L1288.4 1140.5L1309.5 1078.2L1314.5 1073.3L1242.8 1267.9L1275.4 1205.6L1286.2 1122.2L1343 1140.6L1228 1281.9L1286.6 1147.1L1292 1035.1L1284.3 1083.1L1369.1 1109.2L1263.7 1179.3L1344.8 1006.2L1285.3 1216" fill="none"/><path class="s3" d="M1198 1294.1L1264.2 1310.8L1202.3 1292.8L1307.1 1243.2L1220.5 1318.7L1266.9 1265.6L1224 1341.7L1246.7 1344.8L1305 1348.8L1273.5 1412.6L1247.4 1268.4L1269.5 1234.5L1217.1 1302.1L1216.7 1337.9L1185.3 1246.6L1219.5 1305.4L1262.9 1233.1L1253.5 1327.3L1213.5 1328.6L1209.1 1285.7L1283 1370.2L1210.7 1376.9L1248.3 1373.2L1191.4 1351.3L1225 1313.5L1247.1 1272.9L1258.6 1332L1191.3 1389" fill="none"/><path class="s0" d="M1246.8 1195.3L1301 1095.5L1278.1 1120.4L1323.2 1062L1308.8 1073.7L1307.5 1066.4L1297.8 1132.4L1248.6 1135L1292.9 1112.4L1312.1 1143.9L1320.2 1073.4L1274.8 1190L1297.9 1123.5L1264.4 1123.3L1300.3 1111.2L1290 1190.3L1373.1 1056L1290 1088.9L1295.3 1108.3L1339.8 1113.6L1291 1102.5L1252.5 1117.6L1266.8 1123.1L1312 1137.8L1364.5 1087L1253.5 1137.9L1261.5 1112.6L1287 1140.8L1291.9 1045.1L1271.1 1088.7L1259 1126.8L1286.9 1200.3L1282.5 1095.6L1275.2 1099.7L1238.1 1118.7L1274.8 1089.3L1278.4 1248.4L1331.1 1082.9L1286.8 1095.7L1315.4 1053.1L1333.4 1068.2L1274.7 1090.9L1286.7 1137.9L1296.4 1046.1L1306.2 1107.4L1259.2 1081.3L1283.4 1129.7L1268.2 1158.3" fill="none"/><path class="s2" d="M1494.9 1286.9L1448.9 1289.7" fill="none"/><path class="s3" d="M1298.2 1383.8L1216.7 1363.8L1182.2 1369.6L1194.3 1302L1226.1 1298.7L1265 1331.4L1200 1308.5L1291.4 1288.2L1250.7 1367.4L1231.5 1334.7L1227.7 1338.1L1211.7 1232.2L1214 1353.8L1338 1227L1252.3 1271.9L1228.4 1326.7L1155.7 1259.1L1176.5 1376.4L1177.1 1377.6L1260.7 1249.6L1325.3 1237.9L1168.2 1353.9" fill="none"/><path class="s0" d="M1341.6 1133.5L1288 1137.5L1331.5 1114L1267.2 1122.2L1271.5 1140.2L1299.3 1105.8L1231.9 1195.5L1355.9 1097.5L1263.5 1157.6L1294.6 1159.8L1332.9 1043.9L1312.1 1094.9L1295.4 1159.5L1295 1109.5L1262.4 1106.5L1317.3 1109.9L1341.9 1077.4L1249 1114L1335.2 1099.3L1278.2 1139.5L1268.1 1163.6L1335.6 1137L1374.3 1208.2L1281.8 1134.2L1350.5 1086.4L1315.6 1113.3L1297.9 1347L1251.1 1166L1277 1123.2L1274.4 1130.8L1279.7 1086.1L1281.9 1134.7L1311.3 1116L1306.3 1153.4L1298.3 1150.3L1261.6 1157.6L1290.7 1141.6L1278.8 1071.2L1250.8 1125.8L1317.5 1138.9L1267.2 1236.9L1313.2 1088.4L1287.4 1094.8L1295.4 1144.7L1362.1 1030.9L1245.8 1236.7L1256.8 1111L1327.2 1093.4L1293.6 1127.1L1292.9 1105.4L1283.3 1092.1" fill="none"/><circle cx="1512.5" cy="1268.4" r="2.3" fill="#00cd00" fill-opacity="0.48"/><path class="s3" d="M1205.3 1314.8L1218 1374.2L1226.1 1396.7L1227.1 1339.5L1242.3 1267.5L1233.7 1248.1L1235.7 1304.7L1234.6 1281.2L1142 1325.3L1231.8 1338.1L1202.1 1332L1197 1311.1L1211.8 1282.6L1248.8 1304.9L1239.8 1271L1216 1337.1L1236.5 1183.2L1226.2 1375.6L1218.9 1324.7L1192.4 1386.8" fill="none"/><path class="s0" d="M1264.7 1179.9L1277.2 1163L1289.9 1114L1294.8 1153.8L1235.2 1257.8L1338.2 1110.1L1309.7 1125.3L1362.6 1033.8L1276.6 1110.2L1241.7 1067.4L1282 1112.2L1307 1144.7L1280.3 1158.4L1268.2 1128.9L1321.4 1076.5L1279.9 1164.8L1277.1 1158.4L1284.4 1115.2L1304.9 1113L1323.3 1112.6L1253.1 1131.7L1332 1045.7L1293.8 1103.1L1317.4 1153L1243.7 1140.7L1276.9 1093.6L1320.8 1074.3L1319.2 1116.1L1337.7 1082.8L1290.5 1058.9L1279.3 1120.5L1273.5 1196.7L1280.5 1109.3L1272.6 1142.7L1259.3 1151.5L1273.5 1079.3L1307.7 1093.2L1344.1 1071.7L1269.1 1109.3L1303 1084.8L1341.3 1167.8L1269.8 1143.9L1283.7 1136.4L1280.6 1117.3L1299.6 1113.3L1259.7 1129.8L1323.7 1142.2L1338.8 1095L1282.7 1084.1L1291.5 1121.7" fill="none"/><path class="s2" d="M1437.5 1263.4L1422.7 1213" fill="none"/><path class="s3" d="M1227.1 1289.5L1170 1286.2L1237 1353.6L1270.4 1257.7L1196.2 1267.9L1235.7 1341.8L1245.7 1253.2L1218.2 1318.6L1197 1345.9L1198.5 1267.6L1221.2 1325L1281.9 1267.6L1240.4 1316.5L1202.4 1366.6L1258.5 1281.8L1214.4 1276.5L1214.4 1398.6L1286.7 1407.1L1249.1 1352L1272.4 1347" fill="none"/><path class="s0" d="M1310 1159.4L1275 1074.9L1282.5 1121.4L1310.2 1097.9L1316.3 1124.8L1277.4 1093.7L1278.1 1087.3L1295.6 1176.8L1303.9 1157.2L1316.5 1123.1L1275.8 1215.4L1269.8 1077.4L1327.9 1103.1L1274.1 1139.6L1319.2 1112.9L1258.5 1132.6L1278.8 1267L1257.4 1114.3L1277.1 1141.6L1268 1190.1L1203.5 1188.9L1251.1 1159.6L1328 1096.5L1183.9 1269.8L1304.7 1179.2L1401.7 1095.3L1361.6 999L1308.5 1111.5L1311.1 1112.6L1303.3 1104.3L1243.2 1110.2L1304 1102.1L1337.3 1097.7L1313.3 1092.7L1287.3 1092.2L1307.7 1166.1L1330.2 1008.8L1323.9 1143.1L1251.6 1158.9L1262.3 1089L1296.4 1248.8L1290.3 1097.1L1206.5 1217.8L1285.8 1174.4L1283.9 1129.9" fill="none"/><path class="s2" d="M1526.8 1307.3L1517.3 1293.5" fill="none"/><path class="s3" d="M1170 1361.8L1222.9 1314.2L1205.9 1301.4L1183.5 1392.6L1255.9 1250.2L1295.4 1238.9L1210.5 1249L1211.9 1293.4L1235.8 1235.1L1188.8 1374.3L1201.7 1355.7L1141.5 1328.3L1231.8 1321.7L1207.9 1289.2L1206.1 1334L1223.8 1318.4L1211.8 1299.7L1213.9 1294.5L1285.8 1257.7L1195.6 1360.5L1153.7 1361.3L1207.9 1290.5L1167.6 1378.1L1249.6 1300.9L1241.1 1281.4" fill="none"/><path class="s0" d="M1232.9 1120L1301.2 1090.1L1280.6 1334.4L1336.6 1103.1L1312.5 1104.9L1279.4 1274.6L1253.5 1107.9L1330.4 1099.8L1242.7 1210L1296.9 1093.7L1281.1 1130.6L1362.1 1065.2L1259.7 1099.1L1308.5 1310.8L1310.7 1120.2L1304.9 1158L1306.6 1070.8L1320.2 1140.5L1338.4 1129.7L1279 1128.4L1318 1146.8L1297.9 1114.9L1284.2 1077.5L1326.6 1147.7L1296 1103.8L1268.3 1084.4L1313.6 1098.7L1293.9 1126.4L1275.4 1113.7L1303.7 1084.5L1283.7 1061.7L1335.2 1227.4L1286 1084.8L1350.6 1112L1319.5 1109.7L1294.6 1076.2L1351.7 1084.9L1314.8 1111.9L1286.1 1084.9L1237.3 1139.7L1312 1084" fill="none"/><path class="s2" d="M1552.3 1245.8L1416.6 1230.6" fill="none"/><path class="s3" d="M1223.7 1315.3L1249.7 1344.2L1209.3 1346.7L1246.7 1347.9L1244.6 1344.9L1289.4 1219.3L1262.1 1233.3L1218.8 1346.9L1136.3 1340.1L1236.4 1268.1L1251.9 1341.6L1271.1 1299L1235.8 1383.1L1254.8 1340.7L1230.7 1332.5L1150.6 1278.8L1189.4 1384.6L1219.6 1303.6L1183.8 1409.5L1235.4 1308.7L1230.3 1315.3L1224.2 1338.7L1175.9 1333.2L1221.7 1371.5L1199 1329.8L1157.7 1339.9L1163.2 1376.4L1166.9 1331.5L1229.3 1375.6" fill="none"/><path class="s0" d="M1317.8 1011L1252.8 1123.7L1286.6 998.8L1324.1 1126.2L1324.1 1104.4L1310.8 1119.9L1293.1 1121.4L1291.3 1195.7L1341.8 1101.2L1295.1 1129.9L1292.8 1150.6L1272.8 1152.2L1317.8 1111.8L1313.4 1141.5L1266.4 1091.8L1302 1130.2L1321.9 1126.8L1268 1143L1228.1 1176.1L1305.1 1098.2L1327.9 1138L1248.7 1105L1304 1020.1L1299.8 1190.2L1278.8 1146.9L1305.8 1093.1L1301.6 1179.1L1259 1102.4L1241.3 1109.2L1278.9 1121.1L1312.4 1241.3L1273.5 1120.1L1263.3 1130.6L1295.5 1097.3L1267.8 1161.8L1315.1 1048.3L1321.1 1102.5L1255.6 1143.3L1306.2 1084.4L1273 1031.5L1349 1099.7" fill="none"/><path class="s2" d="M1546.6 1298L1478.7 1357.9L1418.6 1309.3L1506.8 1281.3L1539.6 1261.5" fill="none"/><path class="s3" d="M1256.6 1310.9L1191.9 1364.5L1251.2 1395.4L1246.9 1376.6L1235.7 1352.5L1213.8 1293.4L1206.6 1346.4L1233.3 1317.4L1240.6 1347.5L1193.4 1376L1208.1 1359L1220.5 1378.5L1200.7 1329.2L1212.3 1366.4L1186.6 1312.5L1260 1224.1L1289.1 1328.9L1234.7 1346.9L1200.3 1369.9L1212.4 1306.2L1193.6 1337.2L1156.2 1343.2L1224.6 1341.8L1153.7 1382.2L1235.3 1415.3L1223 1282.9" fill="none"/><path class="s0" d="M1294.6 1145L1253.1 1182.8L1289.4 1179.9L1253.8 1097.7L1325.6 1092.6L1257.3 1164.6L1297.6 1144.9L1316.9 1145.4L1253.3 1115.8L1251.5 1149.7L1274.5 1101L1266.7 1249.9L1258.5 1132.4L1254.3 1110L1347.7 1103.8L1274.6 1087.8L1308.6 1125L1263 1123L1311.3 1108.1L1326.4 1168L1265.5 1163.7L1258.8 1066.9L1264.3 1127.3L1367.6 1282.3L1389.7 1067.3L1279.3 1151.6L1326.6 1145.2L1311.8 1132.6L1282.3 1143.9L1253.9 1164.2L1300.5 1106.1L1302.4 1116.1L1209.8 1251.3L1263.8 1182.9L1253.5 1135.8L1303.1 1051.5L1372.8 1092.1L1251.5 1059.3L1250.9 1152.5L1317.7 1054.9" fill="none"/><path class="s2" d="M1423.6 1238.2L1555.7 1273.5L1537.4 1267L1567.5 1334.1L1490.2 1277.1" fill="none"/><path class="s3" d="M1252.7 1281.6L1190.1 1310.7L1232.8 1314.8L1160.9 1318.1L1244.9 1326L1235.1 1380.1L1173.2 1371.6L1231.1 1312.1L1236.4 1310.4L1241.3 1337.2L1220.7 1323.9L1193 1334.5L1241.5 1379.4L1241.1 1311L1223 1397.5L1199.2 1380.6L1207.3 1334.1L1232.8 1319.6L1184.4 1323.9L1164.4 1346.7L1171.9 1374.2L1169.7 1266.2L1183.3 1333.6L1237.2 1299.5L1170.4 1308.8L1159.8 1320.8L1208.9 1316.1" fill="none"/><path class="s0" d="M1299.3 1139.6L1266.4 1079.8L1333.8 1074.3L1355.2 972.7L1247.1 1117.8L1313 1069.2L1386.7 1016.2L1286.7 1221.5L1269.5 1214.8L1318.9 1125.3L1314.2 1111.1L1305.9 1079.8L1313.2 1165.8L1269.4 1087.6L1296.7 1129.2L1260.6 1168.1L1275 1137.2L1245.6 1244L1338.8 1042.8L1284.5 1098.8L1295.7 1147.8L1227.4 1309.4L1311 1110.1L1309.4 1328.6L1265.6 1088.4L1288.6 1146.6L1320.2 1155.6L1315.2 1113.2L1266.7 1076.7L1285 1127.6L1328.2 1095.2L1245.6 1162.2L1321.4 1235.7L1306.1 1129.9L1293.2 1104.6L1279 1127.7L1274.6 1123.6L1275.1 1092.9L1273.2 1154.3L1275.7 1149.1L1259.7 1143.4" fill="none"/><path class="s2" d="M1468.3 1214.9L1463.4 1316.9L1490.6 1304.1L1548.1 1268.3" fill="none"/><path class="s3" d="M1179.8 1296.7L1138.9 1325.6L1204.8 1306.6L1285.6 1245.7L1197.1 1313.9L1227.3 1314.2L1165.4 1301.3L1166.1 1252.6L1158.1 1380.4L1153.9 1289.3L1220.5 1280.6L1250.7 1328L1165.7 1357.2L1212.4 1377.5L1197.2 1352.2L1263.8 1363.5L1206.8 1322L1247.9 1383.3L1201.7 1303.4L1258.8 1294.3L1239.6 1319.9L1289.9 1377L1152.8 1350.3L1195.1 1365.8L1312.1 1281.1L1192.3 1285.1L1214.7 1431.3" fill="none"/><path class="s0" d="M1329 1058.2L1361.1 1105.3L1301.4 1077.2L1333.1 1069L1339.1 1107.9L1219.7 1158L1224.4 1169L1339.2 1106.5L1332.8 1177L1269.7 1104.1L1234.3 1222.7L1335 1077.4L1337.3 972.6L1322.2 1088.2L1251.9 1137L1297.2 1104.2L1330 1130.2L1318 1154.3L1264.9 1151.6L1275.4 1100.2L1237.1 1259.4L1370.2 952.2L1198.9 1240.5L1292.5 1150.6L1328.4 1052.4" fill="none"/><circle cx="1295.3" cy="1361.5" r="2.3" fill="#ff0000" fill-opacity="0.5"/><path class="s2" d="M1540.9 1280.7L1484.2 1291.8L1588.4 1300L1479.1 1238.3L1590 1388.9L1525.7 1297.5L1515.7 1249.9L1515.6 1264.1L1473.9 1287.8L1468.8 1408.4L1485.8 1286L1501.2 1286.8L1422.7 1239.8L1443.5 1283.4" fill="none"/><path class="s3" d="M1283 1312.3L1231 1204.7L1169.2 1390.3L1207.8 1406.6L1212.3 1316.9L1245.1 1317.2L1177.8 1342.2L1283.9 1331.8L1215 1375.6L1290.6 1148.7L1256.2 1311L1266.6 1259.7L1230.8 1341L1222.2 1304.8L1221.8 1339.2L1238.9 1416.9L1253.2 1300.8L1221.5 1419.3L1205.3 1313.8L1199.1 1403.9L1253.3 1342L1282.4 1340.3L1220.9 1340.5L1282.8 1177.4L1272.7 1317.1L1285.9 1323L1232.4 1408.8L1226.8 1368.5L1214.8 1314.4L1314.8 1452.7L1118.8 1315.3L1113.6 1286.6" fill="none"/></g>
<path d="M1105.4 1470.6L1500.9 1660.2" stroke="#000" stroke-opacity="0.27" stroke-linecap="round" fill="none" stroke-width="4.3"/>
<path d="M1105.4 1470.6L1011.9 1254.2" stroke="#000" stroke-opacity="0.27" stroke-linecap="round" fill="none" stroke-width="4.3"/>
<path d="M1011.9 1254.2L1503.1 1476.9" stroke="#000" stroke-opacity="0.27" stroke-linecap="round" fill="none" stroke-width="4.3"/>
<path d="M1011.9 1254.2L1275.6 870.9" stroke="#000" stroke-opacity="0.27" stroke-linecap="round" fill="none" stroke-width="4.3"/>
<path d="M1275.6 870.9L1731.7 1044.2" stroke="#000" stroke-opacity="0.27" stroke-linecap="round" fill="none" stroke-width="4.3"/>
<path d="M1500.9 1660.2L1686.7 1292.9" stroke="#000" stroke-opacity="0.27" stroke-linecap="round" fill="none" stroke-width="4.3"/>
<path d="M1500.9 1660.2L1503.1 1476.9" stroke="#000" stroke-opacity="0.27" stroke-linecap="round" fill="none" stroke-width="4.3"/>
<path d="M1503.1 1476.9L1731.7 1044.2" stroke="#000" stroke-opacity="0.27" stroke-linecap="round" fill="none" stroke-width="4.3"/>
<path d="M1686.7 1292.9L1731.7 1044.2" stroke="#000" stroke-opacity="0.27" stroke-linecap="round" fill="none" stroke-width="4.3"/>
<path d="M1288.8 875.9l-2.1 -21.4" stroke="#000" stroke-opacity="0.27" stroke-linecap="round" fill="none" stroke-width="3.2"/>
<path d="M1360.6 903.2l-1.2 -21" stroke="#000" stroke-opacity="0.27" stroke-linecap="round" fill="none" stroke-width="3.2"/>
<path d="M1433.9 931l0 -20.5" stroke="#000" stroke-opacity="0.27" stroke-linecap="round" fill="none" stroke-width="3.2"/>
<path d="M1508.8 959.5l0.8 -20.5" stroke="#000" stroke-opacity="0.27" stroke-linecap="round" fill="none" stroke-width="3.2"/>
<path d="M1585.3 988.5l1.6 -20.5" stroke="#000" stroke-opacity="0.27" stroke-linecap="round" fill="none" stroke-width="3.2"/>
<path d="M1663.4 1018.2l2.7 -20.5" stroke="#000" stroke-opacity="0.27" stroke-linecap="round" fill="none" stroke-width="3.2"/>
<path d="M1255.5 900.2l-4.1 -21" stroke="#000" stroke-opacity="0.27" stroke-linecap="round" fill="none" stroke-width="3.2"/>
<path d="M1210.9 965l-4.6 -20" stroke="#000" stroke-opacity="0.27" stroke-linecap="round" fill="none" stroke-width="3.2"/>
<path d="M1164.6 1032.3l-5.5 -19.5" stroke="#000" stroke-opacity="0.27" stroke-linecap="round" fill="none" stroke-width="3.2"/>
<path d="M1116.4 1102.3l-6 -18.5" stroke="#000" stroke-opacity="0.27" stroke-linecap="round" fill="none" stroke-width="3.2"/>
<path d="M1066.4 1175l-6.8 -18.3" stroke="#000" stroke-opacity="0.27" stroke-linecap="round" fill="none" stroke-width="3.2"/>
<path d="M1014.3 1250.7l-8.2 -19.1" stroke="#000" stroke-opacity="0.27" stroke-linecap="round" fill="none" stroke-width="3.2"/>
<path d="M1730.8 1049.4l32.8 17.2" stroke="#000" stroke-opacity="0.27" stroke-linecap="round" fill="none" stroke-width="3.2"/>
<path d="M1718.5 1117.2l31.4 12.9" stroke="#000" stroke-opacity="0.27" stroke-linecap="round" fill="none" stroke-width="3.2"/>
<path d="M1707.5 1178.3l28.7 10.9" stroke="#000" stroke-opacity="0.27" stroke-linecap="round" fill="none" stroke-width="3.2"/>
<path d="M1697.4 1233.7l26.5 10.9" stroke="#000" stroke-opacity="0.27" stroke-linecap="round" fill="none" stroke-width="3.2"/>
<path d="M1688.3 1284.2l26 10.9" stroke="#000" stroke-opacity="0.27" stroke-linecap="round" fill="none" stroke-width="3.2"/>
<text x="1284.4" y="847.1" class="d">-4</text>
<text x="1355.7" y="872.5" class="d">-2</text>
<text x="1436" y="902.8" class="d">0</text>
<text x="1511.8" y="932.2" class="d">2</text>
<text x="1589.1" y="961.7" class="d">4</text>
<text x="1667.6" y="988.8" class="d">6</text>
<text x="1245.8" y="873.6" class="d">4</text>
<text x="1201.2" y="939" class="d">2</text>
<text x="1155" y="1007.1" class="d">0</text>
<text x="1101.7" y="1076.8" class="d">-2</text>
<text x="1051.1" y="1148.2" class="d">-4</text>
<text x="999.6" y="1222.3" class="d">-6</text>
<text x="1788.8" y="1087.8" class="d">4</text>
<text x="1776.7" y="1154.2" class="d">2</text>
<text x="1765.2" y="1212.7" class="d">0</text>
<text x="1753.5" y="1270.8" class="d">-2</text>
<text x="1741.5" y="1318.1" class="d">-4</text>
<text x="1023.8" y="1401.1" class="l">LD3</text>
<text x="1269.6" y="1600.7" class="l">LD1</text>
<text x="1652.9" y="1470.3" class="l">LD2</text>
<text x="1044.5" y="961.3" class="p" style="font-size:76.5px">d</text>
</g></svg></body></html>
